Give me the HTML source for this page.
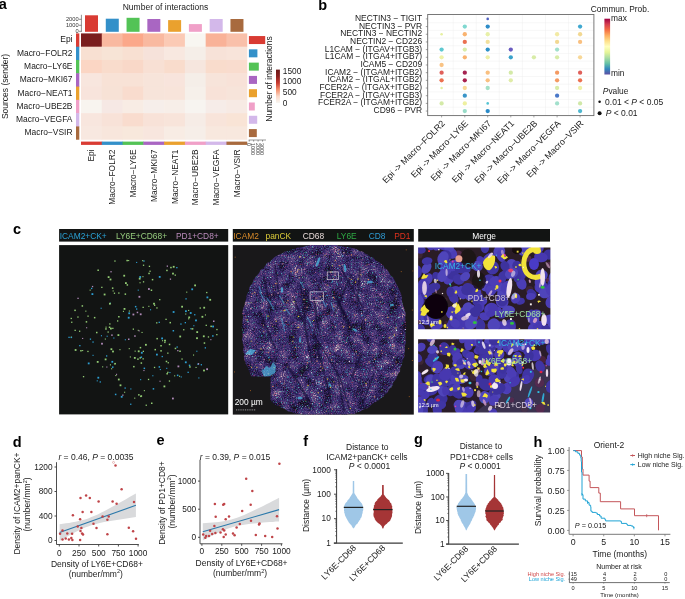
<!DOCTYPE html>
<html><head><meta charset="utf-8"><style>
html,body{margin:0;padding:0;background:#fff;width:685px;height:599px;overflow:hidden}
svg{display:block;filter:blur(0.4px)}
text{font-family:"Liberation Sans", sans-serif}
</style></head><body>
<svg width="685" height="599" viewBox="0 0 685 599" font-family='"Liberation Sans", sans-serif'>
<rect width="685" height="599" fill="#fff"/>
<text x="-1.20" y="8.70" font-size="14.5" text-anchor="start" fill="#000" font-weight="bold" >a</text>
<text x="165.50" y="10.20" font-size="8.5" text-anchor="middle" fill="#1a1a1a" >Number of interactions</text>
<rect x="85.00" y="15.30" width="13.00" height="16.50" fill="#d93b33" />
<rect x="105.78" y="18.70" width="13.00" height="13.10" fill="#3390c9" />
<rect x="126.56" y="17.80" width="13.00" height="14.00" fill="#53c356" />
<rect x="147.34" y="19.00" width="13.00" height="12.80" fill="#a966c2" />
<rect x="168.12" y="20.10" width="13.00" height="11.70" fill="#eaa12e" />
<rect x="188.90" y="24.10" width="13.00" height="7.70" fill="#f0a0c8" />
<rect x="209.68" y="19.00" width="13.00" height="12.80" fill="#d3b8ea" />
<rect x="230.46" y="19.00" width="13.00" height="12.80" fill="#a86a3e" />
<line x1="81.40" y1="14.80" x2="81.40" y2="31.80" stroke="#444" stroke-width="0.6" />
<line x1="79.00" y1="19.30" x2="81.40" y2="19.30" stroke="#444" stroke-width="0.6" />
<text x="78.60" y="21.30" font-size="5.7" text-anchor="end" fill="#333" >2000</text>
<line x1="79.00" y1="25.30" x2="81.40" y2="25.30" stroke="#444" stroke-width="0.6" />
<text x="78.60" y="27.30" font-size="5.7" text-anchor="end" fill="#333" >1000</text>
<line x1="79.00" y1="31.30" x2="81.40" y2="31.30" stroke="#444" stroke-width="0.6" />
<text x="78.60" y="33.30" font-size="5.7" text-anchor="end" fill="#333" >0</text>
<rect x="81.00" y="33.40" width="21.28" height="13.79" fill="#7a1e1e" />
<rect x="101.78" y="33.40" width="21.28" height="13.79" fill="#f9b9a0" />
<rect x="122.56" y="33.40" width="21.28" height="13.79" fill="#fba88a" />
<rect x="143.34" y="33.40" width="21.28" height="13.79" fill="#f9b9a0" />
<rect x="164.12" y="33.40" width="21.28" height="13.79" fill="#fbcab5" />
<rect x="184.90" y="33.40" width="21.28" height="13.79" fill="#f8f6f1" />
<rect x="205.68" y="33.40" width="21.28" height="13.79" fill="#f9b298" />
<rect x="226.46" y="33.40" width="20.78" height="13.79" fill="#f9c0aa" />
<rect x="81.00" y="46.69" width="21.28" height="13.79" fill="#f8e0d2" />
<rect x="101.78" y="46.69" width="21.28" height="13.79" fill="#f7e4d6" />
<rect x="122.56" y="46.69" width="21.28" height="13.79" fill="#f8e0d2" />
<rect x="143.34" y="46.69" width="21.28" height="13.79" fill="#f6e2da" />
<rect x="164.12" y="46.69" width="21.28" height="13.79" fill="#f8e8e0" />
<rect x="184.90" y="46.69" width="21.28" height="13.79" fill="#f5eee8" />
<rect x="205.68" y="46.69" width="21.28" height="13.79" fill="#f7e2d8" />
<rect x="226.46" y="46.69" width="20.78" height="13.79" fill="#f8e4da" />
<rect x="81.00" y="59.98" width="21.28" height="13.79" fill="#fbd6c4" />
<rect x="101.78" y="59.98" width="21.28" height="13.79" fill="#f9dccc" />
<rect x="122.56" y="59.98" width="21.28" height="13.79" fill="#f9d8c8" />
<rect x="143.34" y="59.98" width="21.28" height="13.79" fill="#f8e0d4" />
<rect x="164.12" y="59.98" width="21.28" height="13.79" fill="#f9dccc" />
<rect x="184.90" y="59.98" width="21.28" height="13.79" fill="#f6e6de" />
<rect x="205.68" y="59.98" width="21.28" height="13.79" fill="#f9dccc" />
<rect x="226.46" y="59.98" width="20.78" height="13.79" fill="#f9dcce" />
<rect x="81.00" y="73.27" width="21.28" height="13.79" fill="#f8e6de" />
<rect x="101.78" y="73.27" width="21.28" height="13.79" fill="#f8e2d6" />
<rect x="122.56" y="73.27" width="21.28" height="13.79" fill="#f8e2d6" />
<rect x="143.34" y="73.27" width="21.28" height="13.79" fill="#f7e4da" />
<rect x="164.12" y="73.27" width="21.28" height="13.79" fill="#f8e4dc" />
<rect x="184.90" y="73.27" width="21.28" height="13.79" fill="#f5eee8" />
<rect x="205.68" y="73.27" width="21.28" height="13.79" fill="#f7e4da" />
<rect x="226.46" y="73.27" width="20.78" height="13.79" fill="#f8e2d8" />
<rect x="81.00" y="86.56" width="21.28" height="13.79" fill="#f8e4dc" />
<rect x="101.78" y="86.56" width="21.28" height="13.79" fill="#f7e2d6" />
<rect x="122.56" y="86.56" width="21.28" height="13.79" fill="#f9dcce" />
<rect x="143.34" y="86.56" width="21.28" height="13.79" fill="#f7e4da" />
<rect x="164.12" y="86.56" width="21.28" height="13.79" fill="#f8e4da" />
<rect x="184.90" y="86.56" width="21.28" height="13.79" fill="#f6f0ea" />
<rect x="205.68" y="86.56" width="21.28" height="13.79" fill="#f8e2d8" />
<rect x="226.46" y="86.56" width="20.78" height="13.79" fill="#f7e4da" />
<rect x="81.00" y="99.85" width="21.28" height="13.79" fill="#f8f4ef" />
<rect x="101.78" y="99.85" width="21.28" height="13.79" fill="#f6e8e4" />
<rect x="122.56" y="99.85" width="21.28" height="13.79" fill="#f8ece4" />
<rect x="143.34" y="99.85" width="21.28" height="13.79" fill="#f6eeea" />
<rect x="164.12" y="99.85" width="21.28" height="13.79" fill="#f7eee8" />
<rect x="184.90" y="99.85" width="21.28" height="13.79" fill="#f7f4f0" />
<rect x="205.68" y="99.85" width="21.28" height="13.79" fill="#f6ece8" />
<rect x="226.46" y="99.85" width="20.78" height="13.79" fill="#f7eae4" />
<rect x="81.00" y="113.14" width="21.28" height="13.79" fill="#f8e6de" />
<rect x="101.78" y="113.14" width="21.28" height="13.79" fill="#f8e2d8" />
<rect x="122.56" y="113.14" width="21.28" height="13.79" fill="#f9dcce" />
<rect x="143.34" y="113.14" width="21.28" height="13.79" fill="#f8e2d8" />
<rect x="164.12" y="113.14" width="21.28" height="13.79" fill="#f8e4da" />
<rect x="184.90" y="113.14" width="21.28" height="13.79" fill="#f6ece6" />
<rect x="205.68" y="113.14" width="21.28" height="13.79" fill="#f8e4da" />
<rect x="226.46" y="113.14" width="20.78" height="13.79" fill="#f9e4d6" />
<rect x="81.00" y="126.43" width="21.28" height="13.29" fill="#f8e8e0" />
<rect x="101.78" y="126.43" width="21.28" height="13.29" fill="#f8e6dc" />
<rect x="122.56" y="126.43" width="21.28" height="13.29" fill="#f8e8dc" />
<rect x="143.34" y="126.43" width="21.28" height="13.29" fill="#f8e6de" />
<rect x="164.12" y="126.43" width="21.28" height="13.29" fill="#f8ece4" />
<rect x="184.90" y="126.43" width="21.28" height="13.29" fill="#f6eee8" />
<rect x="205.68" y="126.43" width="21.28" height="13.29" fill="#f8e8de" />
<rect x="226.46" y="126.43" width="20.78" height="13.29" fill="#f8e8de" />
<rect x="76.00" y="33.40" width="3.30" height="13.79" fill="#d93b33" />
<rect x="76.00" y="46.69" width="3.30" height="13.79" fill="#3390c9" />
<rect x="76.00" y="59.98" width="3.30" height="13.79" fill="#53c356" />
<rect x="76.00" y="73.27" width="3.30" height="13.79" fill="#a966c2" />
<rect x="76.00" y="86.56" width="3.30" height="13.79" fill="#eaa12e" />
<rect x="76.00" y="99.85" width="3.30" height="13.79" fill="#f0a0c8" />
<rect x="76.00" y="113.14" width="3.30" height="13.79" fill="#d3b8ea" />
<rect x="76.00" y="126.43" width="3.30" height="13.29" fill="#a86a3e" />
<rect x="81.00" y="141.60" width="21.28" height="3.30" fill="#d93b33" />
<rect x="101.78" y="141.60" width="21.28" height="3.30" fill="#3390c9" />
<rect x="122.56" y="141.60" width="21.28" height="3.30" fill="#53c356" />
<rect x="143.34" y="141.60" width="21.28" height="3.30" fill="#a966c2" />
<rect x="164.12" y="141.60" width="21.28" height="3.30" fill="#eaa12e" />
<rect x="184.90" y="141.60" width="21.28" height="3.30" fill="#f0a0c8" />
<rect x="205.68" y="141.60" width="21.28" height="3.30" fill="#d3b8ea" />
<rect x="226.46" y="141.60" width="20.78" height="3.30" fill="#a86a3e" />
<rect x="248.90" y="36.05" width="16.30" height="8.00" fill="#d93b33" />
<rect x="248.90" y="49.33" width="8.50" height="8.00" fill="#3390c9" />
<rect x="248.90" y="62.62" width="9.90" height="8.00" fill="#53c356" />
<rect x="248.90" y="75.91" width="8.10" height="8.00" fill="#a966c2" />
<rect x="248.90" y="89.20" width="8.10" height="8.00" fill="#eaa12e" />
<rect x="248.90" y="102.49" width="5.90" height="8.00" fill="#f0a0c8" />
<rect x="248.90" y="115.78" width="8.30" height="8.00" fill="#d3b8ea" />
<rect x="248.90" y="129.08" width="7.90" height="8.00" fill="#a86a3e" />
<line x1="248.70" y1="140.00" x2="266.00" y2="140.00" stroke="#555" stroke-width="0.6" />
<line x1="249.20" y1="140.00" x2="249.20" y2="141.60" stroke="#555" stroke-width="0.6" />
<text transform="translate(247.40,142.9) rotate(90)" font-size="5.4" fill="#444">0</text>
<line x1="253.65" y1="140.00" x2="253.65" y2="141.60" stroke="#555" stroke-width="0.6" />
<text transform="translate(251.40,142.9) rotate(90)" font-size="5.4" fill="#444">1000</text>
<line x1="258.10" y1="140.00" x2="258.10" y2="141.60" stroke="#555" stroke-width="0.6" />
<text transform="translate(255.80,142.9) rotate(90)" font-size="5.4" fill="#444">2000</text>
<line x1="262.55" y1="140.00" x2="262.55" y2="141.60" stroke="#555" stroke-width="0.6" />
<text transform="translate(260.20,142.9) rotate(90)" font-size="5.4" fill="#444">3000</text>
<text x="72.50" y="42.40" font-size="8.45" text-anchor="end" fill="#1a1a1a" >Epi</text>
<text x="72.50" y="55.69" font-size="8.45" text-anchor="end" fill="#1a1a1a" >Macro−FOLR2</text>
<text x="72.50" y="68.98" font-size="8.45" text-anchor="end" fill="#1a1a1a" >Macro−LY6E</text>
<text x="72.50" y="82.27" font-size="8.45" text-anchor="end" fill="#1a1a1a" >Macro−MKI67</text>
<text x="72.50" y="95.56" font-size="8.45" text-anchor="end" fill="#1a1a1a" >Macro−NEAT1</text>
<text x="72.50" y="108.85" font-size="8.45" text-anchor="end" fill="#1a1a1a" >Macro−UBE2B</text>
<text x="72.50" y="122.14" font-size="8.45" text-anchor="end" fill="#1a1a1a" >Macro−VEGFA</text>
<text x="72.50" y="135.43" font-size="8.45" text-anchor="end" fill="#1a1a1a" >Macro−VSIR</text>
<text transform="translate(94.39,149.5) rotate(-90)" font-size="8.4" text-anchor="end" fill="#1a1a1a">Epi</text>
<text transform="translate(115.17,149.5) rotate(-90)" font-size="8.4" text-anchor="end" fill="#1a1a1a">Macro−FOLR2</text>
<text transform="translate(135.95,149.5) rotate(-90)" font-size="8.4" text-anchor="end" fill="#1a1a1a">Macro−LY6E</text>
<text transform="translate(156.73,149.5) rotate(-90)" font-size="8.4" text-anchor="end" fill="#1a1a1a">Macro−MKI67</text>
<text transform="translate(177.51,149.5) rotate(-90)" font-size="8.4" text-anchor="end" fill="#1a1a1a">Macro−NEAT1</text>
<text transform="translate(198.29,149.5) rotate(-90)" font-size="8.4" text-anchor="end" fill="#1a1a1a">Macro−UBE2B</text>
<text transform="translate(219.07,149.5) rotate(-90)" font-size="8.4" text-anchor="end" fill="#1a1a1a">Macro−VEGFA</text>
<text transform="translate(239.85,149.5) rotate(-90)" font-size="8.4" text-anchor="end" fill="#1a1a1a">Macro−VSIR</text>
<text transform="translate(8.0,86.5) rotate(-90)" font-size="8.5" text-anchor="middle" fill="#1a1a1a">Sources (sender)</text>
<text transform="translate(271.6,79.0) rotate(-90)" font-size="8.5" text-anchor="middle" fill="#1a1a1a">Number of interactions</text>
<defs><linearGradient id="hmg" x1="0" y1="1" x2="0" y2="0"><stop offset="0" stop-color="#f8f6f2"/><stop offset="0.2" stop-color="#fbd8c8"/><stop offset="0.4" stop-color="#f4906c"/><stop offset="0.6" stop-color="#c83a30"/><stop offset="0.8" stop-color="#8c2020"/><stop offset="1" stop-color="#6a1818"/></linearGradient></defs>
<rect x="276.00" y="69.60" width="3.90" height="33.40" fill="url(#hmg)" />
<text x="282.80" y="73.80" font-size="8.3" text-anchor="start" fill="#1a1a1a" >1500</text>
<text x="282.80" y="84.20" font-size="8.3" text-anchor="start" fill="#1a1a1a" >1000</text>
<text x="282.80" y="95.00" font-size="8.3" text-anchor="start" fill="#1a1a1a" >500</text>
<text x="282.80" y="105.60" font-size="8.3" text-anchor="start" fill="#1a1a1a" >0</text>
<text x="318.20" y="9.60" font-size="14.5" text-anchor="start" fill="#000" font-weight="bold" >b</text>
<line x1="453.20" y1="14.50" x2="453.20" y2="115.60" stroke="#ececec" stroke-width="0.4" />
<line x1="476.25" y1="14.50" x2="476.25" y2="115.60" stroke="#ececec" stroke-width="0.4" />
<line x1="499.25" y1="14.50" x2="499.25" y2="115.60" stroke="#ececec" stroke-width="0.4" />
<line x1="522.35" y1="14.50" x2="522.35" y2="115.60" stroke="#ececec" stroke-width="0.4" />
<line x1="545.50" y1="14.50" x2="545.50" y2="115.60" stroke="#ececec" stroke-width="0.4" />
<line x1="568.60" y1="14.50" x2="568.60" y2="115.60" stroke="#ececec" stroke-width="0.4" />
<line x1="427.70" y1="22.74" x2="593.90" y2="22.74" stroke="#ececec" stroke-width="0.4" />
<line x1="427.70" y1="30.42" x2="593.90" y2="30.42" stroke="#ececec" stroke-width="0.4" />
<line x1="427.70" y1="38.10" x2="593.90" y2="38.10" stroke="#ececec" stroke-width="0.4" />
<line x1="427.70" y1="45.78" x2="593.90" y2="45.78" stroke="#ececec" stroke-width="0.4" />
<line x1="427.70" y1="53.46" x2="593.90" y2="53.46" stroke="#ececec" stroke-width="0.4" />
<line x1="427.70" y1="61.14" x2="593.90" y2="61.14" stroke="#ececec" stroke-width="0.4" />
<line x1="427.70" y1="68.82" x2="593.90" y2="68.82" stroke="#ececec" stroke-width="0.4" />
<line x1="427.70" y1="76.50" x2="593.90" y2="76.50" stroke="#ececec" stroke-width="0.4" />
<line x1="427.70" y1="84.18" x2="593.90" y2="84.18" stroke="#ececec" stroke-width="0.4" />
<line x1="427.70" y1="91.86" x2="593.90" y2="91.86" stroke="#ececec" stroke-width="0.4" />
<line x1="427.70" y1="99.54" x2="593.90" y2="99.54" stroke="#ececec" stroke-width="0.4" />
<line x1="427.70" y1="107.22" x2="593.90" y2="107.22" stroke="#ececec" stroke-width="0.4" />
<rect x="427.7" y="14.5" width="166.20" height="101.10" fill="none" stroke="#6a6a6a" stroke-width="0.9"/>
<line x1="425.80" y1="18.90" x2="427.70" y2="18.90" stroke="#666" stroke-width="0.6" />
<line x1="425.80" y1="26.58" x2="427.70" y2="26.58" stroke="#666" stroke-width="0.6" />
<line x1="425.80" y1="34.26" x2="427.70" y2="34.26" stroke="#666" stroke-width="0.6" />
<line x1="425.80" y1="41.94" x2="427.70" y2="41.94" stroke="#666" stroke-width="0.6" />
<line x1="425.80" y1="49.62" x2="427.70" y2="49.62" stroke="#666" stroke-width="0.6" />
<line x1="425.80" y1="57.30" x2="427.70" y2="57.30" stroke="#666" stroke-width="0.6" />
<line x1="425.80" y1="64.98" x2="427.70" y2="64.98" stroke="#666" stroke-width="0.6" />
<line x1="425.80" y1="72.66" x2="427.70" y2="72.66" stroke="#666" stroke-width="0.6" />
<line x1="425.80" y1="80.34" x2="427.70" y2="80.34" stroke="#666" stroke-width="0.6" />
<line x1="425.80" y1="88.02" x2="427.70" y2="88.02" stroke="#666" stroke-width="0.6" />
<line x1="425.80" y1="95.70" x2="427.70" y2="95.70" stroke="#666" stroke-width="0.6" />
<line x1="425.80" y1="103.38" x2="427.70" y2="103.38" stroke="#666" stroke-width="0.6" />
<line x1="425.80" y1="111.06" x2="427.70" y2="111.06" stroke="#666" stroke-width="0.6" />
<line x1="441.60" y1="115.60" x2="441.60" y2="117.40" stroke="#666" stroke-width="0.6" />
<line x1="464.80" y1="115.60" x2="464.80" y2="117.40" stroke="#666" stroke-width="0.6" />
<line x1="487.70" y1="115.60" x2="487.70" y2="117.40" stroke="#666" stroke-width="0.6" />
<line x1="510.80" y1="115.60" x2="510.80" y2="117.40" stroke="#666" stroke-width="0.6" />
<line x1="533.90" y1="115.60" x2="533.90" y2="117.40" stroke="#666" stroke-width="0.6" />
<line x1="557.10" y1="115.60" x2="557.10" y2="117.40" stroke="#666" stroke-width="0.6" />
<line x1="580.10" y1="115.60" x2="580.10" y2="117.40" stroke="#666" stroke-width="0.6" />
<text x="422.10" y="21.00" font-size="8.45" text-anchor="end" fill="#1a1a1a" >NECTIN3 − TIGIT</text>
<text x="422.10" y="28.68" font-size="8.45" text-anchor="end" fill="#1a1a1a" >NECTIN3 − PVR</text>
<text x="422.10" y="36.36" font-size="8.45" text-anchor="end" fill="#1a1a1a" >NECTIN3 − NECTIN2</text>
<text x="422.10" y="44.04" font-size="8.45" text-anchor="end" fill="#1a1a1a" >NECTIN2 − CD226</text>
<text x="422.10" y="51.72" font-size="8.45" text-anchor="end" fill="#1a1a1a" >L1CAM − (ITGAV+ITGB3)</text>
<text x="422.10" y="59.40" font-size="8.45" text-anchor="end" fill="#1a1a1a" >L1CAM − (ITGA4+ITGB7)</text>
<text x="422.10" y="67.08" font-size="8.45" text-anchor="end" fill="#1a1a1a" >ICAM5 − CD209</text>
<text x="422.10" y="74.76" font-size="8.45" text-anchor="end" fill="#1a1a1a" >ICAM2 − (ITGAM+ITGB2)</text>
<text x="422.10" y="82.44" font-size="8.45" text-anchor="end" fill="#1a1a1a" >ICAM2 − (ITGAL+ITGB2)</text>
<text x="422.10" y="90.12" font-size="8.45" text-anchor="end" fill="#1a1a1a" >FCER2A − (ITGAX+ITGB2)</text>
<text x="422.10" y="97.80" font-size="8.45" text-anchor="end" fill="#1a1a1a" >FCER2A − (ITGAV+ITGB3)</text>
<text x="422.10" y="105.48" font-size="8.45" text-anchor="end" fill="#1a1a1a" >FCER2A − (ITGAM+ITGB2)</text>
<text x="422.10" y="113.16" font-size="8.45" text-anchor="end" fill="#1a1a1a" >CD96 − PVR</text>
<circle cx="441.60" cy="34.26" r="1.30" fill="#e6f0a0" />
<circle cx="441.60" cy="49.62" r="2.15" fill="#5ec8d0" />
<circle cx="441.60" cy="57.30" r="2.15" fill="#eef2a8" />
<circle cx="441.60" cy="64.98" r="2.15" fill="#f9c384" />
<circle cx="441.60" cy="72.66" r="2.15" fill="#e0605a" />
<circle cx="441.60" cy="80.34" r="2.15" fill="#ec7050" />
<circle cx="441.60" cy="88.02" r="1.30" fill="#e4eea0" />
<circle cx="441.60" cy="103.38" r="2.15" fill="#d4eaa8" />
<circle cx="464.80" cy="26.58" r="2.15" fill="#80d8d0" />
<circle cx="464.80" cy="34.26" r="2.15" fill="#f9b370" />
<circle cx="464.80" cy="41.94" r="2.15" fill="#ea7050" />
<circle cx="464.80" cy="49.62" r="2.15" fill="#d8eca8" />
<circle cx="464.80" cy="57.30" r="2.15" fill="#f9b370" />
<circle cx="464.80" cy="72.66" r="2.15" fill="#a52350" />
<circle cx="464.80" cy="80.34" r="2.15" fill="#a8204c" />
<circle cx="464.80" cy="88.02" r="2.15" fill="#fad896" />
<circle cx="464.80" cy="95.70" r="2.15" fill="#3a95c8" />
<circle cx="464.80" cy="103.38" r="2.15" fill="#eef0a0" />
<circle cx="464.80" cy="111.06" r="2.15" fill="#98dcc8" />
<circle cx="487.70" cy="18.90" r="1.30" fill="#5060c0" />
<circle cx="487.70" cy="26.58" r="2.15" fill="#2e8cc8" />
<circle cx="487.70" cy="34.26" r="2.15" fill="#e8f0a8" />
<circle cx="487.70" cy="41.94" r="2.15" fill="#f2e09c" />
<circle cx="487.70" cy="49.62" r="2.15" fill="#2e92c8" />
<circle cx="487.70" cy="57.30" r="2.15" fill="#eef0a8" />
<circle cx="487.70" cy="72.66" r="2.15" fill="#f9c080" />
<circle cx="487.70" cy="80.34" r="2.15" fill="#f9c080" />
<circle cx="487.70" cy="88.02" r="2.15" fill="#a4e0c6" />
<circle cx="487.70" cy="103.38" r="1.30" fill="#55c4d2" />
<circle cx="487.70" cy="111.06" r="2.15" fill="#2a8ac8" />
<circle cx="510.80" cy="49.62" r="2.15" fill="#6a5cc0" />
<circle cx="510.80" cy="57.30" r="2.15" fill="#3aa2ca" />
<circle cx="510.80" cy="72.66" r="2.15" fill="#d4eaa8" />
<circle cx="510.80" cy="80.34" r="2.15" fill="#e0eca8" />
<circle cx="533.90" cy="57.30" r="2.15" fill="#d8eca8" />
<circle cx="557.10" cy="34.26" r="2.15" fill="#f2eaa4" />
<circle cx="557.10" cy="41.94" r="2.15" fill="#f2d892" />
<circle cx="557.10" cy="49.62" r="2.15" fill="#a2e0cc" />
<circle cx="557.10" cy="57.30" r="2.15" fill="#d8eca8" />
<circle cx="557.10" cy="72.66" r="2.15" fill="#f49a62" />
<circle cx="557.10" cy="80.34" r="2.15" fill="#f49a62" />
<circle cx="557.10" cy="88.02" r="2.15" fill="#d8eca8" />
<circle cx="557.10" cy="95.70" r="2.15" fill="#4a78c8" />
<circle cx="557.10" cy="103.38" r="2.15" fill="#a2e0cc" />
<circle cx="580.10" cy="26.58" r="2.15" fill="#40a8d0" />
<circle cx="580.10" cy="34.26" r="2.15" fill="#f2d892" />
<circle cx="580.10" cy="41.94" r="2.15" fill="#f9c080" />
<circle cx="580.10" cy="57.30" r="2.15" fill="#f8d898" />
<circle cx="580.10" cy="72.66" r="2.15" fill="#e0605a" />
<circle cx="580.10" cy="80.34" r="2.15" fill="#ec7050" />
<circle cx="580.10" cy="88.02" r="2.15" fill="#eef0a8" />
<circle cx="580.10" cy="103.38" r="2.15" fill="#d0e8a8" />
<circle cx="580.10" cy="111.06" r="2.15" fill="#50b8d0" />
<text transform="translate(445.60,124.0) rotate(-45)" font-size="8.9" text-anchor="end" fill="#1a1a1a">Epi -&gt; Macro−FOLR2</text>
<text transform="translate(468.80,124.0) rotate(-45)" font-size="8.9" text-anchor="end" fill="#1a1a1a">Epi -&gt; Macro−LY6E</text>
<text transform="translate(491.70,124.0) rotate(-45)" font-size="8.9" text-anchor="end" fill="#1a1a1a">Epi -&gt; Macro−MKI67</text>
<text transform="translate(514.80,124.0) rotate(-45)" font-size="8.9" text-anchor="end" fill="#1a1a1a">Epi -&gt; Macro−NEAT1</text>
<text transform="translate(537.90,124.0) rotate(-45)" font-size="8.9" text-anchor="end" fill="#1a1a1a">Epi -&gt; Macro−UBE2B</text>
<text transform="translate(561.10,124.0) rotate(-45)" font-size="8.9" text-anchor="end" fill="#1a1a1a">Epi -&gt; Macro−VEGFA</text>
<text transform="translate(584.10,124.0) rotate(-45)" font-size="8.9" text-anchor="end" fill="#1a1a1a">Epi -&gt; Macro−VSIR</text>
<text x="590.80" y="12.40" font-size="8.35" text-anchor="start" fill="#1a1a1a" >Commun. Prob.</text>
<defs><linearGradient id="spg" x1="0" y1="1" x2="0" y2="0"><stop offset="0.00" stop-color="#5e4fa2"/><stop offset="0.10" stop-color="#3288bd"/><stop offset="0.20" stop-color="#66c2a5"/><stop offset="0.30" stop-color="#abdda4"/><stop offset="0.40" stop-color="#e6f598"/><stop offset="0.50" stop-color="#ffffbf"/><stop offset="0.60" stop-color="#fee08b"/><stop offset="0.70" stop-color="#fdae61"/><stop offset="0.80" stop-color="#f46d43"/><stop offset="0.90" stop-color="#d53e4f"/><stop offset="1.00" stop-color="#9e0142"/></linearGradient></defs>
<rect x="604.40" y="18.70" width="5.70" height="55.80" fill="url(#spg)" />
<text x="611.00" y="21.20" font-size="8.4" text-anchor="start" fill="#1a1a1a" >max</text>
<text x="611.00" y="76.30" font-size="8.4" text-anchor="start" fill="#1a1a1a" >min</text>
<text x="602.80" y="93.50" font-size="8.4" text-anchor="start" fill="#1a1a1a" ><tspan font-style="italic">P</tspan>value</text>
<circle cx="599.60" cy="101.80" r="1.25" fill="#111" />
<text x="605.10" y="104.70" font-size="8.5" text-anchor="start" fill="#1a1a1a" >0.01 &lt; <tspan font-style="italic">P</tspan> &lt; 0.05</text>
<circle cx="599.60" cy="113.20" r="2.00" fill="#111" />
<text x="605.70" y="116.00" font-size="8.5" text-anchor="start" fill="#1a1a1a" ><tspan font-style="italic">P</tspan> &lt; 0.01</text>
<text x="13.10" y="233.70" font-size="14.5" text-anchor="start" fill="#000" font-weight="bold" >c</text>
<rect x="59.10" y="229.00" width="169.10" height="12.60" fill="#121413" />
<rect x="232.80" y="229.00" width="181.00" height="12.60" fill="#121413" />
<rect x="418.20" y="229.00" width="131.80" height="12.60" fill="#121413" />
<text x="59.70" y="238.60" font-size="8.4" text-anchor="start" fill="#2aa2d6" >ICAM2+CK+</text>
<text x="116.00" y="238.60" font-size="8.4" text-anchor="start" fill="#96cc7e" >LY6E+CD68+</text>
<text x="175.90" y="238.60" font-size="8.4" text-anchor="start" fill="#bb8cbc" >PD1+CD8+</text>
<text x="233.30" y="238.60" font-size="8.4" text-anchor="start" fill="#d88a2a" >ICAM2</text>
<text x="265.50" y="238.60" font-size="8.4" text-anchor="start" fill="#dccc3a" >panCK</text>
<text x="302.70" y="238.60" font-size="8.4" text-anchor="start" fill="#e6d8d6" >CD68</text>
<text x="336.80" y="238.60" font-size="8.4" text-anchor="start" fill="#2eaa44" >LY6E</text>
<text x="368.70" y="238.60" font-size="8.4" text-anchor="start" fill="#2e9ad2" >CD8</text>
<text x="394.20" y="238.60" font-size="8.4" text-anchor="start" fill="#e0321e" >PD1</text>
<text x="484.10" y="238.60" font-size="8.4" text-anchor="middle" fill="#fff" >Merge</text>
<rect x="59.10" y="245.10" width="169.10" height="169.30" fill="#121413" />
<g opacity="0.95"><rect x="129.8" y="356.4" width="1.1" height="1.1" fill="#9ad67a"/><rect x="193.0" y="354.5" width="1.1" height="1.1" fill="#9ad67a"/><rect x="172.7" y="311.1" width="1.8" height="1.8" fill="#2ea6dc"/><rect x="110.5" y="348.3" width="1.8" height="1.8" fill="#9ad67a"/><rect x="196.3" y="350.7" width="1.1" height="1.1" fill="#2ea6dc"/><rect x="100.6" y="307.7" width="1.1" height="1.1" fill="#2ea6dc"/><rect x="117.0" y="320.3" width="1.3" height="1.3" fill="#9ad67a"/><rect x="87.4" y="315.5" width="1.3" height="1.3" fill="#9ad67a"/><rect x="188.8" y="364.6" width="1.5" height="1.5" fill="#2ea6dc"/><rect x="195.5" y="366.9" width="1.1" height="1.1" fill="#9ad67a"/><rect x="103.7" y="293.6" width="1.8" height="1.8" fill="#9ad67a"/><rect x="151.8" y="278.9" width="1.5" height="1.5" fill="#9ad67a"/><rect x="122.2" y="394.5" width="1.3" height="1.3" fill="#b890c0"/><rect x="179.3" y="350.5" width="1.5" height="1.5" fill="#9ad67a"/><rect x="137.7" y="289.6" width="1.1" height="1.1" fill="#2ea6dc"/><rect x="112.2" y="327.7" width="1.3" height="1.3" fill="#9ad67a"/><rect x="188.1" y="309.9" width="1.1" height="1.1" fill="#9ad67a"/><rect x="148.3" y="272.7" width="1.5" height="1.5" fill="#9ad67a"/><rect x="123.3" y="274.8" width="1.8" height="1.8" fill="#9ad67a"/><rect x="164.1" y="339.7" width="1.8" height="1.8" fill="#9ad67a"/><rect x="136.7" y="311.7" width="1.5" height="1.5" fill="#b890c0"/><rect x="97.4" y="269.5" width="1.5" height="1.5" fill="#9ad67a"/><rect x="128.1" y="260.0" width="1.1" height="1.1" fill="#9ad67a"/><rect x="185.2" y="313.5" width="1.1" height="1.1" fill="#9ad67a"/><rect x="107.5" y="331.4" width="1.3" height="1.3" fill="#9ad67a"/><rect x="139.5" y="282.2" width="1.1" height="1.1" fill="#9ad67a"/><rect x="167.2" y="371.7" width="1.3" height="1.3" fill="#9ad67a"/><rect x="172.8" y="265.9" width="1.8" height="1.8" fill="#9ad67a"/><rect x="205.6" y="324.7" width="1.3" height="1.3" fill="#9ad67a"/><rect x="161.6" y="355.9" width="1.3" height="1.3" fill="#2ea6dc"/><rect x="212.1" y="335.2" width="1.5" height="1.5" fill="#2ea6dc"/><rect x="137.2" y="358.4" width="1.5" height="1.5" fill="#9ad67a"/><rect x="109.9" y="302.7" width="1.1" height="1.1" fill="#2ea6dc"/><rect x="74.7" y="349.1" width="1.8" height="1.8" fill="#9ad67a"/><rect x="104.7" y="358.5" width="1.8" height="1.8" fill="#9ad67a"/><rect x="161.2" y="337.5" width="1.8" height="1.8" fill="#2ea6dc"/><rect x="166.2" y="367.8" width="1.1" height="1.1" fill="#2ea6dc"/><rect x="172.6" y="330.0" width="1.5" height="1.5" fill="#2ea6dc"/><rect x="127.8" y="316.8" width="1.8" height="1.8" fill="#2ea6dc"/><rect x="165.7" y="360.7" width="1.5" height="1.5" fill="#9ad67a"/><rect x="117.5" y="334.2" width="1.8" height="1.8" fill="#9ad67a"/><rect x="100.9" y="335.2" width="1.1" height="1.1" fill="#2ea6dc"/><rect x="142.9" y="264.6" width="1.3" height="1.3" fill="#9ad67a"/><rect x="108.8" y="326.5" width="1.5" height="1.5" fill="#9ad67a"/><rect x="176.9" y="374.6" width="1.5" height="1.5" fill="#2ea6dc"/><rect x="213.0" y="320.5" width="1.5" height="1.5" fill="#b890c0"/><rect x="71.1" y="321.6" width="1.3" height="1.3" fill="#9ad67a"/><rect x="77.3" y="316.4" width="1.3" height="1.3" fill="#9ad67a"/><rect x="91.9" y="285.9" width="1.3" height="1.3" fill="#b890c0"/><rect x="166.7" y="265.5" width="1.3" height="1.3" fill="#b890c0"/><rect x="159.5" y="380.7" width="1.1" height="1.1" fill="#b890c0"/><rect x="210.4" y="325.6" width="1.5" height="1.5" fill="#9ad67a"/><rect x="163.5" y="385.5" width="1.8" height="1.8" fill="#9ad67a"/><rect x="166.2" y="269.7" width="1.5" height="1.5" fill="#9ad67a"/><rect x="164.2" y="341.8" width="1.3" height="1.3" fill="#9ad67a"/><rect x="115.3" y="375.0" width="1.1" height="1.1" fill="#9ad67a"/><rect x="82.1" y="337.9" width="1.1" height="1.1" fill="#b890c0"/><rect x="156.3" y="307.3" width="1.3" height="1.3" fill="#9ad67a"/><rect x="111.2" y="334.4" width="1.5" height="1.5" fill="#b890c0"/><rect x="206.2" y="368.3" width="1.8" height="1.8" fill="#b890c0"/><rect x="79.2" y="345.0" width="1.3" height="1.3" fill="#2ea6dc"/><rect x="156.0" y="353.7" width="1.8" height="1.8" fill="#2ea6dc"/><rect x="153.1" y="302.8" width="1.8" height="1.8" fill="#9ad67a"/><rect x="118.2" y="292.4" width="1.3" height="1.3" fill="#9ad67a"/><rect x="210.3" y="339.1" width="1.1" height="1.1" fill="#b890c0"/><rect x="70.6" y="317.8" width="1.3" height="1.3" fill="#9ad67a"/><rect x="159.1" y="299.0" width="1.3" height="1.3" fill="#9ad67a"/><rect x="133.1" y="365.9" width="1.5" height="1.5" fill="#9ad67a"/><rect x="140.1" y="379.1" width="1.1" height="1.1" fill="#2ea6dc"/><rect x="181.2" y="305.8" width="1.8" height="1.8" fill="#9ad67a"/><rect x="176.2" y="267.0" width="1.3" height="1.3" fill="#2ea6dc"/><rect x="132.7" y="328.5" width="1.3" height="1.3" fill="#9ad67a"/><rect x="91.0" y="287.8" width="1.3" height="1.3" fill="#2ea6dc"/><rect x="180.7" y="376.4" width="1.1" height="1.1" fill="#2ea6dc"/><rect x="117.9" y="378.6" width="1.8" height="1.8" fill="#9ad67a"/><rect x="148.3" y="305.8" width="1.1" height="1.1" fill="#9ad67a"/><rect x="143.4" y="370.0" width="1.1" height="1.1" fill="#b890c0"/><rect x="86.1" y="327.2" width="1.1" height="1.1" fill="#b890c0"/><rect x="87.3" y="350.8" width="1.3" height="1.3" fill="#9ad67a"/><rect x="125.0" y="282.2" width="1.8" height="1.8" fill="#9ad67a"/><rect x="105.2" y="328.2" width="1.5" height="1.5" fill="#9ad67a"/><rect x="206.5" y="296.5" width="1.8" height="1.8" fill="#2ea6dc"/><rect x="160.3" y="350.1" width="1.5" height="1.5" fill="#9ad67a"/><rect x="176.5" y="346.4" width="1.3" height="1.3" fill="#2ea6dc"/><rect x="110.4" y="271.1" width="1.3" height="1.3" fill="#b890c0"/><rect x="199.6" y="307.4" width="1.3" height="1.3" fill="#9ad67a"/><rect x="142.5" y="358.2" width="1.3" height="1.3" fill="#9ad67a"/><rect x="142.5" y="306.7" width="1.3" height="1.3" fill="#9ad67a"/><rect x="212.2" y="325.6" width="1.8" height="1.8" fill="#2ea6dc"/><rect x="191.3" y="328.2" width="1.3" height="1.3" fill="#9ad67a"/><rect x="128.7" y="348.1" width="1.1" height="1.1" fill="#9ad67a"/><rect x="116.0" y="373.8" width="1.1" height="1.1" fill="#b890c0"/><rect x="102.1" y="366.3" width="1.1" height="1.1" fill="#9ad67a"/><rect x="198.3" y="377.4" width="1.1" height="1.1" fill="#2ea6dc"/><rect x="177.2" y="350.0" width="1.3" height="1.3" fill="#b890c0"/><rect x="139.5" y="357.1" width="1.5" height="1.5" fill="#9ad67a"/><rect x="96.8" y="361.0" width="1.8" height="1.8" fill="#9ad67a"/><rect x="136.0" y="308.4" width="1.3" height="1.3" fill="#2ea6dc"/><rect x="124.8" y="339.2" width="1.1" height="1.1" fill="#2ea6dc"/><rect x="150.0" y="309.2" width="1.1" height="1.1" fill="#2ea6dc"/><rect x="140.6" y="356.4" width="1.5" height="1.5" fill="#2ea6dc"/><rect x="192.1" y="328.2" width="1.3" height="1.3" fill="#9ad67a"/><rect x="204.7" y="347.2" width="1.3" height="1.3" fill="#2ea6dc"/><rect x="140.6" y="362.3" width="1.5" height="1.5" fill="#9ad67a"/><rect x="109.2" y="323.3" width="1.3" height="1.3" fill="#9ad67a"/><rect x="134.2" y="397.6" width="1.1" height="1.1" fill="#9ad67a"/><rect x="207.8" y="336.3" width="1.3" height="1.3" fill="#9ad67a"/><rect x="105.5" y="326.6" width="1.1" height="1.1" fill="#9ad67a"/><rect x="109.6" y="278.6" width="1.8" height="1.8" fill="#9ad67a"/><rect x="74.3" y="309.6" width="1.5" height="1.5" fill="#9ad67a"/><rect x="114.3" y="260.4" width="1.3" height="1.3" fill="#9ad67a"/><rect x="174.6" y="274.5" width="1.3" height="1.3" fill="#9ad67a"/><rect x="106.0" y="355.3" width="1.3" height="1.3" fill="#2ea6dc"/><rect x="202.9" y="335.4" width="1.8" height="1.8" fill="#9ad67a"/><rect x="154.5" y="348.9" width="1.5" height="1.5" fill="#9ad67a"/><rect x="91.5" y="293.2" width="1.8" height="1.8" fill="#2ea6dc"/><rect x="158.6" y="366.2" width="1.5" height="1.5" fill="#2ea6dc"/><rect x="114.4" y="362.9" width="1.5" height="1.5" fill="#9ad67a"/><rect x="145.6" y="404.6" width="1.3" height="1.3" fill="#9ad67a"/><rect x="141.5" y="331.9" width="1.1" height="1.1" fill="#9ad67a"/><rect x="89.8" y="338.5" width="1.3" height="1.3" fill="#2ea6dc"/><rect x="137.7" y="329.8" width="1.1" height="1.1" fill="#9ad67a"/><rect x="179.0" y="375.7" width="1.1" height="1.1" fill="#9ad67a"/><rect x="124.5" y="387.4" width="1.3" height="1.3" fill="#2ea6dc"/><rect x="107.7" y="276.2" width="1.8" height="1.8" fill="#9ad67a"/><rect x="148.8" y="265.7" width="1.3" height="1.3" fill="#9ad67a"/><rect x="130.3" y="388.4" width="1.1" height="1.1" fill="#2ea6dc"/><rect x="172.1" y="272.7" width="1.8" height="1.8" fill="#9ad67a"/><rect x="136.1" y="261.9" width="1.1" height="1.1" fill="#2ea6dc"/><rect x="169.8" y="278.5" width="1.3" height="1.3" fill="#b890c0"/><rect x="156.4" y="337.9" width="1.5" height="1.5" fill="#9ad67a"/><rect x="188.1" y="318.3" width="1.1" height="1.1" fill="#9ad67a"/><rect x="101.2" y="286.7" width="1.3" height="1.3" fill="#9ad67a"/><rect x="138.6" y="330.3" width="1.1" height="1.1" fill="#b890c0"/><rect x="142.4" y="276.1" width="1.1" height="1.1" fill="#9ad67a"/><rect x="132.5" y="313.6" width="1.8" height="1.8" fill="#b890c0"/><rect x="142.7" y="350.7" width="1.3" height="1.3" fill="#9ad67a"/><rect x="138.5" y="295.9" width="1.8" height="1.8" fill="#b890c0"/><rect x="96.0" y="331.8" width="1.5" height="1.5" fill="#9ad67a"/><rect x="149.4" y="270.6" width="1.3" height="1.3" fill="#9ad67a"/><rect x="168.8" y="343.7" width="1.5" height="1.5" fill="#9ad67a"/><rect x="122.9" y="310.8" width="1.1" height="1.1" fill="#9ad67a"/><rect x="68.4" y="336.7" width="1.3" height="1.3" fill="#2ea6dc"/><rect x="124.6" y="293.4" width="1.5" height="1.5" fill="#9ad67a"/><rect x="92.4" y="341.4" width="1.3" height="1.3" fill="#2ea6dc"/><rect x="134.6" y="350.6" width="1.1" height="1.1" fill="#9ad67a"/><rect x="137.8" y="350.4" width="1.8" height="1.8" fill="#9ad67a"/><rect x="190.2" y="328.2" width="1.1" height="1.1" fill="#2ea6dc"/><rect x="118.1" y="316.0" width="1.5" height="1.5" fill="#9ad67a"/><rect x="169.5" y="321.9" width="1.5" height="1.5" fill="#9ad67a"/><rect x="191.3" y="288.4" width="1.8" height="1.8" fill="#2ea6dc"/><rect x="185.4" y="298.2" width="1.3" height="1.3" fill="#2ea6dc"/><rect x="196.3" y="331.2" width="1.8" height="1.8" fill="#9ad67a"/><rect x="133.9" y="357.0" width="1.8" height="1.8" fill="#9ad67a"/><rect x="114.9" y="393.7" width="1.5" height="1.5" fill="#2ea6dc"/><rect x="143.3" y="260.4" width="1.3" height="1.3" fill="#2ea6dc"/><rect x="126.4" y="259.8" width="1.5" height="1.5" fill="#9ad67a"/><rect x="109.9" y="364.3" width="1.1" height="1.1" fill="#9ad67a"/><rect x="111.1" y="368.2" width="1.1" height="1.1" fill="#9ad67a"/><rect x="139.7" y="346.9" width="1.5" height="1.5" fill="#9ad67a"/><rect x="123.6" y="308.0" width="1.8" height="1.8" fill="#9ad67a"/><rect x="110.0" y="327.7" width="1.8" height="1.8" fill="#9ad67a"/><rect x="194.2" y="284.5" width="1.8" height="1.8" fill="#9ad67a"/><rect x="206.1" y="291.9" width="1.3" height="1.3" fill="#9ad67a"/><rect x="139.8" y="313.4" width="1.8" height="1.8" fill="#b890c0"/><rect x="80.2" y="350.0" width="1.5" height="1.5" fill="#9ad67a"/><rect x="70.7" y="336.6" width="1.3" height="1.3" fill="#9ad67a"/><rect x="166.4" y="373.0" width="1.5" height="1.5" fill="#9ad67a"/><rect x="140.6" y="395.3" width="1.5" height="1.5" fill="#9ad67a"/><rect x="112.1" y="350.6" width="1.8" height="1.8" fill="#9ad67a"/><rect x="187.5" y="371.7" width="1.3" height="1.3" fill="#2ea6dc"/><rect x="74.5" y="329.7" width="1.3" height="1.3" fill="#9ad67a"/><rect x="101.1" y="342.8" width="1.8" height="1.8" fill="#b890c0"/><rect x="92.5" y="354.8" width="1.1" height="1.1" fill="#2ea6dc"/><rect x="168.8" y="380.4" width="1.3" height="1.3" fill="#9ad67a"/><rect x="96.7" y="380.3" width="1.1" height="1.1" fill="#2ea6dc"/><rect x="142.9" y="281.2" width="1.3" height="1.3" fill="#9ad67a"/><rect x="111.4" y="360.9" width="1.8" height="1.8" fill="#2ea6dc"/><rect x="130.1" y="403.6" width="1.3" height="1.3" fill="#2ea6dc"/><rect x="203.1" y="369.6" width="1.8" height="1.8" fill="#9ad67a"/><rect x="112.6" y="290.4" width="1.1" height="1.1" fill="#9ad67a"/><rect x="177.5" y="365.5" width="1.8" height="1.8" fill="#b890c0"/><rect x="195.1" y="319.5" width="1.8" height="1.8" fill="#2ea6dc"/><rect x="209.3" y="298.9" width="1.8" height="1.8" fill="#9ad67a"/><rect x="180.3" y="323.4" width="1.3" height="1.3" fill="#2ea6dc"/><rect x="174.1" y="375.3" width="1.1" height="1.1" fill="#9ad67a"/><rect x="203.3" y="306.8" width="1.8" height="1.8" fill="#9ad67a"/><rect x="200.7" y="364.1" width="1.3" height="1.3" fill="#2ea6dc"/><rect x="151.0" y="402.5" width="1.5" height="1.5" fill="#9ad67a"/><rect x="201.5" y="315.9" width="1.8" height="1.8" fill="#9ad67a"/><rect x="134.9" y="305.9" width="1.5" height="1.5" fill="#2ea6dc"/><rect x="85.7" y="321.1" width="1.5" height="1.5" fill="#9ad67a"/><rect x="152.7" y="388.1" width="1.5" height="1.5" fill="#2ea6dc"/><rect x="183.1" y="329.1" width="1.3" height="1.3" fill="#9ad67a"/><rect x="106.6" y="335.7" width="1.1" height="1.1" fill="#2ea6dc"/><rect x="204.9" y="314.4" width="1.1" height="1.1" fill="#9ad67a"/><rect x="196.1" y="337.3" width="1.8" height="1.8" fill="#9ad67a"/><rect x="174.7" y="347.7" width="1.5" height="1.5" fill="#9ad67a"/><rect x="145.0" y="343.9" width="1.8" height="1.8" fill="#9ad67a"/><rect x="112.0" y="366.4" width="1.5" height="1.5" fill="#2ea6dc"/><rect x="139.3" y="276.1" width="1.8" height="1.8" fill="#2ea6dc"/><rect x="184.7" y="322.0" width="1.3" height="1.3" fill="#2ea6dc"/><rect x="104.8" y="338.5" width="1.1" height="1.1" fill="#9ad67a"/><rect x="194.1" y="314.1" width="1.3" height="1.3" fill="#2ea6dc"/><rect x="70.8" y="336.8" width="1.3" height="1.3" fill="#2ea6dc"/><rect x="158.6" y="321.7" width="1.3" height="1.3" fill="#2ea6dc"/><rect x="87.8" y="362.5" width="1.8" height="1.8" fill="#2ea6dc"/><rect x="82.1" y="350.0" width="1.1" height="1.1" fill="#9ad67a"/><rect x="216.3" y="328.9" width="1.3" height="1.3" fill="#9ad67a"/><rect x="172.0" y="397.6" width="1.8" height="1.8" fill="#b890c0"/><rect x="203.7" y="342.3" width="1.5" height="1.5" fill="#9ad67a"/><rect x="193.3" y="325.2" width="1.1" height="1.1" fill="#2ea6dc"/><rect x="162.0" y="340.2" width="1.1" height="1.1" fill="#9ad67a"/><rect x="81.6" y="305.2" width="1.5" height="1.5" fill="#9ad67a"/><rect x="148.0" y="288.1" width="1.8" height="1.8" fill="#b890c0"/><rect x="197.4" y="363.4" width="1.5" height="1.5" fill="#2ea6dc"/><rect x="93.9" y="316.9" width="1.5" height="1.5" fill="#9ad67a"/><rect x="138.8" y="277.8" width="1.8" height="1.8" fill="#9ad67a"/><rect x="143.8" y="390.1" width="1.1" height="1.1" fill="#9ad67a"/><rect x="106.3" y="366.5" width="1.1" height="1.1" fill="#b890c0"/><rect x="140.1" y="395.6" width="1.5" height="1.5" fill="#9ad67a"/><rect x="114.3" y="363.4" width="1.1" height="1.1" fill="#9ad67a"/><rect x="138.1" y="394.1" width="1.5" height="1.5" fill="#9ad67a"/><rect x="124.1" y="391.7" width="1.1" height="1.1" fill="#9ad67a"/><rect x="179.3" y="335.6" width="1.8" height="1.8" fill="#9ad67a"/><rect x="188.3" y="316.5" width="1.8" height="1.8" fill="#9ad67a"/><rect x="154.0" y="304.6" width="1.3" height="1.3" fill="#9ad67a"/><rect x="216.2" y="334.0" width="1.3" height="1.3" fill="#9ad67a"/><rect x="109.0" y="302.8" width="1.8" height="1.8" fill="#9ad67a"/><rect x="99.6" y="381.3" width="1.3" height="1.3" fill="#2ea6dc"/><rect x="119.4" y="349.1" width="1.1" height="1.1" fill="#9ad67a"/><rect x="111.9" y="287.4" width="1.5" height="1.5" fill="#9ad67a"/><rect x="169.4" y="372.0" width="1.1" height="1.1" fill="#2ea6dc"/><rect x="140.9" y="351.9" width="1.8" height="1.8" fill="#2ea6dc"/><rect x="79.0" y="330.6" width="1.3" height="1.3" fill="#9ad67a"/><rect x="147.9" y="378.8" width="1.3" height="1.3" fill="#9ad67a"/><rect x="142.1" y="260.1" width="1.1" height="1.1" fill="#9ad67a"/><rect x="150.7" y="289.5" width="1.5" height="1.5" fill="#9ad67a"/><rect x="97.4" y="376.8" width="1.8" height="1.8" fill="#2ea6dc"/><rect x="143.6" y="367.6" width="1.5" height="1.5" fill="#2ea6dc"/><rect x="186.2" y="291.6" width="1.1" height="1.1" fill="#9ad67a"/><rect x="82.9" y="376.0" width="1.3" height="1.3" fill="#9ad67a"/><rect x="128.8" y="310.5" width="1.1" height="1.1" fill="#9ad67a"/><rect x="184.9" y="361.4" width="1.8" height="1.8" fill="#2ea6dc"/><rect x="156.1" y="322.2" width="1.3" height="1.3" fill="#9ad67a"/><rect x="167.2" y="352.5" width="1.3" height="1.3" fill="#9ad67a"/><rect x="185.0" y="310.3" width="1.8" height="1.8" fill="#2ea6dc"/><rect x="89.6" y="289.6" width="1.1" height="1.1" fill="#9ad67a"/><rect x="189.2" y="366.2" width="1.5" height="1.5" fill="#9ad67a"/><rect x="152.3" y="375.2" width="1.1" height="1.1" fill="#2ea6dc"/><rect x="153.9" y="366.8" width="1.3" height="1.3" fill="#9ad67a"/><rect x="170.2" y="266.8" width="1.5" height="1.5" fill="#9ad67a"/><rect x="159.8" y="369.0" width="1.1" height="1.1" fill="#2ea6dc"/><rect x="158.8" y="276.0" width="1.8" height="1.8" fill="#2ea6dc"/><rect x="181.4" y="358.4" width="1.3" height="1.3" fill="#9ad67a"/><rect x="128.3" y="312.4" width="1.8" height="1.8" fill="#2ea6dc"/><rect x="126.6" y="284.2" width="1.5" height="1.5" fill="#9ad67a"/><rect x="128.0" y="338.5" width="1.5" height="1.5" fill="#b890c0"/><rect x="134.2" y="335.3" width="1.5" height="1.5" fill="#b890c0"/><rect x="113.8" y="292.6" width="1.3" height="1.3" fill="#9ad67a"/><rect x="189.8" y="312.1" width="1.8" height="1.8" fill="#2ea6dc"/><rect x="160.3" y="345.0" width="1.5" height="1.5" fill="#9ad67a"/><rect x="113.3" y="337.5" width="1.1" height="1.1" fill="#2ea6dc"/><rect x="85.3" y="310.6" width="1.1" height="1.1" fill="#9ad67a"/><rect x="77.4" y="297.7" width="1.3" height="1.3" fill="#b890c0"/><rect x="167.6" y="362.1" width="1.3" height="1.3" fill="#9ad67a"/><rect x="165.4" y="318.7" width="1.3" height="1.3" fill="#9ad67a"/><rect x="120.8" y="395.9" width="1.8" height="1.8" fill="#2ea6dc"/><rect x="119.6" y="384.4" width="1.8" height="1.8" fill="#9ad67a"/><rect x="197.9" y="363.1" width="1.3" height="1.3" fill="#b890c0"/></g>
<rect x="232.80" y="245.10" width="181.00" height="169.50" fill="#19181a" />
<clipPath id="cl2"><rect x="232.8" y="245.1" width="181.0" height="169.5"/></clipPath>
<clipPath id="tis0"><path d="M405.8,331.0 L405.5,333.8 L405.4,336.7 L405.4,339.6 L406.1,342.5 L405.0,345.3 L404.9,348.2 L405.0,351.2 L404.3,354.0 L404.4,357.1 L403.0,359.8 L402.2,362.6 L401.6,365.6 L400.1,368.1 L400.1,371.4 L398.2,373.8 L396.9,376.6 L395.9,379.5 L393.7,381.7 L392.8,384.7 L391.3,387.5 L388.8,389.4 L387.6,392.4 L385.1,394.3 L383.2,396.7 L380.6,398.5 L378.2,400.4 L375.6,402.1 L372.9,403.5 L370.5,405.4 L368.5,408.0 L365.4,408.8 L362.5,410.0 L360.0,411.8 L356.9,412.4 L354.2,413.9 L350.9,413.8 L347.9,414.3 L345.2,416.0 L341.9,415.3 L339.1,416.7 L336.0,416.7 L333.1,417.5 L330.1,417.6 L327.0,417.2 L324.0,416.3 L321.0,416.2 L318.0,416.9 L314.9,417.3 L312.1,415.9 L309.0,416.1 L306.1,415.2 L303.0,415.0 L300.2,414.0 L297.1,413.8 L294.1,413.2 L291.3,411.8 L288.1,411.6 L285.8,409.4 L282.9,408.3 L280.1,407.0 L277.3,405.7 L274.4,404.5 L272.3,402.2 L251.4,376.4 L250.1,373.7 L249.0,370.9 L247.9,368.1 L246.4,365.5 L245.3,362.8 L244.5,359.9 L243.8,357.1 L244.3,353.8 L242.8,351.3 L243.4,348.1 L243.3,345.2 L242.7,342.4 L242.0,339.6 L242.8,336.7 L242.5,333.8 L242.2,331.0 L241.5,328.1 L242.2,325.3 L242.3,322.4 L242.6,319.6 L243.2,316.8 L242.3,313.6 L242.6,310.7 L243.4,307.9 L244.5,305.2 L245.0,302.3 L246.0,299.5 L246.3,296.4 L247.2,293.6 L248.8,291.0 L249.2,287.8 L250.6,285.2 L252.7,282.9 L253.4,279.7 L255.2,277.2 L257.4,275.1 L259.2,272.7 L260.6,269.8 L263.4,268.3 L265.2,265.7 L266.9,262.9 L269.9,261.8 L272.1,259.6 L274.3,257.3 L276.9,255.7 L279.7,254.3 L282.6,253.2 L285.1,251.3 L288.4,251.1 L290.9,249.2 L294.1,248.9 L296.9,247.7 L299.9,247.1 L303.1,247.0 L305.9,245.9 L308.9,245.6 L311.9,244.7 L315.0,245.0 L318.0,245.2 L321.0,245.2 L324.0,244.4 L327.0,245.3 L330.0,244.8 L333.0,244.9 L336.1,244.7 L338.9,246.2 L342.1,245.9 L344.9,247.2 L348.1,247.0 L351.1,247.7 L354.1,248.4 L357.1,249.2 L359.5,251.2 L362.8,251.4 L365.2,253.5 L368.0,254.8 L370.4,256.7 L373.4,257.8 L375.4,260.3 L378.1,261.7 L380.8,263.3 L383.2,265.3 L384.7,268.2 L387.4,269.8 L389.0,272.5 L390.5,275.2 L392.9,277.2 L394.5,279.8 L395.6,282.7 L397.1,285.3 L398.5,288.0 L399.7,290.8 L400.9,293.5 L401.9,296.3 L401.9,299.5 L402.3,302.5 L403.1,305.3 L404.0,308.1 L404.8,310.8 L405.8,313.6 L405.3,316.7 L405.4,319.6 L405.9,322.4 L406.6,325.2 L406.1,328.1 Z"/></clipPath>
<clipPath id="tis"><path d="M232,244 L415,244 L415,416 L270.5,416 L270.5,376.5 L232,376.5 Z"/></clipPath>
<filter id="tx" x="238" y="244" width="172" height="172" filterUnits="userSpaceOnUse" color-interpolation-filters="sRGB"><feTurbulence type="fractalNoise" baseFrequency="0.85" numOctaves="2" seed="5" result="n1"/><feColorMatrix in="n1" type="matrix" values="1 0 0 0 0  1 0 0 0 0  1 0 0 0 0  0 0 0 0 1" result="g1"/><feTurbulence type="fractalNoise" baseFrequency="0.09" numOctaves="2" seed="9" result="n2"/><feColorMatrix in="n2" type="matrix" values="0 1 0 0 0  0 1 0 0 0  0 1 0 0 0  0 0 0 0 1" result="g2"/><feComposite in="g1" in2="g2" operator="arithmetic" k1="0" k2="0.72" k3="0.75" k4="-0.235" result="lum"/><feComponentTransfer in="lum" result="base"><feFuncR type="table" tableValues="0.07 0.07 0.08 0.10 0.15 0.20 0.25 0.31 0.44 0.62 0.82 0.90"/><feFuncG type="table" tableValues="0.06 0.06 0.06 0.08 0.11 0.15 0.19 0.24 0.34 0.50 0.72 0.80"/><feFuncB type="table" tableValues="0.10 0.10 0.13 0.20 0.30 0.40 0.45 0.49 0.53 0.62 0.78 0.84"/><feFuncA type="table" tableValues="1 1"/></feComponentTransfer><feTurbulence type="fractalNoise" baseFrequency="0.9" numOctaves="1" seed="11" result="n3"/><feColorMatrix in="n3" type="matrix" values="1 0 0 0 0  1 0 0 0 0  1 0 0 0 0  0 0 0 0 1" result="g3"/><feComponentTransfer in="g3" result="pink"><feFuncR type="discrete" tableValues="0 0 0 0 0 0 0.06 0.26 0.42 0.55"/><feFuncG type="discrete" tableValues="0 0 0 0 0 0 0.02 0.06 0.14 0.26"/><feFuncB type="discrete" tableValues="0 0 0 0 0 0 0.0 0.04 0.10 0.2"/><feFuncA type="table" tableValues="1 1"/></feComponentTransfer><feComposite in="base" in2="pink" operator="arithmetic" k1="0" k2="1" k3="1" k4="0" result="bp"/><feTurbulence type="fractalNoise" baseFrequency="0.8" numOctaves="1" seed="17" result="n4"/><feColorMatrix in="n4" type="matrix" values="1 0 0 0 0  1 0 0 0 0  1 0 0 0 0  0 0 0 0 1" result="g4"/><feComponentTransfer in="g4" result="cy"><feFuncR type="discrete" tableValues="0 0 0 0 0 0 0 0 0.02 0.05 0.1 0.1"/><feFuncG type="discrete" tableValues="0 0 0 0 0 0 0 0 0.25 0.45 0.6 0.6"/><feFuncB type="discrete" tableValues="0 0 0 0 0 0 0 0 0.12 0.25 0.3 0.3"/><feFuncA type="table" tableValues="1 1"/></feComponentTransfer><feComposite in="bp" in2="cy" operator="arithmetic" k1="0" k2="1" k3="1" k4="0"/><feGaussianBlur stdDeviation="0.35"/></filter>
<clipPath id="tis0"><path d="M405.8,331.0 L405.5,333.8 L405.4,336.7 L405.4,339.6 L406.1,342.5 L405.0,345.3 L404.9,348.2 L405.0,351.2 L404.3,354.0 L404.4,357.1 L403.0,359.8 L402.2,362.6 L401.6,365.6 L400.1,368.1 L400.1,371.4 L398.2,373.8 L396.9,376.6 L395.9,379.5 L393.7,381.7 L392.8,384.7 L391.3,387.5 L388.8,389.4 L387.6,392.4 L385.1,394.3 L383.2,396.7 L380.6,398.5 L378.2,400.4 L375.6,402.1 L372.9,403.5 L370.5,405.4 L368.5,408.0 L365.4,408.8 L362.5,410.0 L360.0,411.8 L356.9,412.4 L354.2,413.9 L350.9,413.8 L347.9,414.3 L345.2,416.0 L341.9,415.3 L339.1,416.7 L336.0,416.7 L333.1,417.5 L330.1,417.6 L327.0,417.2 L324.0,416.3 L321.0,416.2 L318.0,416.9 L314.9,417.3 L312.1,415.9 L309.0,416.1 L306.1,415.2 L303.0,415.0 L300.2,414.0 L297.1,413.8 L294.1,413.2 L291.3,411.8 L288.1,411.6 L285.8,409.4 L282.9,408.3 L280.1,407.0 L277.3,405.7 L274.4,404.5 L272.3,402.2 L251.4,376.4 L250.1,373.7 L249.0,370.9 L247.9,368.1 L246.4,365.5 L245.3,362.8 L244.5,359.9 L243.8,357.1 L244.3,353.8 L242.8,351.3 L243.4,348.1 L243.3,345.2 L242.7,342.4 L242.0,339.6 L242.8,336.7 L242.5,333.8 L242.2,331.0 L241.5,328.1 L242.2,325.3 L242.3,322.4 L242.6,319.6 L243.2,316.8 L242.3,313.6 L242.6,310.7 L243.4,307.9 L244.5,305.2 L245.0,302.3 L246.0,299.5 L246.3,296.4 L247.2,293.6 L248.8,291.0 L249.2,287.8 L250.6,285.2 L252.7,282.9 L253.4,279.7 L255.2,277.2 L257.4,275.1 L259.2,272.7 L260.6,269.8 L263.4,268.3 L265.2,265.7 L266.9,262.9 L269.9,261.8 L272.1,259.6 L274.3,257.3 L276.9,255.7 L279.7,254.3 L282.6,253.2 L285.1,251.3 L288.4,251.1 L290.9,249.2 L294.1,248.9 L296.9,247.7 L299.9,247.1 L303.1,247.0 L305.9,245.9 L308.9,245.6 L311.9,244.7 L315.0,245.0 L318.0,245.2 L321.0,245.2 L324.0,244.4 L327.0,245.3 L330.0,244.8 L333.0,244.9 L336.1,244.7 L338.9,246.2 L342.1,245.9 L344.9,247.2 L348.1,247.0 L351.1,247.7 L354.1,248.4 L357.1,249.2 L359.5,251.2 L362.8,251.4 L365.2,253.5 L368.0,254.8 L370.4,256.7 L373.4,257.8 L375.4,260.3 L378.1,261.7 L380.8,263.3 L383.2,265.3 L384.7,268.2 L387.4,269.8 L389.0,272.5 L390.5,275.2 L392.9,277.2 L394.5,279.8 L395.6,282.7 L397.1,285.3 L398.5,288.0 L399.7,290.8 L400.9,293.5 L401.9,296.3 L401.9,299.5 L402.3,302.5 L403.1,305.3 L404.0,308.1 L404.8,310.8 L405.8,313.6 L405.3,316.7 L405.4,319.6 L405.9,322.4 L406.6,325.2 L406.1,328.1 Z"/></clipPath>
<clipPath id="tis"><path d="M232,244 L415,244 L415,416 L270.5,416 L270.5,376.5 L232,376.5 Z"/></clipPath>
<filter id="tx" x="238" y="244" width="172" height="172" filterUnits="userSpaceOnUse" color-interpolation-filters="sRGB"><feTurbulence type="fractalNoise" baseFrequency="0.85" numOctaves="2" seed="5" result="n1"/><feColorMatrix in="n1" type="matrix" values="1 0 0 0 0  1 0 0 0 0  1 0 0 0 0  0 0 0 0 1" result="g1"/><feTurbulence type="fractalNoise" baseFrequency="0.09" numOctaves="2" seed="9" result="n2"/><feColorMatrix in="n2" type="matrix" values="0 1 0 0 0  0 1 0 0 0  0 1 0 0 0  0 0 0 0 1" result="g2"/><feComposite in="g1" in2="g2" operator="arithmetic" k1="0" k2="0.85" k3="0.55" k4="-0.2"/><feComponentTransfer><feFuncR type="table" tableValues="0.06 0.07 0.08 0.11 0.14 0.18 0.23 0.32 0.52 0.74 0.90 0.95"/><feFuncG type="table" tableValues="0.05 0.05 0.06 0.08 0.10 0.13 0.17 0.22 0.34 0.50 0.78 0.85"/><feFuncB type="table" tableValues="0.14 0.16 0.20 0.30 0.42 0.54 0.60 0.63 0.64 0.72 0.88 0.92"/><feFuncA type="table" tableValues="1 1"/></feComponentTransfer><feGaussianBlur stdDeviation="0.3"/></filter>
<g clip-path="url(#cl2)"><g clip-path="url(#tis)"><g clip-path="url(#tis0)">
<rect x="238" y="244" width="172" height="172" fill="#000" filter="url(#tx)"/>
<line x1="339.6" y1="376.4" x2="349.6" y2="409.5" stroke="#140e34" stroke-width="1.5" stroke-linecap="round" opacity="0.55"/><line x1="316.2" y1="338.5" x2="338.9" y2="375.4" stroke="#140e34" stroke-width="1.4" stroke-linecap="round" opacity="0.55"/><line x1="300.3" y1="284.4" x2="305.6" y2="324.1" stroke="#140e34" stroke-width="1.5" stroke-linecap="round" opacity="0.55"/><line x1="373.7" y1="374.5" x2="360.9" y2="408.2" stroke="#140e34" stroke-width="1.7" stroke-linecap="round" opacity="0.55"/><line x1="304.6" y1="324.2" x2="311.9" y2="362.6" stroke="#140e34" stroke-width="2.1" stroke-linecap="round" opacity="0.55"/><line x1="293.1" y1="297.4" x2="303.9" y2="323.2" stroke="#140e34" stroke-width="1.9" stroke-linecap="round" opacity="0.55"/><line x1="275.0" y1="265.5" x2="278.9" y2="295.8" stroke="#140e34" stroke-width="1.8" stroke-linecap="round" opacity="0.55"/><line x1="336.6" y1="371.5" x2="344.3" y2="410.6" stroke="#140e34" stroke-width="1.8" stroke-linecap="round" opacity="0.55"/><line x1="259.4" y1="311.6" x2="275.1" y2="348.0" stroke="#140e34" stroke-width="1.9" stroke-linecap="round" opacity="0.55"/><line x1="342.0" y1="270.3" x2="363.0" y2="307.7" stroke="#140e34" stroke-width="1.6" stroke-linecap="round" opacity="0.55"/><line x1="350.9" y1="275.4" x2="334.2" y2="314.1" stroke="#140e34" stroke-width="2.1" stroke-linecap="round" opacity="0.55"/><line x1="359.8" y1="268.4" x2="357.6" y2="302.9" stroke="#140e34" stroke-width="2.2" stroke-linecap="round" opacity="0.55"/><line x1="265.3" y1="282.1" x2="269.8" y2="307.5" stroke="#140e34" stroke-width="2.3" stroke-linecap="round" opacity="0.55"/><line x1="361.3" y1="354.2" x2="352.2" y2="376.4" stroke="#140e34" stroke-width="2.4" stroke-linecap="round" opacity="0.55"/><line x1="335.5" y1="297.8" x2="349.7" y2="329.3" stroke="#140e34" stroke-width="2.5" stroke-linecap="round" opacity="0.55"/><line x1="313.9" y1="298.0" x2="318.1" y2="328.7" stroke="#140e34" stroke-width="2.0" stroke-linecap="round" opacity="0.55"/><line x1="336.2" y1="295.9" x2="345.4" y2="317.4" stroke="#140e34" stroke-width="1.8" stroke-linecap="round" opacity="0.55"/><line x1="339.1" y1="301.2" x2="350.7" y2="326.9" stroke="#140e34" stroke-width="2.3" stroke-linecap="round" opacity="0.55"/><line x1="287.0" y1="364.9" x2="308.5" y2="400.0" stroke="#140e34" stroke-width="2.6" stroke-linecap="round" opacity="0.55"/><line x1="313.4" y1="332.8" x2="324.3" y2="373.6" stroke="#140e34" stroke-width="1.6" stroke-linecap="round" opacity="0.55"/><line x1="325.0" y1="376.4" x2="331.6" y2="403.6" stroke="#140e34" stroke-width="1.7" stroke-linecap="round" opacity="0.55"/><line x1="301.7" y1="284.0" x2="309.9" y2="302.4" stroke="#140e34" stroke-width="1.5" stroke-linecap="round" opacity="0.55"/><line x1="307.3" y1="317.3" x2="312.4" y2="326.0" stroke="#48b0dc" stroke-width="1.2" stroke-linecap="round" opacity="0.55"/><line x1="281.4" y1="317.8" x2="284.5" y2="330.8" stroke="#48b0dc" stroke-width="1.2" stroke-linecap="round" opacity="0.55"/><line x1="331.1" y1="302.6" x2="333.4" y2="310.1" stroke="#48b0dc" stroke-width="1.2" stroke-linecap="round" opacity="0.55"/><line x1="279.7" y1="295.7" x2="283.7" y2="303.6" stroke="#48b0dc" stroke-width="1.2" stroke-linecap="round" opacity="0.55"/><line x1="259.1" y1="286.7" x2="261.3" y2="292.7" stroke="#48b0dc" stroke-width="1.2" stroke-linecap="round" opacity="0.55"/><line x1="259.6" y1="291.9" x2="264.7" y2="300.7" stroke="#48b0dc" stroke-width="1.2" stroke-linecap="round" opacity="0.55"/><line x1="300.4" y1="281.9" x2="303.9" y2="288.0" stroke="#48b0dc" stroke-width="1.2" stroke-linecap="round" opacity="0.55"/><line x1="286.1" y1="308.9" x2="289.5" y2="313.9" stroke="#48b0dc" stroke-width="1.2" stroke-linecap="round" opacity="0.55"/><line x1="323.1" y1="301.0" x2="325.9" y2="306.9" stroke="#48b0dc" stroke-width="1.2" stroke-linecap="round" opacity="0.55"/><line x1="267.3" y1="298.3" x2="273.7" y2="309.0" stroke="#48b0dc" stroke-width="1.2" stroke-linecap="round" opacity="0.55"/><rect x="343.5" y="325.9" width="1.0" height="1.0" fill="#d89060"/><rect x="271.1" y="294.2" width="1.2" height="1.2" fill="#e0a0b0"/><rect x="319.7" y="288.4" width="0.8" height="0.8" fill="#d89060"/><rect x="336.4" y="335.0" width="0.8" height="0.8" fill="#3ab8e0"/><rect x="393.2" y="356.6" width="1.2" height="1.2" fill="#efe0f0"/><rect x="303.4" y="298.9" width="1.2" height="1.2" fill="#d8bc40"/><rect x="277.5" y="292.4" width="1.2" height="1.2" fill="#e0a0b0"/><rect x="345.3" y="371.6" width="0.8" height="0.8" fill="#3ab8e0"/><rect x="395.4" y="327.3" width="1.2" height="1.2" fill="#d8bc40"/><rect x="401.1" y="333.1" width="1.0" height="1.0" fill="#e0a0b0"/><rect x="383.5" y="362.9" width="0.8" height="0.8" fill="#3ab8e0"/><rect x="319.2" y="397.2" width="1.2" height="1.2" fill="#3ab8e0"/><rect x="396.7" y="293.1" width="0.8" height="0.8" fill="#3ab8e0"/><rect x="317.7" y="392.2" width="1.2" height="1.2" fill="#d8bc40"/><rect x="369.0" y="322.0" width="0.8" height="0.8" fill="#d89060"/><rect x="375.4" y="360.6" width="0.8" height="0.8" fill="#3ab8e0"/><rect x="344.6" y="298.3" width="1.0" height="1.0" fill="#3ab8e0"/><rect x="342.7" y="378.9" width="1.0" height="1.0" fill="#e0a0b0"/><rect x="379.8" y="293.4" width="1.2" height="1.2" fill="#e0a0b0"/><rect x="357.5" y="278.4" width="1.2" height="1.2" fill="#d8bc40"/><rect x="298.9" y="256.4" width="1.2" height="1.2" fill="#d8bc40"/><rect x="332.0" y="408.6" width="1.0" height="1.0" fill="#d89060"/><rect x="307.2" y="313.7" width="0.8" height="0.8" fill="#d89060"/><rect x="351.5" y="335.8" width="0.8" height="0.8" fill="#e0a0b0"/><rect x="306.2" y="356.2" width="0.8" height="0.8" fill="#efe0f0"/><rect x="367.5" y="381.5" width="0.8" height="0.8" fill="#efe0f0"/><rect x="322.2" y="308.5" width="1.0" height="1.0" fill="#e0a0b0"/><rect x="349.7" y="407.9" width="1.2" height="1.2" fill="#d8bc40"/><rect x="395.6" y="361.5" width="1.0" height="1.0" fill="#d89060"/><rect x="353.8" y="353.7" width="0.8" height="0.8" fill="#efe0f0"/><rect x="400.1" y="304.9" width="0.8" height="0.8" fill="#e0a0b0"/><rect x="354.3" y="270.5" width="0.8" height="0.8" fill="#3ab8e0"/><rect x="374.3" y="385.3" width="1.0" height="1.0" fill="#e0a0b0"/><rect x="301.0" y="379.6" width="1.0" height="1.0" fill="#efe0f0"/><rect x="340.7" y="322.1" width="1.0" height="1.0" fill="#e0a0b0"/><rect x="331.9" y="265.3" width="1.0" height="1.0" fill="#d8bc40"/><rect x="313.1" y="320.0" width="1.0" height="1.0" fill="#d8bc40"/><rect x="297.8" y="326.9" width="0.8" height="0.8" fill="#d8bc40"/><rect x="286.0" y="320.8" width="0.8" height="0.8" fill="#d89060"/><rect x="283.8" y="309.7" width="1.2" height="1.2" fill="#d8bc40"/><rect x="345.8" y="400.0" width="0.8" height="0.8" fill="#d89060"/><rect x="309.0" y="351.2" width="0.8" height="0.8" fill="#e0a0b0"/><rect x="387.3" y="316.8" width="1.2" height="1.2" fill="#d89060"/><rect x="318.6" y="411.4" width="0.8" height="0.8" fill="#3ab8e0"/><rect x="361.4" y="314.7" width="1.2" height="1.2" fill="#3ab8e0"/><rect x="330.2" y="271.5" width="1.2" height="1.2" fill="#d89060"/><rect x="339.3" y="265.2" width="1.0" height="1.0" fill="#d8bc40"/><rect x="395.5" y="295.6" width="1.0" height="1.0" fill="#e0a0b0"/><rect x="334.2" y="321.4" width="1.0" height="1.0" fill="#3ab8e0"/><rect x="268.2" y="357.1" width="1.2" height="1.2" fill="#3ab8e0"/><rect x="329.9" y="386.7" width="1.2" height="1.2" fill="#d8bc40"/><rect x="325.3" y="262.5" width="1.0" height="1.0" fill="#3ab8e0"/><rect x="246.5" y="319.3" width="1.2" height="1.2" fill="#d8bc40"/><rect x="322.3" y="295.5" width="1.0" height="1.0" fill="#d8bc40"/><rect x="297.8" y="315.8" width="1.2" height="1.2" fill="#d8bc40"/><rect x="326.8" y="366.7" width="1.2" height="1.2" fill="#3ab8e0"/><rect x="354.5" y="271.5" width="0.8" height="0.8" fill="#e0a0b0"/><rect x="313.1" y="265.7" width="0.8" height="0.8" fill="#3ab8e0"/><rect x="306.8" y="362.2" width="1.2" height="1.2" fill="#d89060"/><rect x="358.1" y="328.9" width="0.8" height="0.8" fill="#e0a0b0"/><rect x="261.8" y="385.4" width="1.2" height="1.2" fill="#d89060"/><rect x="311.1" y="372.0" width="0.8" height="0.8" fill="#efe0f0"/><rect x="308.8" y="407.6" width="0.8" height="0.8" fill="#d8bc40"/><rect x="263.8" y="374.3" width="1.2" height="1.2" fill="#e0a0b0"/><rect x="369.4" y="324.5" width="1.0" height="1.0" fill="#efe0f0"/><rect x="281.5" y="297.6" width="1.0" height="1.0" fill="#e0a0b0"/><rect x="304.6" y="268.6" width="0.8" height="0.8" fill="#e0a0b0"/><rect x="290.5" y="271.0" width="1.2" height="1.2" fill="#d89060"/><rect x="300.1" y="256.2" width="1.2" height="1.2" fill="#e0a0b0"/><rect x="363.3" y="368.9" width="1.2" height="1.2" fill="#3ab8e0"/><rect x="368.4" y="361.4" width="1.2" height="1.2" fill="#d89060"/><rect x="316.3" y="297.7" width="1.0" height="1.0" fill="#d89060"/><rect x="260.4" y="348.4" width="1.2" height="1.2" fill="#d8bc40"/><rect x="282.4" y="263.4" width="1.0" height="1.0" fill="#d89060"/><rect x="333.2" y="278.4" width="0.8" height="0.8" fill="#d8bc40"/><rect x="384.1" y="344.7" width="0.8" height="0.8" fill="#3ab8e0"/><rect x="297.5" y="326.8" width="1.2" height="1.2" fill="#d8bc40"/><rect x="340.2" y="385.6" width="1.0" height="1.0" fill="#efe0f0"/><rect x="270.7" y="322.7" width="0.8" height="0.8" fill="#d89060"/><rect x="359.9" y="327.8" width="0.8" height="0.8" fill="#d8bc40"/><rect x="315.4" y="264.7" width="1.0" height="1.0" fill="#e0a0b0"/><rect x="315.9" y="382.5" width="1.0" height="1.0" fill="#efe0f0"/><rect x="381.4" y="296.3" width="1.2" height="1.2" fill="#e0a0b0"/><rect x="320.2" y="369.6" width="1.2" height="1.2" fill="#e0a0b0"/><rect x="406.4" y="315.1" width="1.0" height="1.0" fill="#d89060"/><rect x="331.1" y="359.3" width="1.2" height="1.2" fill="#d89060"/><rect x="347.5" y="393.1" width="0.8" height="0.8" fill="#e0a0b0"/><rect x="283.5" y="383.5" width="1.0" height="1.0" fill="#d89060"/><rect x="279.3" y="339.1" width="0.8" height="0.8" fill="#d8bc40"/><rect x="334.7" y="273.5" width="0.8" height="0.8" fill="#d89060"/><rect x="318.4" y="381.2" width="1.0" height="1.0" fill="#3ab8e0"/><rect x="298.8" y="277.4" width="1.0" height="1.0" fill="#d89060"/><rect x="281.4" y="382.9" width="1.0" height="1.0" fill="#3ab8e0"/><rect x="263.6" y="359.1" width="1.0" height="1.0" fill="#e0a0b0"/><rect x="350.5" y="367.9" width="0.8" height="0.8" fill="#d8bc40"/><rect x="361.6" y="259.4" width="0.8" height="0.8" fill="#d89060"/><rect x="275.6" y="320.6" width="1.2" height="1.2" fill="#d8bc40"/><rect x="405.7" y="335.9" width="1.0" height="1.0" fill="#e0a0b0"/><rect x="274.3" y="289.8" width="0.8" height="0.8" fill="#d89060"/><rect x="332.1" y="281.2" width="1.0" height="1.0" fill="#3ab8e0"/><rect x="332.9" y="296.8" width="1.2" height="1.2" fill="#d89060"/><rect x="349.0" y="326.4" width="1.2" height="1.2" fill="#d89060"/><rect x="342.2" y="255.3" width="1.2" height="1.2" fill="#3ab8e0"/><rect x="329.4" y="352.9" width="1.2" height="1.2" fill="#d89060"/><rect x="370.3" y="287.9" width="0.8" height="0.8" fill="#3ab8e0"/><rect x="350.9" y="278.9" width="1.0" height="1.0" fill="#d8bc40"/><rect x="292.8" y="336.6" width="1.0" height="1.0" fill="#d8bc40"/><rect x="357.2" y="385.9" width="0.8" height="0.8" fill="#e0a0b0"/><rect x="355.0" y="281.6" width="1.2" height="1.2" fill="#d8bc40"/><rect x="307.4" y="384.9" width="1.2" height="1.2" fill="#d8bc40"/><rect x="383.7" y="360.6" width="0.8" height="0.8" fill="#e0a0b0"/><rect x="341.8" y="332.3" width="1.0" height="1.0" fill="#e0a0b0"/><rect x="333.3" y="306.0" width="0.8" height="0.8" fill="#d8bc40"/><rect x="393.6" y="345.0" width="1.0" height="1.0" fill="#e0a0b0"/><rect x="380.5" y="368.1" width="1.2" height="1.2" fill="#3ab8e0"/><rect x="248.4" y="303.2" width="1.0" height="1.0" fill="#3ab8e0"/><rect x="268.8" y="359.3" width="1.0" height="1.0" fill="#d89060"/><rect x="287.8" y="376.6" width="1.0" height="1.0" fill="#3ab8e0"/><rect x="358.4" y="294.7" width="1.0" height="1.0" fill="#3ab8e0"/><rect x="336.6" y="283.3" width="1.0" height="1.0" fill="#3ab8e0"/><rect x="381.6" y="389.5" width="0.8" height="0.8" fill="#efe0f0"/><rect x="273.7" y="367.1" width="1.2" height="1.2" fill="#d8bc40"/><rect x="367.8" y="344.1" width="0.8" height="0.8" fill="#efe0f0"/><rect x="349.3" y="277.9" width="0.8" height="0.8" fill="#d89060"/><rect x="343.5" y="252.3" width="1.2" height="1.2" fill="#e0a0b0"/><rect x="365.6" y="385.0" width="1.2" height="1.2" fill="#e0a0b0"/><rect x="338.5" y="338.3" width="1.2" height="1.2" fill="#e0a0b0"/><rect x="326.1" y="303.3" width="0.8" height="0.8" fill="#3ab8e0"/><rect x="300.5" y="342.6" width="0.8" height="0.8" fill="#d89060"/><rect x="272.2" y="385.9" width="1.2" height="1.2" fill="#d89060"/><rect x="304.7" y="254.4" width="0.8" height="0.8" fill="#3ab8e0"/><rect x="301.0" y="380.1" width="0.8" height="0.8" fill="#e0a0b0"/><rect x="263.3" y="330.9" width="1.0" height="1.0" fill="#d89060"/><rect x="252.3" y="293.3" width="0.8" height="0.8" fill="#d8bc40"/><rect x="296.4" y="271.4" width="1.2" height="1.2" fill="#d89060"/><rect x="381.5" y="323.0" width="0.8" height="0.8" fill="#d8bc40"/><rect x="374.1" y="358.7" width="1.2" height="1.2" fill="#d89060"/><rect x="329.8" y="330.6" width="0.8" height="0.8" fill="#e0a0b0"/><rect x="401.6" y="323.5" width="0.8" height="0.8" fill="#3ab8e0"/><rect x="331.7" y="338.1" width="0.8" height="0.8" fill="#e0a0b0"/><rect x="255.0" y="352.1" width="1.0" height="1.0" fill="#d89060"/><rect x="334.7" y="259.9" width="1.2" height="1.2" fill="#d89060"/><rect x="326.7" y="284.6" width="1.0" height="1.0" fill="#d8bc40"/><rect x="245.4" y="349.9" width="0.8" height="0.8" fill="#3ab8e0"/><rect x="322.2" y="321.2" width="1.2" height="1.2" fill="#efe0f0"/><rect x="298.4" y="269.1" width="1.0" height="1.0" fill="#d8bc40"/><rect x="319.6" y="296.1" width="1.0" height="1.0" fill="#d89060"/><rect x="287.4" y="300.1" width="1.2" height="1.2" fill="#d89060"/><rect x="260.0" y="356.0" width="0.8" height="0.8" fill="#3ab8e0"/><rect x="279.9" y="381.1" width="1.0" height="1.0" fill="#e0a0b0"/><rect x="250.7" y="340.7" width="1.0" height="1.0" fill="#d8bc40"/><rect x="337.6" y="268.2" width="0.8" height="0.8" fill="#3ab8e0"/><rect x="275.1" y="283.0" width="1.2" height="1.2" fill="#d89060"/><rect x="291.8" y="386.9" width="0.8" height="0.8" fill="#d89060"/><rect x="286.4" y="302.3" width="0.8" height="0.8" fill="#d8bc40"/><rect x="274.3" y="378.6" width="0.8" height="0.8" fill="#e0a0b0"/><rect x="339.8" y="288.2" width="1.0" height="1.0" fill="#efe0f0"/><rect x="320.2" y="363.1" width="0.8" height="0.8" fill="#d89060"/><rect x="316.4" y="360.6" width="1.2" height="1.2" fill="#d89060"/><rect x="374.0" y="396.2" width="1.2" height="1.2" fill="#d89060"/><rect x="291.9" y="256.4" width="0.8" height="0.8" fill="#3ab8e0"/><rect x="267.4" y="315.5" width="1.2" height="1.2" fill="#d8bc40"/><rect x="361.0" y="313.1" width="1.2" height="1.2" fill="#e0a0b0"/><rect x="268.0" y="373.2" width="1.2" height="1.2" fill="#d89060"/><rect x="324.5" y="255.3" width="0.8" height="0.8" fill="#d8bc40"/><rect x="275.2" y="318.7" width="1.0" height="1.0" fill="#efe0f0"/><rect x="254.2" y="291.9" width="1.2" height="1.2" fill="#d89060"/><rect x="298.2" y="383.9" width="0.8" height="0.8" fill="#3ab8e0"/><rect x="336.7" y="363.4" width="1.0" height="1.0" fill="#e0a0b0"/><rect x="279.6" y="306.4" width="0.8" height="0.8" fill="#d89060"/><rect x="325.9" y="410.7" width="0.8" height="0.8" fill="#d8bc40"/><rect x="284.4" y="371.3" width="1.0" height="1.0" fill="#efe0f0"/><rect x="283.6" y="301.7" width="0.8" height="0.8" fill="#d8bc40"/><rect x="355.6" y="351.2" width="1.2" height="1.2" fill="#d89060"/><rect x="261.0" y="335.4" width="1.0" height="1.0" fill="#3ab8e0"/><rect x="251.0" y="366.7" width="1.2" height="1.2" fill="#d89060"/><rect x="365.2" y="320.4" width="0.8" height="0.8" fill="#efe0f0"/><rect x="375.6" y="328.3" width="0.8" height="0.8" fill="#efe0f0"/><rect x="250.7" y="302.3" width="0.8" height="0.8" fill="#d8bc40"/><rect x="367.8" y="279.0" width="1.2" height="1.2" fill="#d89060"/><rect x="365.2" y="319.2" width="1.2" height="1.2" fill="#d8bc40"/><rect x="392.1" y="373.1" width="0.8" height="0.8" fill="#d8bc40"/><rect x="292.2" y="340.7" width="1.2" height="1.2" fill="#d89060"/><rect x="326.9" y="346.3" width="1.0" height="1.0" fill="#3ab8e0"/><rect x="382.2" y="352.7" width="0.8" height="0.8" fill="#efe0f0"/><rect x="321.0" y="390.1" width="1.0" height="1.0" fill="#e0a0b0"/><rect x="354.0" y="341.0" width="0.8" height="0.8" fill="#e0a0b0"/><rect x="303.6" y="288.8" width="1.2" height="1.2" fill="#e0a0b0"/><rect x="361.7" y="359.4" width="0.8" height="0.8" fill="#3ab8e0"/><rect x="287.4" y="366.6" width="0.8" height="0.8" fill="#d8bc40"/><rect x="392.1" y="289.3" width="0.8" height="0.8" fill="#d8bc40"/><rect x="334.1" y="298.3" width="0.8" height="0.8" fill="#d89060"/><rect x="395.6" y="298.5" width="0.8" height="0.8" fill="#d89060"/><rect x="338.5" y="249.1" width="1.0" height="1.0" fill="#d89060"/><rect x="360.5" y="274.3" width="1.0" height="1.0" fill="#d8bc40"/><rect x="306.1" y="366.5" width="1.0" height="1.0" fill="#efe0f0"/><rect x="348.7" y="360.9" width="1.2" height="1.2" fill="#efe0f0"/><rect x="248.5" y="353.8" width="0.8" height="0.8" fill="#d8bc40"/><rect x="318.5" y="383.6" width="1.0" height="1.0" fill="#3ab8e0"/><rect x="282.7" y="310.3" width="1.0" height="1.0" fill="#d89060"/><rect x="276.7" y="332.7" width="0.8" height="0.8" fill="#d89060"/><rect x="358.3" y="379.4" width="1.2" height="1.2" fill="#e0a0b0"/><rect x="380.0" y="301.5" width="0.8" height="0.8" fill="#d89060"/><rect x="322.2" y="367.7" width="1.0" height="1.0" fill="#d8bc40"/><rect x="404.8" y="329.0" width="1.0" height="1.0" fill="#efe0f0"/><rect x="294.8" y="347.1" width="1.0" height="1.0" fill="#d89060"/><rect x="365.4" y="382.9" width="1.2" height="1.2" fill="#d8bc40"/><rect x="307.0" y="356.5" width="1.2" height="1.2" fill="#efe0f0"/><rect x="312.6" y="379.1" width="1.0" height="1.0" fill="#efe0f0"/><rect x="336.6" y="392.2" width="0.8" height="0.8" fill="#3ab8e0"/><rect x="284.1" y="324.5" width="1.2" height="1.2" fill="#3ab8e0"/><rect x="345.8" y="341.9" width="1.0" height="1.0" fill="#e0a0b0"/><rect x="326.5" y="294.9" width="1.2" height="1.2" fill="#3ab8e0"/><rect x="304.1" y="257.0" width="0.8" height="0.8" fill="#d8bc40"/><rect x="393.8" y="334.4" width="1.2" height="1.2" fill="#d8bc40"/><rect x="376.3" y="299.6" width="1.0" height="1.0" fill="#3ab8e0"/><rect x="366.6" y="264.6" width="0.8" height="0.8" fill="#d8bc40"/><rect x="262.2" y="369.5" width="1.2" height="1.2" fill="#3ab8e0"/><rect x="320.3" y="366.0" width="1.0" height="1.0" fill="#d89060"/><rect x="392.5" y="346.1" width="0.8" height="0.8" fill="#d8bc40"/><rect x="273.8" y="393.7" width="0.8" height="0.8" fill="#d89060"/><rect x="375.5" y="378.9" width="1.0" height="1.0" fill="#d89060"/><rect x="338.2" y="253.0" width="0.8" height="0.8" fill="#d8bc40"/><rect x="316.9" y="356.6" width="1.0" height="1.0" fill="#e0a0b0"/><rect x="263.0" y="324.9" width="0.8" height="0.8" fill="#d8bc40"/><rect x="325.0" y="355.0" width="0.8" height="0.8" fill="#e0a0b0"/><rect x="357.6" y="355.3" width="0.8" height="0.8" fill="#d89060"/><rect x="404.2" y="339.9" width="1.0" height="1.0" fill="#e0a0b0"/><rect x="388.6" y="337.2" width="1.2" height="1.2" fill="#d8bc40"/><rect x="328.1" y="385.8" width="0.8" height="0.8" fill="#3ab8e0"/><rect x="320.3" y="312.5" width="1.0" height="1.0" fill="#3ab8e0"/><rect x="261.1" y="292.3" width="0.8" height="0.8" fill="#efe0f0"/><rect x="298.2" y="347.4" width="0.8" height="0.8" fill="#e0a0b0"/><rect x="362.3" y="380.8" width="0.8" height="0.8" fill="#e0a0b0"/><rect x="334.8" y="326.3" width="1.2" height="1.2" fill="#e0a0b0"/><rect x="256.4" y="366.9" width="1.0" height="1.0" fill="#d8bc40"/><rect x="342.8" y="326.5" width="1.0" height="1.0" fill="#d8bc40"/><rect x="326.9" y="378.5" width="1.2" height="1.2" fill="#d8bc40"/><rect x="350.9" y="254.4" width="1.2" height="1.2" fill="#d89060"/><rect x="381.0" y="349.9" width="1.0" height="1.0" fill="#d89060"/><rect x="324.2" y="384.6" width="1.0" height="1.0" fill="#e0a0b0"/><rect x="352.2" y="353.0" width="0.8" height="0.8" fill="#3ab8e0"/><rect x="311.9" y="329.6" width="1.0" height="1.0" fill="#3ab8e0"/><rect x="337.5" y="249.8" width="0.8" height="0.8" fill="#e0a0b0"/><rect x="389.7" y="344.4" width="1.2" height="1.2" fill="#3ab8e0"/><rect x="276.5" y="283.4" width="0.8" height="0.8" fill="#d89060"/><rect x="293.6" y="301.0" width="1.0" height="1.0" fill="#d8bc40"/><rect x="325.4" y="346.6" width="1.0" height="1.0" fill="#efe0f0"/><rect x="306.5" y="306.7" width="1.2" height="1.2" fill="#e0a0b0"/><rect x="343.9" y="315.8" width="0.8" height="0.8" fill="#e0a0b0"/><rect x="268.1" y="352.1" width="1.0" height="1.0" fill="#d89060"/><rect x="285.1" y="309.5" width="1.2" height="1.2" fill="#e0a0b0"/><rect x="250.3" y="307.9" width="1.2" height="1.2" fill="#e0a0b0"/><rect x="333.3" y="381.4" width="1.0" height="1.0" fill="#d8bc40"/><rect x="263.7" y="345.1" width="1.0" height="1.0" fill="#e0a0b0"/><rect x="330.2" y="316.6" width="0.8" height="0.8" fill="#3ab8e0"/><rect x="272.2" y="325.9" width="0.8" height="0.8" fill="#d8bc40"/><rect x="354.1" y="314.5" width="1.0" height="1.0" fill="#d89060"/><rect x="268.8" y="309.5" width="0.8" height="0.8" fill="#3ab8e0"/><rect x="303.2" y="400.8" width="0.8" height="0.8" fill="#3ab8e0"/><path d="M262,372 L266,366 L270,368 L273,362 L276,366 L275,373 L270,376 L264,377 Z" fill="#50c0ea" opacity="0.65"/><path d="M245,354 L250,349 L256,350 L252,355 Z" fill="#50c0ea" opacity="0.7"/><ellipse cx="318" cy="262" rx="1.2" ry="5" fill="#48b8e0" opacity="0.75" transform="rotate(20 318 262)"/><ellipse cx="345" cy="268" rx="1.2" ry="4" fill="#48b8e0" opacity="0.75" transform="rotate(-10 345 268)"/><ellipse cx="370" cy="282" rx="3" ry="1.2" fill="#48b8e0" opacity="0.75" transform="rotate(0 370 282)"/><ellipse cx="355" cy="330" rx="2.5" ry="1.2" fill="#48b8e0" opacity="0.75" transform="rotate(30 355 330)"/><ellipse cx="300" cy="398" rx="2.5" ry="1.2" fill="#48b8e0" opacity="0.75" transform="rotate(0 300 398)"/><ellipse cx="392" cy="305" rx="2" ry="1.2" fill="#48b8e0" opacity="0.75" transform="rotate(0 392 305)"/><ellipse cx="282" cy="290" rx="1.2" ry="3" fill="#48b8e0" opacity="0.75" transform="rotate(0 282 290)"/><ellipse cx="330" cy="385" rx="2" ry="1" fill="#48b8e0" opacity="0.75" transform="rotate(45 330 385)"/><ellipse cx="300" cy="340" rx="1" ry="3" fill="#48b8e0" opacity="0.75" transform="rotate(0 300 340)"/>
</g></g>
<rect x="411.9" y="360.0" width="0.9" height="0.9" fill="#a86020"/><rect x="250.0" y="390.2" width="0.9" height="0.9" fill="#a86020"/><rect x="399.7" y="413.9" width="0.9" height="0.9" fill="#a86020"/><rect x="412.5" y="270.5" width="0.9" height="0.9" fill="#a86020"/><rect x="234.0" y="371.5" width="0.9" height="0.9" fill="#a86020"/><rect x="411.9" y="309.6" width="0.9" height="0.9" fill="#a86020"/><rect x="408.2" y="348.2" width="0.9" height="0.9" fill="#a86020"/><rect x="408.8" y="396.2" width="0.9" height="0.9" fill="#a86020"/><rect x="405.8" y="249.4" width="0.9" height="0.9" fill="#a86020"/><rect x="234.7" y="256.7" width="0.9" height="0.9" fill="#a86020"/><rect x="400.8" y="271.2" width="0.9" height="0.9" fill="#a86020"/>
</g>
<rect x="327.2" y="272.0" width="11.3" height="7.7" fill="none" stroke="#e8e0e8" stroke-width="0.6"/>
<rect x="310.1" y="291.9" width="13.4" height="8.5" fill="none" stroke="#e8e0e8" stroke-width="0.6"/>
<text x="234.70" y="405.10" font-size="8.4" text-anchor="start" fill="#fff" >200 µm</text>
<line x1="236" y1="409.9" x2="256" y2="409.9" stroke="#bbb" stroke-width="0.8" stroke-dasharray="1 0.8"/>
<clipPath id="mc11"><rect x="418.1" y="247.5" width="132.3" height="81.7"/></clipPath>
<filter id="mb11" x="413.1" y="242.5" width="142.3" height="91.7" filterUnits="userSpaceOnUse"><feGaussianBlur stdDeviation="0.75"/></filter>
<g clip-path="url(#mc11)"><g filter="url(#mb11)">
<rect x="415.10" y="244.50" width="138.30" height="87.70" fill="#2a1c26" />
<circle cx="477.9" cy="293.2" r="4.8" fill="#503040" opacity="0.5"/><circle cx="477.9" cy="317.4" r="2.6" fill="#7a3a70" opacity="0.5"/><circle cx="481.0" cy="297.7" r="2.6" fill="#503040" opacity="0.5"/><circle cx="458.2" cy="254.9" r="4.4" fill="#7a3a70" opacity="0.5"/><circle cx="502.0" cy="296.1" r="3.2" fill="#503040" opacity="0.5"/><circle cx="504.6" cy="297.8" r="2.5" fill="#6a2850" opacity="0.5"/><circle cx="528.1" cy="252.7" r="2.1" fill="#6a2850" opacity="0.5"/><circle cx="497.4" cy="311.1" r="3.0" fill="#7a3a70" opacity="0.5"/><circle cx="529.6" cy="289.9" r="3.9" fill="#503040" opacity="0.5"/><circle cx="418.7" cy="254.4" r="4.0" fill="#503040" opacity="0.5"/><circle cx="550.1" cy="328.8" r="4.5" fill="#7a3a70" opacity="0.5"/><circle cx="451.7" cy="309.4" r="3.5" fill="#6a2850" opacity="0.5"/><circle cx="427.4" cy="310.1" r="3.2" fill="#503040" opacity="0.5"/><circle cx="469.2" cy="325.8" r="4.5" fill="#6a2850" opacity="0.5"/><circle cx="446.3" cy="323.2" r="2.2" fill="#503040" opacity="0.5"/><circle cx="547.8" cy="280.0" r="2.2" fill="#7a3a70" opacity="0.5"/><circle cx="444.4" cy="302.6" r="3.0" fill="#503040" opacity="0.5"/><circle cx="462.1" cy="326.3" r="4.3" fill="#6a2850" opacity="0.5"/><circle cx="435.9" cy="305.3" r="2.0" fill="#503040" opacity="0.5"/><circle cx="523.5" cy="262.0" r="3.7" fill="#503040" opacity="0.5"/><circle cx="485.4" cy="328.0" r="4.3" fill="#503040" opacity="0.5"/><circle cx="503.3" cy="257.0" r="3.3" fill="#6a2850" opacity="0.5"/><circle cx="418.2" cy="318.1" r="4.9" fill="#7a3a70" opacity="0.5"/><circle cx="458.3" cy="319.8" r="2.6" fill="#503040" opacity="0.5"/><circle cx="549.8" cy="296.7" r="3.7" fill="#6a2850" opacity="0.5"/><circle cx="549.0" cy="264.9" r="2.8" fill="#7a3a70" opacity="0.5"/><circle cx="461.6" cy="271.7" r="2.2" fill="#6a2850" opacity="0.5"/><circle cx="445.7" cy="299.5" r="2.0" fill="#503040" opacity="0.5"/><circle cx="467.3" cy="284.5" r="4.9" fill="#503040" opacity="0.5"/><circle cx="528.2" cy="258.6" r="3.2" fill="#7a3a70" opacity="0.5"/><ellipse cx="436.4" cy="324.2" rx="6.5" ry="4.7" fill="#4c3eb6" transform="rotate(29 436.4 324.2)"/><ellipse cx="502.1" cy="293.1" rx="6.2" ry="4.8" fill="#5044ba" transform="rotate(109 502.1 293.1)"/><ellipse cx="420.5" cy="328.9" rx="5.1" ry="4.4" fill="#4034a4" transform="rotate(76 420.5 328.9)"/><ellipse cx="540.2" cy="287.6" rx="5.8" ry="5.4" fill="#4638b0" transform="rotate(23 540.2 287.6)"/><ellipse cx="481.4" cy="301.8" rx="6.0" ry="4.1" fill="#4c3eb6" transform="rotate(165 481.4 301.8)"/><ellipse cx="443.3" cy="246.0" rx="5.2" ry="4.1" fill="#4638b0" transform="rotate(8 443.3 246.0)"/><ellipse cx="454.1" cy="291.1" rx="6.9" ry="4.7" fill="#4c3eb6" transform="rotate(160 454.1 291.1)"/><ellipse cx="550.7" cy="302.1" rx="6.2" ry="5.1" fill="#4c3eb6" transform="rotate(106 550.7 302.1)"/><ellipse cx="542.8" cy="286.1" rx="5.4" ry="4.0" fill="#4638b0" transform="rotate(4 542.8 286.1)"/><ellipse cx="503.1" cy="286.8" rx="6.3" ry="4.7" fill="#4638b0" transform="rotate(14 503.1 286.8)"/><ellipse cx="490.6" cy="309.1" rx="6.8" ry="5.9" fill="#4c3eb6" transform="rotate(143 490.6 309.1)"/><ellipse cx="541.6" cy="275.4" rx="6.2" ry="5.7" fill="#5044ba" transform="rotate(170 541.6 275.4)"/><ellipse cx="419.3" cy="288.3" rx="4.5" ry="3.8" fill="#5044ba" transform="rotate(105 419.3 288.3)"/><ellipse cx="499.3" cy="251.5" rx="6.1" ry="5.8" fill="#5044ba" transform="rotate(131 499.3 251.5)"/><ellipse cx="468.8" cy="309.0" rx="6.0" ry="4.7" fill="#3e329e" transform="rotate(15 468.8 309.0)"/><ellipse cx="498.3" cy="286.7" rx="5.1" ry="4.4" fill="#5044ba" transform="rotate(140 498.3 286.7)"/><ellipse cx="506.4" cy="287.1" rx="6.7" ry="5.1" fill="#4c3eb6" transform="rotate(122 506.4 287.1)"/><ellipse cx="443.1" cy="259.4" rx="6.8" ry="5.7" fill="#5044ba" transform="rotate(90 443.1 259.4)"/><ellipse cx="448.5" cy="280.0" rx="5.1" ry="4.3" fill="#4c3eb6" transform="rotate(158 448.5 280.0)"/><ellipse cx="468.3" cy="295.6" rx="5.3" ry="3.7" fill="#5044ba" transform="rotate(63 468.3 295.6)"/><ellipse cx="539.0" cy="248.1" rx="4.7" ry="4.4" fill="#4c3eb6" transform="rotate(20 539.0 248.1)"/><ellipse cx="480.3" cy="325.7" rx="6.6" ry="5.0" fill="#3e329e" transform="rotate(89 480.3 325.7)"/><ellipse cx="458.7" cy="318.1" rx="7.0" ry="5.5" fill="#4638b0" transform="rotate(149 458.7 318.1)"/><ellipse cx="453.6" cy="297.8" rx="6.2" ry="4.5" fill="#4034a4" transform="rotate(56 453.6 297.8)"/><ellipse cx="524.6" cy="246.2" rx="4.8" ry="3.8" fill="#4638b0" transform="rotate(138 524.6 246.2)"/><ellipse cx="451.9" cy="312.8" rx="6.5" ry="6.1" fill="#4638b0" transform="rotate(80 451.9 312.8)"/><ellipse cx="502.2" cy="301.9" rx="6.5" ry="6.1" fill="#4c3eb6" transform="rotate(36 502.2 301.9)"/><ellipse cx="480.8" cy="260.2" rx="4.5" ry="3.6" fill="#4638b0" transform="rotate(32 480.8 260.2)"/><ellipse cx="452.8" cy="274.8" rx="6.2" ry="5.0" fill="#3e329e" transform="rotate(179 452.8 274.8)"/><ellipse cx="511.9" cy="264.1" rx="5.5" ry="5.1" fill="#5044ba" transform="rotate(23 511.9 264.1)"/><ellipse cx="477.8" cy="299.4" rx="6.8" ry="5.2" fill="#3e329e" transform="rotate(117 477.8 299.4)"/><ellipse cx="484.6" cy="316.4" rx="5.4" ry="4.0" fill="#4c3eb6" transform="rotate(18 484.6 316.4)"/><ellipse cx="534.9" cy="314.5" rx="6.8" ry="4.7" fill="#4c3eb6" transform="rotate(162 534.9 314.5)"/><ellipse cx="550.7" cy="330.2" rx="5.8" ry="5.2" fill="#4034a4" transform="rotate(47 550.7 330.2)"/><ellipse cx="484.9" cy="247.8" rx="5.4" ry="4.2" fill="#4034a4" transform="rotate(88 484.9 247.8)"/><ellipse cx="419.0" cy="315.5" rx="4.7" ry="4.1" fill="#4c3eb6" transform="rotate(96 419.0 315.5)"/><ellipse cx="510.1" cy="324.8" rx="5.7" ry="5.4" fill="#3e329e" transform="rotate(151 510.1 324.8)"/><ellipse cx="510.4" cy="327.4" rx="5.7" ry="5.4" fill="#4638b0" transform="rotate(136 510.4 327.4)"/><ellipse cx="475.9" cy="293.5" rx="6.6" ry="5.4" fill="#4c3eb6" transform="rotate(94 475.9 293.5)"/><ellipse cx="531.8" cy="293.6" rx="5.3" ry="4.0" fill="#3e329e" transform="rotate(37 531.8 293.6)"/><ellipse cx="532.8" cy="329.4" rx="5.8" ry="4.8" fill="#4c3eb6" transform="rotate(74 532.8 329.4)"/><ellipse cx="430.9" cy="244.9" rx="5.4" ry="4.4" fill="#4638b0" transform="rotate(93 430.9 244.9)"/><ellipse cx="470.5" cy="314.8" rx="5.9" ry="4.7" fill="#4c3eb6" transform="rotate(12 470.5 314.8)"/><ellipse cx="489.6" cy="280.8" rx="6.9" ry="6.4" fill="#4034a4" transform="rotate(44 489.6 280.8)"/><ellipse cx="539.7" cy="326.6" rx="6.8" ry="5.5" fill="#4638b0" transform="rotate(34 539.7 326.6)"/><ellipse cx="500.6" cy="325.6" rx="4.8" ry="4.3" fill="#4638b0" transform="rotate(6 500.6 325.6)"/><ellipse cx="436.6" cy="245.5" rx="5.2" ry="4.5" fill="#4c3eb6" transform="rotate(112 436.6 245.5)"/><ellipse cx="432.1" cy="289.3" rx="5.1" ry="3.6" fill="#3e329e" transform="rotate(158 432.1 289.3)"/><ellipse cx="418.3" cy="300.0" rx="6.6" ry="5.5" fill="#3e329e" transform="rotate(37 418.3 300.0)"/><ellipse cx="502.4" cy="300.5" rx="5.8" ry="5.3" fill="#3e329e" transform="rotate(106 502.4 300.5)"/><ellipse cx="434.0" cy="324.7" rx="6.1" ry="4.6" fill="#4c3eb6" transform="rotate(57 434.0 324.7)"/><ellipse cx="458.7" cy="325.4" rx="5.0" ry="4.8" fill="#4638b0" transform="rotate(24 458.7 325.4)"/><ellipse cx="451.0" cy="253.0" rx="6.6" ry="5.1" fill="#4c3eb6" transform="rotate(36 451.0 253.0)"/><ellipse cx="502.0" cy="314.6" rx="4.7" ry="3.9" fill="#4034a4" transform="rotate(164 502.0 314.6)"/><ellipse cx="549.0" cy="254.6" rx="5.8" ry="5.1" fill="#3e329e" transform="rotate(180 549.0 254.6)"/><ellipse cx="530.3" cy="314.9" rx="5.7" ry="3.7" fill="#3e329e" transform="rotate(110 530.3 314.9)"/><ellipse cx="540.3" cy="286.7" rx="5.0" ry="3.4" fill="#4c3eb6" transform="rotate(151 540.3 286.7)"/><ellipse cx="552.1" cy="325.8" rx="4.7" ry="3.2" fill="#5044ba" transform="rotate(14 552.1 325.8)"/><ellipse cx="428.5" cy="278.8" rx="5.6" ry="4.2" fill="#4c3eb6" transform="rotate(108 428.5 278.8)"/><ellipse cx="416.9" cy="306.0" rx="6.6" ry="4.7" fill="#5044ba" transform="rotate(65 416.9 306.0)"/><ellipse cx="466.3" cy="325.3" rx="6.0" ry="4.1" fill="#4638b0" transform="rotate(58 466.3 325.3)"/><ellipse cx="426.8" cy="318.3" rx="6.7" ry="6.2" fill="#5044ba" transform="rotate(103 426.8 318.3)"/><ellipse cx="462.3" cy="311.4" rx="5.2" ry="3.6" fill="#4c3eb6" transform="rotate(147 462.3 311.4)"/><ellipse cx="471.2" cy="323.1" rx="6.7" ry="5.8" fill="#5044ba" transform="rotate(138 471.2 323.1)"/><ellipse cx="471.2" cy="307.9" rx="4.7" ry="3.5" fill="#5044ba" transform="rotate(18 471.2 307.9)"/><ellipse cx="537.9" cy="331.4" rx="6.8" ry="4.5" fill="#4034a4" transform="rotate(170 537.9 331.4)"/><ellipse cx="507.2" cy="274.1" rx="6.1" ry="5.0" fill="#3e329e" transform="rotate(14 507.2 274.1)"/><ellipse cx="486.3" cy="288.1" rx="5.0" ry="3.5" fill="#5044ba" transform="rotate(176 486.3 288.1)"/><ellipse cx="418.3" cy="298.5" rx="6.3" ry="4.6" fill="#5044ba" transform="rotate(91 418.3 298.5)"/><ellipse cx="520.4" cy="301.3" rx="4.5" ry="3.3" fill="#4034a4" transform="rotate(163 520.4 301.3)"/><ellipse cx="491.2" cy="289.0" rx="6.9" ry="5.7" fill="#4638b0" transform="rotate(115 491.2 289.0)"/><ellipse cx="497.7" cy="311.1" rx="4.6" ry="4.3" fill="#4c3eb6" transform="rotate(69 497.7 311.1)"/><ellipse cx="549.3" cy="319.5" rx="5.9" ry="4.9" fill="#5044ba" transform="rotate(170 549.3 319.5)"/><ellipse cx="473.3" cy="290.7" rx="6.0" ry="4.6" fill="#4034a4" transform="rotate(87 473.3 290.7)"/><ellipse cx="452.4" cy="326.0" rx="6.2" ry="5.4" fill="#4638b0" transform="rotate(3 452.4 326.0)"/><ellipse cx="449.0" cy="248.3" rx="4.9" ry="4.3" fill="#5044ba" transform="rotate(10 449.0 248.3)"/><ellipse cx="458.7" cy="279.4" rx="6.0" ry="5.2" fill="#4034a4" transform="rotate(13 458.7 279.4)"/><ellipse cx="540.3" cy="282.2" rx="5.7" ry="5.4" fill="#4c3eb6" transform="rotate(8 540.3 282.2)"/><ellipse cx="540.9" cy="257.2" rx="6.9" ry="5.0" fill="#4638b0" transform="rotate(9 540.9 257.2)"/><ellipse cx="436.5" cy="276.4" rx="4.8" ry="3.8" fill="#3e329e" transform="rotate(47 436.5 276.4)"/><ellipse cx="495.6" cy="281.3" rx="6.4" ry="5.2" fill="#4c3eb6" transform="rotate(171 495.6 281.3)"/><ellipse cx="516.7" cy="265.4" rx="4.8" ry="4.4" fill="#3e329e" transform="rotate(112 516.7 265.4)"/><ellipse cx="464.8" cy="268.3" rx="6.2" ry="5.1" fill="#3e329e" transform="rotate(34 464.8 268.3)"/><ellipse cx="453.6" cy="265.5" rx="6.9" ry="5.5" fill="#4c3eb6" transform="rotate(158 453.6 265.5)"/><ellipse cx="420.6" cy="249.8" rx="5.2" ry="4.0" fill="#3e329e" transform="rotate(7 420.6 249.8)"/><ellipse cx="445.9" cy="268.9" rx="6.4" ry="5.9" fill="#4c3eb6" transform="rotate(99 445.9 268.9)"/><ellipse cx="502.4" cy="277.2" rx="5.7" ry="4.1" fill="#4034a4" transform="rotate(89 502.4 277.2)"/><ellipse cx="433.5" cy="320.8" rx="6.5" ry="5.1" fill="#3e329e" transform="rotate(151 433.5 320.8)"/><ellipse cx="521.4" cy="283.5" rx="6.4" ry="4.9" fill="#4c3eb6" transform="rotate(66 521.4 283.5)"/><ellipse cx="505.5" cy="331.3" rx="5.3" ry="4.3" fill="#4c3eb6" transform="rotate(77 505.5 331.3)"/><ellipse cx="426.6" cy="294.0" rx="5.7" ry="4.9" fill="#4034a4" transform="rotate(148 426.6 294.0)"/><ellipse cx="416.4" cy="271.7" rx="6.8" ry="5.6" fill="#4034a4" transform="rotate(89 416.4 271.7)"/><ellipse cx="520.8" cy="273.3" rx="6.7" ry="4.8" fill="#4034a4" transform="rotate(66 520.8 273.3)"/><ellipse cx="493.8" cy="325.1" rx="6.8" ry="6.3" fill="#5044ba" transform="rotate(95 493.8 325.1)"/><ellipse cx="552.3" cy="284.7" rx="5.1" ry="4.8" fill="#3e329e" transform="rotate(45 552.3 284.7)"/><ellipse cx="465.1" cy="276.6" rx="5.4" ry="4.2" fill="#5044ba" transform="rotate(143 465.1 276.6)"/><ellipse cx="517.3" cy="276.8" rx="5.5" ry="3.8" fill="#3e329e" transform="rotate(101 517.3 276.8)"/><ellipse cx="418.2" cy="289.7" rx="5.9" ry="4.8" fill="#4638b0" transform="rotate(117 418.2 289.7)"/><ellipse cx="490.7" cy="313.6" rx="4.7" ry="3.2" fill="#4638b0" transform="rotate(162 490.7 313.6)"/><ellipse cx="504.9" cy="266.0" rx="5.1" ry="4.4" fill="#3e329e" transform="rotate(61 504.9 266.0)"/><ellipse cx="434.0" cy="287.3" rx="6.5" ry="4.4" fill="#3e329e" transform="rotate(165 434.0 287.3)"/><ellipse cx="471.9" cy="317.0" rx="6.2" ry="5.6" fill="#5044ba" transform="rotate(150 471.9 317.0)"/><ellipse cx="538.0" cy="328.5" rx="6.1" ry="4.9" fill="#4638b0" transform="rotate(144 538.0 328.5)"/><ellipse cx="552.2" cy="277.4" rx="4.9" ry="3.5" fill="#5044ba" transform="rotate(95 552.2 277.4)"/><ellipse cx="453.0" cy="322.2" rx="5.7" ry="4.9" fill="#4034a4" transform="rotate(117 453.0 322.2)"/><ellipse cx="423.7" cy="284.7" rx="6.0" ry="5.5" fill="#4638b0" transform="rotate(56 423.7 284.7)"/><ellipse cx="442.4" cy="276.0" rx="6.0" ry="5.0" fill="#5044ba" transform="rotate(107 442.4 276.0)"/><ellipse cx="446.1" cy="260.7" rx="5.2" ry="3.7" fill="#4034a4" transform="rotate(113 446.1 260.7)"/><ellipse cx="545.4" cy="292.8" rx="6.6" ry="5.3" fill="#5044ba" transform="rotate(165 545.4 292.8)"/><ellipse cx="462.4" cy="292.5" rx="6.9" ry="5.5" fill="#4c3eb6" transform="rotate(72 462.4 292.5)"/><ellipse cx="445.2" cy="256.3" rx="6.5" ry="6.1" fill="#3e329e" transform="rotate(139 445.2 256.3)"/><ellipse cx="524.0" cy="249.6" rx="6.8" ry="6.2" fill="#5044ba" transform="rotate(163 524.0 249.6)"/><ellipse cx="477.3" cy="266.1" rx="5.6" ry="5.1" fill="#5044ba" transform="rotate(28 477.3 266.1)"/><ellipse cx="459.6" cy="267.3" rx="6.7" ry="5.4" fill="#3e329e" transform="rotate(48 459.6 267.3)"/><ellipse cx="489.0" cy="257.7" rx="6.4" ry="4.2" fill="#4c3eb6" transform="rotate(148 489.0 257.7)"/><ellipse cx="426.5" cy="268.2" rx="6.3" ry="4.3" fill="#5044ba" transform="rotate(125 426.5 268.2)"/><ellipse cx="490.3" cy="288.9" rx="4.5" ry="3.2" fill="#4c3eb6" transform="rotate(165 490.3 288.9)"/><ellipse cx="427.7" cy="317.0" rx="5.0" ry="4.1" fill="#3e329e" transform="rotate(89 427.7 317.0)"/><ellipse cx="546.0" cy="329.0" rx="5.3" ry="4.1" fill="#3e329e" transform="rotate(55 546.0 329.0)"/><ellipse cx="479.7" cy="307.2" rx="5.4" ry="4.6" fill="#4638b0" transform="rotate(120 479.7 307.2)"/><ellipse cx="508.6" cy="310.0" rx="6.5" ry="4.4" fill="#5044ba" transform="rotate(2 508.6 310.0)"/><ellipse cx="467.3" cy="306.8" rx="5.1" ry="4.2" fill="#5044ba" transform="rotate(139 467.3 306.8)"/><ellipse cx="533.5" cy="318.6" rx="6.3" ry="5.8" fill="#4c3eb6" transform="rotate(52 533.5 318.6)"/><ellipse cx="467.1" cy="291.8" rx="5.2" ry="3.9" fill="#5044ba" transform="rotate(100 467.1 291.8)"/><ellipse cx="427.1" cy="261.0" rx="5.4" ry="3.7" fill="#4034a4" transform="rotate(170 427.1 261.0)"/><ellipse cx="492.9" cy="308.0" rx="5.3" ry="4.8" fill="#4638b0" transform="rotate(18 492.9 308.0)"/><ellipse cx="501.1" cy="256.0" rx="6.1" ry="4.3" fill="#4c3eb6" transform="rotate(72 501.1 256.0)"/><ellipse cx="530.8" cy="296.5" rx="4.7" ry="3.4" fill="#4c3eb6" transform="rotate(178 530.8 296.5)"/><ellipse cx="475.1" cy="312.1" rx="5.4" ry="4.8" fill="#3e329e" transform="rotate(25 475.1 312.1)"/><ellipse cx="443.5" cy="257.5" rx="6.2" ry="5.0" fill="#5044ba" transform="rotate(112 443.5 257.5)"/><ellipse cx="515.6" cy="298.3" rx="5.3" ry="4.7" fill="#4c3eb6" transform="rotate(119 515.6 298.3)"/><ellipse cx="499.3" cy="246.1" rx="5.3" ry="4.0" fill="#5044ba" transform="rotate(19 499.3 246.1)"/><ellipse cx="467.3" cy="289.2" rx="6.5" ry="5.8" fill="#3e329e" transform="rotate(128 467.3 289.2)"/><ellipse cx="450.2" cy="291.8" rx="5.2" ry="3.8" fill="#3e329e" transform="rotate(90 450.2 291.8)"/><ellipse cx="551.6" cy="289.8" rx="6.3" ry="5.7" fill="#4c3eb6" transform="rotate(102 551.6 289.8)"/><ellipse cx="418.8" cy="302.3" rx="6.4" ry="4.5" fill="#5044ba" transform="rotate(104 418.8 302.3)"/><ellipse cx="511.5" cy="273.4" rx="6.8" ry="5.2" fill="#5044ba" transform="rotate(159 511.5 273.4)"/><ellipse cx="477.7" cy="308.5" rx="5.1" ry="4.2" fill="#3e329e" transform="rotate(101 477.7 308.5)"/><ellipse cx="492.6" cy="267.7" rx="6.8" ry="6.4" fill="#4034a4" transform="rotate(108 492.6 267.7)"/><ellipse cx="455.0" cy="323.2" rx="5.1" ry="4.2" fill="#4c3eb6" transform="rotate(33 455.0 323.2)"/><ellipse cx="436" cy="306.5" rx="12" ry="12.5" fill="#0c0608" transform="rotate(0 436 306.5)" opacity="1"/><ellipse cx="517" cy="250" rx="5" ry="4" fill="#140a10" transform="rotate(0 517 250)" opacity="1"/><ellipse cx="468" cy="258" rx="8" ry="9" fill="#1c1014" transform="rotate(0 468 258)" opacity="0.8"/><ellipse cx="479" cy="281" rx="7" ry="9" fill="#1c1014" transform="rotate(0 479 281)" opacity="0.8"/><path d="M540,250 C528,246 521,258 525,270 C528,277 535,279 541,276" fill="none" stroke="#f2e23a" stroke-width="5"/><ellipse cx="537" cy="251" rx="4" ry="3" fill="#f2e23a" transform="rotate(0 537 251)" opacity="1"/><ellipse cx="534" cy="264" rx="5" ry="6" fill="#4a3ac8" transform="rotate(0 534 264)" opacity="1"/><path d="M483,262 C486,256 492,254 495,256 C496,262 493,268 490,270 C487,271 483,268 483,262 Z" fill="#f2e23a" opacity="1"/><ellipse cx="458.9" cy="258.8" rx="3.5" ry="3.5" fill="#e8a090" transform="rotate(0 458.9 258.8)" opacity="1"/><polygon points="428.4,275.1 426.6,277.9 422.9,278.9 421.0,278.5 422.8,275.1 424.0,273.4 425.6,275.2" fill="#f2e23a" opacity="1"/><ellipse cx="424.5" cy="288" rx="2.4" ry="7" fill="#f0dcea" transform="rotate(0 424.5 288)" opacity="0.9"/><polygon points="429.4,310.6 428.2,312.5 423.2,312.3 420.4,310.7 421.0,308.2 424.6,304.5 426.0,307.8" fill="#f2e23a" opacity="1"/><polygon points="427.1,312.6 425.9,315.0 424.3,316.1 420.4,315.2 421.7,311.3 422.6,309.8 426.3,310.3" fill="#f2e23a" opacity="1"/><polygon points="460.8,308.9 460.1,310.7 455.7,314.2 454.6,311.4 455.6,308.8 458.4,303.6 460.5,307.7" fill="#f2e23a" opacity="1"/><polygon points="458.1,305.2 456.2,308.1 455.1,307.7 451.7,305.9 453.2,304.3 454.8,303.9 456.8,301.9" fill="#f2e23a" opacity="1"/><polygon points="435.3,325.5 433.0,325.9 431.3,327.6 430.1,325.6 430.0,323.8 431.8,323.3 433.5,323.7" fill="#f2e23a" opacity="1"/><ellipse cx="440" cy="322" rx="1.5" ry="2.5" fill="#f2e23a" transform="rotate(0 440 322)" opacity="1"/><polygon points="447.2,261.9 447.5,263.0 446.1,263.3 445.0,262.4 443.8,261.3 445.2,259.9 447.1,260.6" fill="#f2e23a" opacity="1"/><polygon points="508.0,257.6 505.7,258.9 504.2,259.3 503.2,258.8 502.3,257.5 504.6,257.1 506.7,256.0" fill="#f2e23a" opacity="1"/><ellipse cx="445" cy="326" rx="1.5" ry="2" fill="#f2e23a" transform="rotate(0 445 326)" opacity="1"/><ellipse cx="451" cy="319" rx="1.5" ry="1.5" fill="#f2e23a" transform="rotate(0 451 319)" opacity="1"/><ellipse cx="468" cy="315" rx="3" ry="1.8" fill="#f4e8f2" transform="rotate(-30 468 315)" opacity="0.9"/><ellipse cx="474.8" cy="322.5" rx="2" ry="1.5" fill="#30c040" transform="rotate(0 474.8 322.5)" opacity="1"/><ellipse cx="509.3" cy="288" rx="2.6" ry="10" fill="#f2e2ee" transform="rotate(8 509.3 288)" opacity="1"/><ellipse cx="542.6" cy="277" rx="2.4" ry="9" fill="#f2e2ee" transform="rotate(0 542.6 277)" opacity="1"/><ellipse cx="544" cy="320" rx="2.8" ry="6" fill="#f2e2ee" transform="rotate(0 544 320)" opacity="1"/><ellipse cx="465" cy="318" rx="4" ry="2" fill="#e8d0e0" transform="rotate(-20 465 318)" opacity="0.8"/><ellipse cx="503.8" cy="255.3" rx="2" ry="1.5" fill="#e040a0" transform="rotate(0 503.8 255.3)" opacity="1"/><ellipse cx="510.7" cy="270.5" rx="2.5" ry="2" fill="#e04070" transform="rotate(0 510.7 270.5)" opacity="1"/><ellipse cx="500" cy="281" rx="1.5" ry="1.5" fill="#ff3050" transform="rotate(0 500 281)" opacity="1"/><ellipse cx="542.6" cy="287.2" rx="2" ry="1.5" fill="#30c040" transform="rotate(0 542.6 287.2)" opacity="1"/><ellipse cx="512" cy="323.2" rx="2" ry="1.5" fill="#30c040" transform="rotate(0 512 323.2)" opacity="1"/><ellipse cx="497" cy="287" rx="1.5" ry="2" fill="#f2e23a" transform="rotate(0 497 287)" opacity="1"/><ellipse cx="520" cy="265" rx="1.5" ry="1.2" fill="#f2e23a" transform="rotate(0 520 265)" opacity="1"/><ellipse cx="516" cy="296" rx="1.2" ry="2.2" fill="#f2e23a" transform="rotate(0 516 296)" opacity="1"/><ellipse cx="490.4" cy="255.4" rx="1.4" ry="3.5" fill="#f0dcec" opacity="0.87" transform="rotate(40 490.4 255.4)"/><ellipse cx="528.8" cy="319.9" rx="1.0" ry="2.5" fill="#f0dcec" opacity="0.51" transform="rotate(2 528.8 319.9)"/><ellipse cx="435.3" cy="281.0" rx="1.5" ry="2.2" fill="#f4ecf4" opacity="0.73" transform="rotate(-13 435.3 281.0)"/><ellipse cx="502.4" cy="252.4" rx="1.4" ry="2.7" fill="#e8c8e0" opacity="0.54" transform="rotate(-12 502.4 252.4)"/><ellipse cx="535.1" cy="320.4" rx="1.9" ry="2.7" fill="#d8a0c8" opacity="0.90" transform="rotate(27 535.1 320.4)"/><ellipse cx="529.8" cy="281.3" rx="1.0" ry="1.8" fill="#d8a0c8" opacity="0.88" transform="rotate(-14 529.8 281.3)"/><ellipse cx="486.9" cy="282.2" rx="1.2" ry="1.6" fill="#f0dcec" opacity="0.79" transform="rotate(32 486.9 282.2)"/><ellipse cx="514.0" cy="295.9" rx="2.0" ry="3.7" fill="#f4ecf4" opacity="0.60" transform="rotate(28 514.0 295.9)"/><ellipse cx="451.2" cy="317.3" rx="1.5" ry="1.8" fill="#f0dcec" opacity="0.86" transform="rotate(4 451.2 317.3)"/><ellipse cx="504.4" cy="322.6" rx="2.2" ry="3.3" fill="#f0dcec" opacity="0.85" transform="rotate(-10 504.4 322.6)"/><ellipse cx="490.2" cy="293.3" rx="1.1" ry="3.4" fill="#e8c8e0" opacity="0.73" transform="rotate(32 490.2 293.3)"/><ellipse cx="436.0" cy="291.3" rx="0.8" ry="2.1" fill="#d8a0c8" opacity="0.62" transform="rotate(-14 436.0 291.3)"/><ellipse cx="428.1" cy="319.1" rx="1.0" ry="3.2" fill="#d8a0c8" opacity="0.59" transform="rotate(-16 428.1 319.1)"/><ellipse cx="478.5" cy="273.9" rx="1.5" ry="3.8" fill="#f4ecf4" opacity="0.89" transform="rotate(-2 478.5 273.9)"/><ellipse cx="446.6" cy="272.4" rx="1.1" ry="3.6" fill="#f0dcec" opacity="0.64" transform="rotate(-2 446.6 272.4)"/><ellipse cx="547.8" cy="265.2" rx="1.1" ry="3.7" fill="#e8c8e0" opacity="0.52" transform="rotate(-32 547.8 265.2)"/><ellipse cx="513.2" cy="273.8" rx="2.0" ry="3.3" fill="#f4ecf4" opacity="0.55" transform="rotate(16 513.2 273.8)"/><ellipse cx="540.4" cy="284.1" rx="1.0" ry="3.7" fill="#f0dcec" opacity="0.55" transform="rotate(15 540.4 284.1)"/><ellipse cx="454.6" cy="305.5" rx="1.9" ry="2.4" fill="#f4ecf4" opacity="0.76" transform="rotate(31 454.6 305.5)"/><polygon points="497.1,267.4 496.9,268.1 495.1,268.6 495.0,267.6 494.2,266.7 495.3,265.9 496.6,266.4" fill="#f2e23a" opacity="1"/><polygon points="541.0,301.5 539.4,302.0 538.4,302.9 537.8,301.9 537.4,301.1 539.0,300.6 540.0,300.8" fill="#f2e23a" opacity="1"/><polygon points="504.4,256.3 504.1,258.9 502.0,257.5 500.7,257.0 501.2,255.9 502.0,254.9 503.3,253.9" fill="#f2e23a" opacity="1"/><polygon points="478.2,290.7 477.4,291.8 475.9,292.2 475.0,290.9 475.7,290.4 476.5,288.7 477.9,288.7" fill="#f2e23a" opacity="1"/><polygon points="426.9,295.9 427.0,297.6 425.3,297.0 425.0,296.7 424.0,295.8 425.6,295.3 426.7,295.3" fill="#f2e23a" opacity="1"/><polygon points="453.8,311.6 452.6,312.5 452.3,313.2 451.1,312.1 451.4,311.5 452.2,311.4 452.8,311.5" fill="#f2e23a" opacity="1"/><polygon points="458.1,308.1 458.0,309.7 456.6,309.3 455.5,309.1 455.3,307.4 456.3,307.1 457.4,306.8" fill="#f2e23a" opacity="1"/><polygon points="457.3,292.4 456.5,293.5 455.8,293.7 454.3,292.9 455.3,291.7 455.4,290.6 456.7,290.4" fill="#f2e23a" opacity="1"/><rect x="536.8" y="328.2" width="1.4" height="1.4" fill="#f0e040"/><rect x="517.4" y="278.9" width="1.4" height="1.4" fill="#40c060"/><rect x="441.9" y="292.9" width="1.2" height="1.2" fill="#f8f0f0"/><rect x="505.2" y="311.5" width="1.4" height="1.4" fill="#f8f0f0"/><rect x="529.9" y="303.4" width="1.9" height="1.9" fill="#f8f0f0"/><rect x="441.1" y="311.2" width="1.5" height="1.5" fill="#f0e040"/><rect x="449.2" y="283.5" width="1.7" height="1.7" fill="#30c0e0"/><rect x="522.8" y="266.8" width="1.1" height="1.1" fill="#f8f0f0"/><rect x="494.8" y="288.3" width="1.5" height="1.5" fill="#f0e040"/><rect x="512.7" y="294.3" width="1.0" height="1.0" fill="#30c0e0"/><rect x="438.2" y="249.0" width="1.3" height="1.3" fill="#f8f0f0"/><rect x="476.5" y="269.0" width="0.9" height="0.9" fill="#30c0e0"/><rect x="538.1" y="294.0" width="1.7" height="1.7" fill="#f8f0f0"/><rect x="449.6" y="259.4" width="0.9" height="0.9" fill="#f0e040"/><rect x="459.7" y="298.3" width="1.1" height="1.1" fill="#f8f0f0"/><rect x="496.0" y="254.7" width="1.0" height="1.0" fill="#30c0e0"/><rect x="451.8" y="260.6" width="1.8" height="1.8" fill="#e040a0"/><rect x="522.2" y="252.5" width="1.2" height="1.2" fill="#f0e040"/><rect x="446.7" y="326.8" width="1.4" height="1.4" fill="#f0e040"/><rect x="518.8" y="328.1" width="1.3" height="1.3" fill="#f0e040"/><rect x="516.7" y="250.7" width="1.9" height="1.9" fill="#f0e040"/><rect x="436.8" y="279.6" width="1.3" height="1.3" fill="#f0e040"/><rect x="428.2" y="250.3" width="1.7" height="1.7" fill="#ff3040"/><rect x="515.2" y="266.3" width="1.5" height="1.5" fill="#f0e040"/><rect x="450.1" y="285.2" width="1.2" height="1.2" fill="#40c060"/><rect x="462.7" y="327.7" width="0.8" height="0.8" fill="#f8f0f0"/><rect x="471.4" y="300.6" width="1.2" height="1.2" fill="#f0e040"/><rect x="510.0" y="318.1" width="1.9" height="1.9" fill="#f8f0f0"/><rect x="479.3" y="279.6" width="1.3" height="1.3" fill="#30c0e0"/><rect x="521.5" y="265.1" width="1.0" height="1.0" fill="#f0e040"/>
</g></g>
<text x="434.80" y="269.10" font-size="8.3" text-anchor="start" fill="#34b4e6" >ICAM2+CK+</text>
<text x="467.70" y="300.60" font-size="8.3" text-anchor="start" fill="#cbbfd8" >PD1+CD8+</text>
<text x="494.70" y="316.50" font-size="8.3" text-anchor="start" fill="#9ee0a0" >LY6E+CD68+</text>
<text x="418.60" y="324.00" font-size="5.5" text-anchor="start" fill="#fff" >12.5 µm</text>
<clipPath id="mc23"><rect x="418.1" y="339.3" width="132.0" height="73.1"/></clipPath>
<filter id="mb23" x="413.1" y="334.3" width="142.0" height="83.1" filterUnits="userSpaceOnUse"><feGaussianBlur stdDeviation="0.75"/></filter>
<g clip-path="url(#mc23)"><g filter="url(#mb23)">
<rect x="415.10" y="336.30" width="138.00" height="79.10" fill="#2a1e2a" />
<path d="M474,414 L552,414 L552,361 C540,366 522,374 507,387 C496,396 484,405 474,414 Z" fill="#3a3050" opacity="1"/><circle cx="540.2" cy="408.6" r="4.7" fill="#6a2850" opacity="0.5"/><circle cx="420.4" cy="361.7" r="3.1" fill="#503040" opacity="0.5"/><circle cx="435.3" cy="353.3" r="3.3" fill="#6a2850" opacity="0.5"/><circle cx="500.0" cy="405.2" r="2.3" fill="#503040" opacity="0.5"/><circle cx="473.7" cy="376.8" r="4.2" fill="#503040" opacity="0.5"/><circle cx="519.8" cy="354.3" r="2.1" fill="#503040" opacity="0.5"/><circle cx="504.9" cy="384.7" r="4.9" fill="#503040" opacity="0.5"/><circle cx="492.7" cy="402.2" r="4.9" fill="#503040" opacity="0.5"/><circle cx="505.3" cy="362.3" r="2.3" fill="#503040" opacity="0.5"/><circle cx="441.5" cy="374.6" r="4.4" fill="#6a2850" opacity="0.5"/><circle cx="442.1" cy="352.4" r="3.0" fill="#6a2850" opacity="0.5"/><circle cx="495.0" cy="345.3" r="3.3" fill="#503040" opacity="0.5"/><circle cx="542.2" cy="359.8" r="3.8" fill="#6a2850" opacity="0.5"/><circle cx="466.9" cy="360.4" r="2.9" fill="#503040" opacity="0.5"/><circle cx="490.6" cy="358.2" r="2.3" fill="#6a2850" opacity="0.5"/><circle cx="511.4" cy="399.9" r="2.7" fill="#6a2850" opacity="0.5"/><circle cx="539.4" cy="382.6" r="4.8" fill="#6a2850" opacity="0.5"/><circle cx="477.4" cy="341.8" r="3.9" fill="#503040" opacity="0.5"/><circle cx="421.2" cy="398.5" r="4.1" fill="#6a2850" opacity="0.5"/><circle cx="524.4" cy="408.7" r="3.6" fill="#503040" opacity="0.5"/><ellipse cx="518.5" cy="363.7" rx="5.4" ry="3.9" fill="#4638b0" transform="rotate(48 518.5 363.7)"/><ellipse cx="490.8" cy="396.0" rx="5.2" ry="3.5" fill="#3e329e" transform="rotate(95 490.8 396.0)"/><ellipse cx="438.5" cy="379.3" rx="5.1" ry="4.0" fill="#4638b0" transform="rotate(80 438.5 379.3)"/><ellipse cx="462.4" cy="406.9" rx="6.7" ry="5.8" fill="#5044ba" transform="rotate(13 462.4 406.9)"/><ellipse cx="490.4" cy="369.9" rx="6.7" ry="5.5" fill="#4638b0" transform="rotate(149 490.4 369.9)"/><ellipse cx="430.1" cy="386.2" rx="5.9" ry="5.3" fill="#4c3eb6" transform="rotate(30 430.1 386.2)"/><ellipse cx="506.3" cy="363.0" rx="4.8" ry="4.4" fill="#5044ba" transform="rotate(144 506.3 363.0)"/><ellipse cx="551.5" cy="357.8" rx="4.6" ry="4.3" fill="#5044ba" transform="rotate(37 551.5 357.8)"/><ellipse cx="509.1" cy="350.0" rx="5.6" ry="3.7" fill="#4034a4" transform="rotate(86 509.1 350.0)"/><ellipse cx="510.2" cy="378.9" rx="5.8" ry="4.3" fill="#4638b0" transform="rotate(41 510.2 378.9)"/><ellipse cx="423.7" cy="406.7" rx="4.5" ry="3.6" fill="#5044ba" transform="rotate(52 423.7 406.7)"/><ellipse cx="459.2" cy="363.9" rx="6.9" ry="5.2" fill="#5044ba" transform="rotate(8 459.2 363.9)"/><ellipse cx="468.1" cy="407.0" rx="4.9" ry="3.7" fill="#3e329e" transform="rotate(83 468.1 407.0)"/><ellipse cx="431.8" cy="381.1" rx="6.6" ry="4.8" fill="#4638b0" transform="rotate(45 431.8 381.1)"/><ellipse cx="550.7" cy="386.5" rx="6.5" ry="4.8" fill="#4034a4" transform="rotate(102 550.7 386.5)"/><ellipse cx="485.4" cy="384.6" rx="7.0" ry="5.8" fill="#3e329e" transform="rotate(31 485.4 384.6)"/><ellipse cx="417.7" cy="384.6" rx="6.3" ry="5.0" fill="#4034a4" transform="rotate(103 417.7 384.6)"/><ellipse cx="496.7" cy="362.2" rx="4.7" ry="4.3" fill="#4c3eb6" transform="rotate(174 496.7 362.2)"/><ellipse cx="488.5" cy="353.7" rx="6.4" ry="5.0" fill="#4c3eb6" transform="rotate(64 488.5 353.7)"/><ellipse cx="550.6" cy="360.8" rx="5.7" ry="4.3" fill="#4c3eb6" transform="rotate(136 550.6 360.8)"/><ellipse cx="488.9" cy="353.0" rx="4.6" ry="3.5" fill="#5044ba" transform="rotate(85 488.9 353.0)"/><ellipse cx="437.2" cy="409.9" rx="6.9" ry="4.5" fill="#4034a4" transform="rotate(80 437.2 409.9)"/><ellipse cx="439.0" cy="401.3" rx="6.9" ry="5.6" fill="#3e329e" transform="rotate(114 439.0 401.3)"/><ellipse cx="527.4" cy="350.7" rx="5.0" ry="4.4" fill="#4638b0" transform="rotate(82 527.4 350.7)"/><ellipse cx="415.5" cy="386.7" rx="6.3" ry="4.9" fill="#4034a4" transform="rotate(175 415.5 386.7)"/><ellipse cx="452.8" cy="349.6" rx="4.7" ry="3.9" fill="#3e329e" transform="rotate(84 452.8 349.6)"/><ellipse cx="431.3" cy="337.7" rx="5.0" ry="4.2" fill="#4034a4" transform="rotate(141 431.3 337.7)"/><ellipse cx="458.2" cy="392.0" rx="6.8" ry="6.3" fill="#3e329e" transform="rotate(53 458.2 392.0)"/><ellipse cx="548.0" cy="338.1" rx="5.9" ry="5.5" fill="#4c3eb6" transform="rotate(11 548.0 338.1)"/><ellipse cx="522.8" cy="347.3" rx="6.2" ry="4.6" fill="#4034a4" transform="rotate(20 522.8 347.3)"/><ellipse cx="529.3" cy="342.6" rx="6.5" ry="5.6" fill="#4638b0" transform="rotate(92 529.3 342.6)"/><ellipse cx="452.6" cy="381.6" rx="6.1" ry="5.6" fill="#4c3eb6" transform="rotate(166 452.6 381.6)"/><ellipse cx="506.2" cy="389.9" rx="4.8" ry="4.3" fill="#5044ba" transform="rotate(11 506.2 389.9)"/><ellipse cx="506.5" cy="347.6" rx="4.5" ry="4.0" fill="#4638b0" transform="rotate(102 506.5 347.6)"/><ellipse cx="494.0" cy="399.4" rx="4.8" ry="4.3" fill="#4034a4" transform="rotate(116 494.0 399.4)"/><ellipse cx="416.3" cy="375.6" rx="5.2" ry="4.5" fill="#4638b0" transform="rotate(150 416.3 375.6)"/><ellipse cx="443.8" cy="399.9" rx="4.9" ry="3.4" fill="#3e329e" transform="rotate(120 443.8 399.9)"/><ellipse cx="430.4" cy="402.6" rx="5.0" ry="3.5" fill="#3e329e" transform="rotate(116 430.4 402.6)"/><ellipse cx="424.0" cy="388.3" rx="6.0" ry="5.3" fill="#4c3eb6" transform="rotate(21 424.0 388.3)"/><ellipse cx="474.5" cy="341.4" rx="5.4" ry="4.1" fill="#4638b0" transform="rotate(128 474.5 341.4)"/><ellipse cx="435.5" cy="386.2" rx="5.0" ry="4.1" fill="#4c3eb6" transform="rotate(60 435.5 386.2)"/><ellipse cx="492.9" cy="413.3" rx="4.8" ry="4.4" fill="#4638b0" transform="rotate(101 492.9 413.3)"/><ellipse cx="422.5" cy="409.7" rx="6.3" ry="5.0" fill="#4034a4" transform="rotate(54 422.5 409.7)"/><ellipse cx="429.5" cy="378.4" rx="6.1" ry="4.0" fill="#3e329e" transform="rotate(158 429.5 378.4)"/><ellipse cx="545.4" cy="338.2" rx="6.4" ry="5.5" fill="#4638b0" transform="rotate(153 545.4 338.2)"/><ellipse cx="507.3" cy="388.1" rx="5.3" ry="4.1" fill="#4c3eb6" transform="rotate(74 507.3 388.1)"/><ellipse cx="432.7" cy="358.0" rx="6.0" ry="5.4" fill="#3e329e" transform="rotate(112 432.7 358.0)"/><ellipse cx="497.9" cy="368.1" rx="4.9" ry="3.2" fill="#4034a4" transform="rotate(142 497.9 368.1)"/><ellipse cx="513.9" cy="340.6" rx="6.4" ry="4.3" fill="#4c3eb6" transform="rotate(21 513.9 340.6)"/><ellipse cx="499.2" cy="354.3" rx="5.6" ry="5.1" fill="#4c3eb6" transform="rotate(108 499.2 354.3)"/><ellipse cx="527.5" cy="377.7" rx="6.9" ry="4.9" fill="#4c3eb6" transform="rotate(124 527.5 377.7)"/><ellipse cx="462.0" cy="379.3" rx="6.6" ry="4.4" fill="#5044ba" transform="rotate(162 462.0 379.3)"/><ellipse cx="496.7" cy="394.5" rx="4.8" ry="3.4" fill="#5044ba" transform="rotate(51 496.7 394.5)"/><ellipse cx="432.4" cy="349.7" rx="5.4" ry="4.0" fill="#5044ba" transform="rotate(165 432.4 349.7)"/><ellipse cx="553.0" cy="352.6" rx="5.5" ry="4.6" fill="#3e329e" transform="rotate(51 553.0 352.6)"/><ellipse cx="484.7" cy="397.4" rx="6.3" ry="5.7" fill="#5044ba" transform="rotate(97 484.7 397.4)"/><ellipse cx="503.5" cy="339.8" rx="6.3" ry="5.8" fill="#5044ba" transform="rotate(140 503.5 339.8)"/><ellipse cx="490.1" cy="347.4" rx="6.3" ry="4.6" fill="#3e329e" transform="rotate(35 490.1 347.4)"/><ellipse cx="457.6" cy="374.8" rx="4.5" ry="3.3" fill="#5044ba" transform="rotate(94 457.6 374.8)"/><ellipse cx="438.9" cy="384.7" rx="6.5" ry="4.4" fill="#4c3eb6" transform="rotate(169 438.9 384.7)"/><ellipse cx="516.7" cy="357.8" rx="6.5" ry="4.7" fill="#4638b0" transform="rotate(115 516.7 357.8)"/><ellipse cx="455.7" cy="352.2" rx="4.9" ry="3.5" fill="#4638b0" transform="rotate(145 455.7 352.2)"/><ellipse cx="539.3" cy="341.9" rx="5.0" ry="3.3" fill="#3e329e" transform="rotate(5 539.3 341.9)"/><ellipse cx="471.9" cy="362.1" rx="6.1" ry="4.1" fill="#4c3eb6" transform="rotate(49 471.9 362.1)"/><ellipse cx="521.6" cy="346.8" rx="5.0" ry="3.4" fill="#4c3eb6" transform="rotate(170 521.6 346.8)"/><ellipse cx="451.9" cy="374.9" rx="6.5" ry="5.9" fill="#3e329e" transform="rotate(120 451.9 374.9)"/><ellipse cx="416.1" cy="376.3" rx="6.6" ry="4.3" fill="#5044ba" transform="rotate(44 416.1 376.3)"/><ellipse cx="499.0" cy="388.7" rx="6.8" ry="5.5" fill="#3e329e" transform="rotate(152 499.0 388.7)"/><ellipse cx="528.2" cy="374.8" rx="6.5" ry="5.9" fill="#4034a4" transform="rotate(115 528.2 374.8)"/><ellipse cx="519.2" cy="369.6" rx="4.6" ry="3.1" fill="#4034a4" transform="rotate(71 519.2 369.6)"/><ellipse cx="494.0" cy="391.0" rx="5.0" ry="3.4" fill="#3e329e" transform="rotate(29 494.0 391.0)"/><ellipse cx="443.0" cy="391.2" rx="5.6" ry="4.8" fill="#5044ba" transform="rotate(48 443.0 391.2)"/><ellipse cx="468.7" cy="343.8" rx="6.8" ry="4.5" fill="#4c3eb6" transform="rotate(96 468.7 343.8)"/><ellipse cx="468.1" cy="392.1" rx="5.8" ry="5.4" fill="#4c3eb6" transform="rotate(61 468.1 392.1)"/><ellipse cx="549.3" cy="348.8" rx="4.6" ry="3.2" fill="#3e329e" transform="rotate(77 549.3 348.8)"/><ellipse cx="543.1" cy="338.7" rx="6.0" ry="4.8" fill="#4c3eb6" transform="rotate(145 543.1 338.7)"/><ellipse cx="489.9" cy="342.2" rx="6.1" ry="5.7" fill="#5044ba" transform="rotate(61 489.9 342.2)"/><ellipse cx="509.0" cy="362.4" rx="4.5" ry="3.7" fill="#5044ba" transform="rotate(53 509.0 362.4)"/><ellipse cx="535.3" cy="355.5" rx="6.0" ry="5.6" fill="#4638b0" transform="rotate(141 535.3 355.5)"/><ellipse cx="466.6" cy="354.0" rx="5.0" ry="4.0" fill="#4034a4" transform="rotate(42 466.6 354.0)"/><ellipse cx="498.6" cy="345.5" rx="4.8" ry="3.5" fill="#5044ba" transform="rotate(27 498.6 345.5)"/><ellipse cx="457.4" cy="357.9" rx="5.7" ry="5.1" fill="#4c3eb6" transform="rotate(107 457.4 357.9)"/><ellipse cx="514.5" cy="378.6" rx="5.0" ry="4.5" fill="#3e329e" transform="rotate(129 514.5 378.6)"/><ellipse cx="501.2" cy="367.5" rx="5.3" ry="4.8" fill="#5044ba" transform="rotate(2 501.2 367.5)"/><ellipse cx="432.1" cy="390.9" rx="6.3" ry="4.3" fill="#4034a4" transform="rotate(155 432.1 390.9)"/><ellipse cx="440.5" cy="405.2" rx="5.7" ry="4.3" fill="#4034a4" transform="rotate(164 440.5 405.2)"/><ellipse cx="493.7" cy="400.4" rx="5.5" ry="4.7" fill="#4c3eb6" transform="rotate(125 493.7 400.4)"/><ellipse cx="435.8" cy="369.6" rx="5.1" ry="3.5" fill="#5044ba" transform="rotate(25 435.8 369.6)"/><ellipse cx="463.9" cy="337.8" rx="6.1" ry="4.1" fill="#4c3eb6" transform="rotate(127 463.9 337.8)"/><ellipse cx="418.1" cy="357.9" rx="4.6" ry="3.8" fill="#3e329e" transform="rotate(54 418.1 357.9)"/><ellipse cx="430.8" cy="381.4" rx="6.6" ry="5.3" fill="#5044ba" transform="rotate(88 430.8 381.4)"/><ellipse cx="464.9" cy="412.8" rx="5.5" ry="5.1" fill="#4638b0" transform="rotate(64 464.9 412.8)"/><ellipse cx="451.9" cy="390.1" rx="6.6" ry="5.3" fill="#3e329e" transform="rotate(130 451.9 390.1)"/><ellipse cx="444.0" cy="382.1" rx="6.0" ry="4.5" fill="#4034a4" transform="rotate(23 444.0 382.1)"/><ellipse cx="445.6" cy="391.0" rx="4.5" ry="3.4" fill="#4638b0" transform="rotate(79 445.6 391.0)"/><ellipse cx="513.3" cy="376.5" rx="6.1" ry="4.9" fill="#3e329e" transform="rotate(143 513.3 376.5)"/><ellipse cx="508.4" cy="378.5" rx="4.8" ry="4.3" fill="#5044ba" transform="rotate(53 508.4 378.5)"/><ellipse cx="495.8" cy="387.9" rx="4.8" ry="3.9" fill="#4c3eb6" transform="rotate(36 495.8 387.9)"/><ellipse cx="447.3" cy="371.7" rx="5.2" ry="4.1" fill="#4638b0" transform="rotate(18 447.3 371.7)"/><ellipse cx="528.8" cy="357.1" rx="6.0" ry="4.5" fill="#3e329e" transform="rotate(122 528.8 357.1)"/><ellipse cx="529.0" cy="402.9" rx="5.0" ry="4.4" fill="#5044ba" transform="rotate(81 529.0 402.9)"/><ellipse cx="510.7" cy="337.0" rx="5.6" ry="3.7" fill="#4638b0" transform="rotate(96 510.7 337.0)"/><ellipse cx="478.5" cy="350.9" rx="4.9" ry="3.6" fill="#4638b0" transform="rotate(1 478.5 350.9)"/><ellipse cx="459.0" cy="404.8" rx="5.4" ry="5.1" fill="#5044ba" transform="rotate(1 459.0 404.8)"/><ellipse cx="425.0" cy="394.2" rx="5.1" ry="4.3" fill="#3e329e" transform="rotate(176 425.0 394.2)"/><ellipse cx="511.2" cy="372.7" rx="6.8" ry="4.7" fill="#4c3eb6" transform="rotate(60 511.2 372.7)"/><ellipse cx="459.6" cy="407.0" rx="6.7" ry="4.6" fill="#5044ba" transform="rotate(108 459.6 407.0)"/><ellipse cx="514.3" cy="381.7" rx="6.4" ry="4.6" fill="#4638b0" transform="rotate(142 514.3 381.7)"/><ellipse cx="471.2" cy="405.5" rx="5.8" ry="4.2" fill="#3e329e" transform="rotate(137 471.2 405.5)"/><ellipse cx="460.7" cy="361.7" rx="5.1" ry="3.3" fill="#4034a4" transform="rotate(148 460.7 361.7)"/><ellipse cx="483.1" cy="349.7" rx="6.0" ry="5.3" fill="#4638b0" transform="rotate(26 483.1 349.7)"/><ellipse cx="537.8" cy="337.8" rx="6.5" ry="6.0" fill="#5044ba" transform="rotate(67 537.8 337.8)"/><ellipse cx="501.5" cy="373.5" rx="5.4" ry="4.9" fill="#4034a4" transform="rotate(63 501.5 373.5)"/><ellipse cx="469.8" cy="413.4" rx="4.8" ry="3.5" fill="#4638b0" transform="rotate(130 469.8 413.4)"/><ellipse cx="436.6" cy="379.2" rx="6.0" ry="4.4" fill="#4034a4" transform="rotate(93 436.6 379.2)"/><ellipse cx="456.1" cy="387.5" rx="4.7" ry="3.7" fill="#4c3eb6" transform="rotate(141 456.1 387.5)"/><ellipse cx="481.7" cy="348.2" rx="7.0" ry="6.3" fill="#3e329e" transform="rotate(90 481.7 348.2)"/><ellipse cx="502.9" cy="367.6" rx="5.8" ry="4.4" fill="#3e329e" transform="rotate(90 502.9 367.6)"/><ellipse cx="420.7" cy="400.7" rx="5.2" ry="4.1" fill="#4c3eb6" transform="rotate(29 420.7 400.7)"/><ellipse cx="478.8" cy="336.4" rx="4.9" ry="4.0" fill="#4c3eb6" transform="rotate(43 478.8 336.4)"/><ellipse cx="431.2" cy="362.6" rx="6.6" ry="4.3" fill="#3e329e" transform="rotate(28 431.2 362.6)"/><ellipse cx="494.5" cy="340.7" rx="5.6" ry="4.8" fill="#3e329e" transform="rotate(11 494.5 340.7)"/><ellipse cx="432.9" cy="387.8" rx="6.0" ry="4.8" fill="#3e329e" transform="rotate(167 432.9 387.8)"/><ellipse cx="496.5" cy="390.0" rx="4.5" ry="3.9" fill="#3e329e" transform="rotate(24 496.5 390.0)"/><ellipse cx="503.3" cy="337.9" rx="6.5" ry="5.9" fill="#4034a4" transform="rotate(85 503.3 337.9)"/><ellipse cx="540.1" cy="366.3" rx="6.2" ry="4.5" fill="#4034a4" transform="rotate(65 540.1 366.3)"/><ellipse cx="513.9" cy="347.1" rx="6.4" ry="4.9" fill="#5044ba" transform="rotate(4 513.9 347.1)"/><ellipse cx="444.5" cy="348.6" rx="6.5" ry="5.3" fill="#3e329e" transform="rotate(76 444.5 348.6)"/><ellipse cx="425.4" cy="395.4" rx="4.9" ry="3.6" fill="#4638b0" transform="rotate(127 425.4 395.4)"/><ellipse cx="437.7" cy="366.9" rx="5.9" ry="5.3" fill="#4c3eb6" transform="rotate(114 437.7 366.9)"/><ellipse cx="416.5" cy="379.2" rx="5.6" ry="4.8" fill="#4c3eb6" transform="rotate(86 416.5 379.2)"/><ellipse cx="478.4" cy="341.2" rx="5.2" ry="4.0" fill="#5044ba" transform="rotate(89 478.4 341.2)"/><ellipse cx="469.6" cy="364.2" rx="6.0" ry="5.2" fill="#4638b0" transform="rotate(18 469.6 364.2)"/><ellipse cx="419.6" cy="391.9" rx="4.7" ry="3.8" fill="#4638b0" transform="rotate(23 419.6 391.9)"/><ellipse cx="456.0" cy="379.5" rx="6.4" ry="4.5" fill="#4c3eb6" transform="rotate(40 456.0 379.5)"/><ellipse cx="479.3" cy="341.6" rx="4.5" ry="3.2" fill="#3e329e" transform="rotate(91 479.3 341.6)"/><ellipse cx="420.9" cy="347.2" rx="4.9" ry="4.2" fill="#4c3eb6" transform="rotate(143 420.9 347.2)"/><ellipse cx="444.7" cy="348.1" rx="5.3" ry="3.9" fill="#3e329e" transform="rotate(85 444.7 348.1)"/><ellipse cx="418.6" cy="409.5" rx="6.0" ry="4.8" fill="#5044ba" transform="rotate(93 418.6 409.5)"/><ellipse cx="482.8" cy="359.1" rx="5.5" ry="4.6" fill="#3e329e" transform="rotate(27 482.8 359.1)"/><ellipse cx="486.2" cy="359.5" rx="6.6" ry="5.7" fill="#4034a4" transform="rotate(137 486.2 359.5)"/><ellipse cx="471.1" cy="408.6" rx="5.1" ry="4.1" fill="#4638b0" transform="rotate(155 471.1 408.6)"/><ellipse cx="511.5" cy="338.4" rx="4.7" ry="3.9" fill="#4034a4" transform="rotate(155 511.5 338.4)"/><ellipse cx="479.2" cy="379.6" rx="5.2" ry="3.4" fill="#3e329e" transform="rotate(98 479.2 379.6)"/><ellipse cx="525.5" cy="378.9" rx="4.8" ry="3.4" fill="#4638b0" transform="rotate(147 525.5 378.9)"/><ellipse cx="455.5" cy="371.6" rx="5.8" ry="4.3" fill="#3e329e" transform="rotate(48 455.5 371.6)"/><ellipse cx="470.1" cy="356.1" rx="4.7" ry="4.1" fill="#4638b0" transform="rotate(136 470.1 356.1)"/><ellipse cx="484.8" cy="348.9" rx="6.7" ry="5.1" fill="#4034a4" transform="rotate(150 484.8 348.9)"/><ellipse cx="494.6" cy="380.4" rx="6.6" ry="5.8" fill="#4638b0" transform="rotate(49 494.6 380.4)"/><ellipse cx="445.3" cy="374.9" rx="6.4" ry="5.5" fill="#4638b0" transform="rotate(163 445.3 374.9)"/><polygon points="450.8,353.7 450.0,356.5 447.4,356.0 447.2,354.9 446.8,353.1 448.3,352.8 449.4,352.4" fill="#f2e23a" opacity="1"/><polygon points="504.6,361.1 503.8,363.3 502.6,362.6 500.8,361.7 500.8,360.8 502.6,358.9 504.3,358.8" fill="#f2e23a" opacity="1"/><polygon points="497.0,369.9 495.6,372.6 493.2,372.4 491.3,371.6 491.4,368.7 493.4,368.8 496.1,368.6" fill="#f2e23a" opacity="1"/><polygon points="447.8,347.6 447.0,347.9 446.2,348.0 444.6,347.5 445.5,347.0 446.0,346.5 447.1,346.2" fill="#f2e23a" opacity="1"/><polygon points="460.0,370.5 458.5,370.9 456.8,370.6 455.9,370.0 455.0,368.9 456.9,368.2 458.8,368.2" fill="#f2e23a" opacity="1"/><polygon points="470.4,367.4 469.6,368.4 469.0,368.0 468.1,367.4 468.1,366.8 468.6,365.6 470.0,366.3" fill="#f2e23a" opacity="1"/><polygon points="467.1,394.6 465.1,396.4 462.5,396.5 461.7,394.6 461.3,392.8 463.0,392.6 465.0,392.8" fill="#f2e23a" opacity="1"/><polygon points="492.8,385.8 492.0,387.1 491.2,388.3 489.9,387.0 490.3,385.4 490.6,384.5 491.9,385.5" fill="#f2e23a" opacity="1"/><polygon points="465.9,363.4 465.0,364.4 464.3,364.5 463.4,364.0 462.9,362.9 463.7,362.3 465.3,362.7" fill="#f2e23a" opacity="1"/><polygon points="483.0,361.9 482.7,363.1 481.1,363.7 480.4,362.7 479.3,361.5 481.2,360.9 482.4,360.3" fill="#f2e23a" opacity="1"/><polygon points="513.8,365.7 513.6,366.2 512.1,366.2 511.5,365.8 511.5,364.6 512.0,363.9 513.3,364.5" fill="#f2e23a" opacity="1"/><polygon points="497.8,364.8 497.5,366.0 496.1,365.8 494.0,365.8 494.5,363.9 495.9,361.8 497.6,363.2" fill="#f2e23a" opacity="1"/><polygon points="488.0,395.4 487.0,398.1 485.3,396.9 482.4,397.0 483.5,394.7 484.8,392.9 486.5,393.9" fill="#f2e23a" opacity="1"/><polygon points="515.7,362.1 514.9,363.5 512.4,364.4 511.8,363.2 512.0,362.2 513.5,361.2 514.8,360.6" fill="#f2e23a" opacity="1"/><polygon points="465.2,373.4 465.5,374.4 463.4,374.8 462.8,374.9 463.4,373.2 464.3,372.5 465.8,372.3" fill="#f2e23a" opacity="1"/><polygon points="489.1,372.3 489.7,373.8 486.3,374.2 485.5,372.7 486.3,371.7 487.4,368.9 488.5,370.9" fill="#f2e23a" opacity="1"/><polygon points="504.0,368.8 503.8,369.5 501.7,369.8 500.4,369.4 500.6,367.7 502.0,367.3 503.3,367.0" fill="#f2e23a" opacity="1"/><polygon points="459.8,388.4 459.8,389.5 457.9,390.4 457.3,388.9 457.1,388.1 458.1,387.6 459.9,387.1" fill="#f2e23a" opacity="1"/><polygon points="464.4,380.7 464.8,382.4 461.7,382.7 460.5,381.4 460.6,379.1 461.9,379.5 465.4,378.8" fill="#f2e23a" opacity="1"/><polygon points="523.8,379.7 524.1,380.8 522.8,380.1 521.0,379.7 522.1,378.9 522.6,378.6 524.0,378.6" fill="#f2e23a" opacity="1"/><polygon points="472.9,344.8 472.7,346.1 472.0,346.1 471.1,345.4 470.8,344.0 471.5,344.1 472.8,344.1" fill="#f2e23a" opacity="1"/><polygon points="478.7,356.4 477.5,358.8 475.7,358.4 474.3,358.2 474.6,355.4 475.5,355.0 478.0,355.8" fill="#f2e23a" opacity="1"/><polygon points="479.9,368.2 478.9,369.9 477.8,370.2 477.3,368.5 477.0,367.3 478.0,367.4 479.3,367.4" fill="#f2e23a" opacity="1"/><polygon points="486.1,365.5 487.4,367.3 484.2,367.9 483.1,366.8 483.5,365.5 483.5,364.1 485.9,363.7" fill="#f2e23a" opacity="1"/><polygon points="517.0,356.1 515.8,357.3 515.2,357.1 514.2,356.0 513.9,355.4 514.8,354.9 516.4,354.9" fill="#f2e23a" opacity="1"/><polygon points="458.8,380.0 459.2,381.4 456.3,381.4 455.5,380.1 454.9,377.9 456.2,377.8 458.1,378.2" fill="#f2e23a" opacity="1"/><polygon points="500.5,380.6 499.2,382.3 497.8,382.1 495.6,382.2 494.9,379.6 497.0,377.8 498.7,379.5" fill="#f2e23a" opacity="1"/><polygon points="478.4,364.7 476.7,366.5 475.1,367.6 473.3,365.9 471.8,364.2 473.8,362.9 476.7,362.5" fill="#f2e23a" opacity="1"/><polygon points="488.9,374.3 488.3,374.5 486.8,375.5 485.1,374.5 485.6,373.6 487.4,371.6 488.3,372.0" fill="#f2e23a" opacity="1"/><polygon points="491.3,362.8 489.4,366.2 487.2,364.8 485.7,364.0 485.5,360.9 486.5,359.6 488.6,361.5" fill="#f2e23a" opacity="1"/><polygon points="456.8,365.1 456.3,366.3 455.3,366.7 453.7,365.7 453.4,364.7 454.8,363.9 456.6,364.5" fill="#f2e23a" opacity="1"/><polygon points="477.4,372.2 476.5,373.3 475.3,373.5 474.1,373.3 474.4,371.7 475.1,371.6 476.2,371.2" fill="#f2e23a" opacity="1"/><polygon points="478.1,371.2 476.4,373.1 474.4,374.7 471.7,372.3 473.2,370.7 474.9,369.7 476.0,369.9" fill="#f2e23a" opacity="1"/><polygon points="429.8,384.1 429.9,385.7 427.6,385.2 426.8,384.6 425.2,383.5 427.4,381.5 429.5,381.7" fill="#f2e23a" opacity="1"/><polygon points="442.4,383.9 440.9,385.0 439.8,386.1 438.9,384.2 437.6,382.7 439.3,381.9 441.1,381.8" fill="#f2e23a" opacity="1"/><polygon points="449.1,367.6 448.0,367.8 446.7,369.1 444.4,368.2 446.0,366.5 445.7,364.3 448.8,364.7" fill="#f2e23a" opacity="1"/><polygon points="503.5,351.2 501.3,354.7 499.5,353.9 496.8,352.7 497.3,350.7 499.0,350.2 502.7,350.1" fill="#f2e23a" opacity="1"/><polygon points="506.9,364.6 506.0,366.2 504.8,366.8 503.8,365.3 504.0,364.3 504.2,363.4 507.4,363.5" fill="#f2e23a" opacity="1"/><polygon points="454.6,343.7 453.8,344.7 452.7,345.0 451.3,344.6 451.7,342.7 452.7,342.8 453.5,343.3" fill="#f2e23a" opacity="1"/><polygon points="463.9,349.9 462.7,351.2 461.7,352.2 460.0,351.3 461.1,349.3 461.6,348.1 463.4,348.9" fill="#f2e23a" opacity="1"/><polygon points="491.7,353.1 491.2,354.1 489.6,354.8 488.7,353.8 487.7,351.3 489.7,351.0 490.9,351.9" fill="#f2e23a" opacity="1"/><polygon points="514.4,344.6 512.6,346.0 511.0,347.3 511.0,345.5 511.0,344.8 511.7,343.2 513.1,343.8" fill="#f2e23a" opacity="1"/><polygon points="520.9,355.8 520.5,357.1 519.4,357.2 517.6,356.6 519.0,355.5 519.9,355.1 520.7,355.5" fill="#f2e23a" opacity="1"/><ellipse cx="433" cy="389" rx="7" ry="2.5" fill="#f4e8f2" transform="rotate(-15 433 389)" opacity="1"/><ellipse cx="425" cy="372" rx="4" ry="1.5" fill="#f4e8f2" transform="rotate(-35 425 372)" opacity="1"/><ellipse cx="509" cy="362" rx="2.5" ry="3.5" fill="#f4e8f2" transform="rotate(0 509 362)" opacity="1"/><ellipse cx="495" cy="386" rx="3" ry="3" fill="#f4e8f2" transform="rotate(0 495 386)" opacity="1"/><ellipse cx="466" cy="380" rx="2" ry="1.5" fill="#f4e8f2" transform="rotate(0 466 380)" opacity="1"/><ellipse cx="480" cy="362" rx="1.5" ry="2" fill="#f4e8f2" transform="rotate(0 480 362)" opacity="1"/><ellipse cx="528" cy="350" rx="1.5" ry="3" fill="#f4e8f2" transform="rotate(0 528 350)" opacity="1"/><ellipse cx="521" cy="386" rx="1" ry="5" fill="#e8d8e8" transform="rotate(10 521 386)" opacity="1"/><ellipse cx="547" cy="373" rx="1.2" ry="4" fill="#e8d8e8" transform="rotate(0 547 373)" opacity="1"/><ellipse cx="436" cy="359" rx="4" ry="1" fill="#30b8e0" transform="rotate(-40 436 359)" opacity="1"/><ellipse cx="530" cy="392" rx="1" ry="6" fill="#30a8d0" transform="rotate(20 530 392)" opacity="1"/><ellipse cx="543" cy="398" rx="1" ry="5" fill="#30a8d0" transform="rotate(10 543 398)" opacity="1"/><ellipse cx="508" cy="400" rx="1" ry="4" fill="#30a8d0" transform="rotate(30 508 400)" opacity="1"/><ellipse cx="470" cy="383" rx="1.5" ry="1.2" fill="#40c0e0" transform="rotate(0 470 383)" opacity="1"/><ellipse cx="438" cy="400" rx="2" ry="1.5" fill="#e02040" transform="rotate(0 438 400)" opacity="1"/><ellipse cx="490" cy="384" rx="1.5" ry="1.5" fill="#e02040" transform="rotate(0 490 384)" opacity="1"/><ellipse cx="541" cy="372" rx="1.5" ry="1.2" fill="#e02040" transform="rotate(0 541 372)" opacity="1"/><ellipse cx="455" cy="349" rx="1.5" ry="1.5" fill="#30c040" transform="rotate(0 455 349)" opacity="1"/><ellipse cx="540.3" cy="353.4" rx="0.9" ry="3.2" fill="#e8c8e0" opacity="0.66" transform="rotate(-14 540.3 353.4)"/><ellipse cx="482.9" cy="361.9" rx="1.8" ry="3.6" fill="#d8a0c8" opacity="0.89" transform="rotate(16 482.9 361.9)"/><ellipse cx="483.7" cy="345.2" rx="1.3" ry="3.9" fill="#f4ecf4" opacity="0.85" transform="rotate(-20 483.7 345.2)"/><ellipse cx="462.3" cy="403.9" rx="1.7" ry="3.9" fill="#f0dcec" opacity="0.63" transform="rotate(16 462.3 403.9)"/><ellipse cx="472.9" cy="403.8" rx="1.6" ry="3.3" fill="#f0dcec" opacity="0.80" transform="rotate(-9 472.9 403.8)"/><ellipse cx="477.2" cy="384.2" rx="1.6" ry="2.4" fill="#d8a0c8" opacity="0.70" transform="rotate(1 477.2 384.2)"/><ellipse cx="468.9" cy="363.5" rx="1.5" ry="2.6" fill="#f0dcec" opacity="0.75" transform="rotate(-28 468.9 363.5)"/><ellipse cx="510.7" cy="351.6" rx="1.8" ry="3.8" fill="#f0dcec" opacity="0.76" transform="rotate(37 510.7 351.6)"/><ellipse cx="523.1" cy="346.8" rx="1.7" ry="3.1" fill="#f0dcec" opacity="0.60" transform="rotate(2 523.1 346.8)"/><ellipse cx="437.5" cy="351.8" rx="1.5" ry="1.6" fill="#f4ecf4" opacity="0.82" transform="rotate(-6 437.5 351.8)"/><ellipse cx="432.3" cy="342.6" rx="2.0" ry="3.7" fill="#e8c8e0" opacity="0.84" transform="rotate(29 432.3 342.6)"/><ellipse cx="478.3" cy="370.7" rx="2.2" ry="2.0" fill="#d8a0c8" opacity="0.58" transform="rotate(-9 478.3 370.7)"/><ellipse cx="490.8" cy="352.0" rx="0.9" ry="2.9" fill="#f0dcec" opacity="0.52" transform="rotate(-25 490.8 352.0)"/><ellipse cx="478.7" cy="393.8" rx="1.9" ry="3.5" fill="#e8c8e0" opacity="0.67" transform="rotate(1 478.7 393.8)"/><ellipse cx="490.1" cy="408.3" rx="1.9" ry="2.7" fill="#f0dcec" opacity="0.83" transform="rotate(35 490.1 408.3)"/><ellipse cx="530.5" cy="400.8" rx="0.9" ry="3.5" fill="#e8c8e0" opacity="0.83" transform="rotate(-14 530.5 400.8)"/><ellipse cx="517.0" cy="344.7" rx="0.8" ry="2.7" fill="#f4ecf4" opacity="0.62" transform="rotate(-16 517.0 344.7)"/><ellipse cx="546.7" cy="341.5" rx="2.2" ry="2.5" fill="#e8c8e0" opacity="0.86" transform="rotate(4 546.7 341.5)"/><ellipse cx="493.8" cy="384.7" rx="1.2" ry="3.2" fill="#f4ecf4" opacity="0.72" transform="rotate(19 493.8 384.7)"/><ellipse cx="539.4" cy="380.2" rx="1.1" ry="3.8" fill="#f4ecf4" opacity="0.62" transform="rotate(17 539.4 380.2)"/><ellipse cx="463.4" cy="389.3" rx="1.3" ry="2.7" fill="#e8c8e0" opacity="0.66" transform="rotate(-14 463.4 389.3)"/><ellipse cx="461.2" cy="376.4" rx="2.1" ry="1.9" fill="#f0dcec" opacity="0.75" transform="rotate(-23 461.2 376.4)"/><ellipse cx="464.2" cy="362.3" rx="1.0" ry="3.3" fill="#e8c8e0" opacity="0.71" transform="rotate(-32 464.2 362.3)"/><ellipse cx="476.2" cy="372.9" rx="2.2" ry="3.8" fill="#f4ecf4" opacity="0.77" transform="rotate(1 476.2 372.9)"/><ellipse cx="484.6" cy="402.5" rx="1.4" ry="3.4" fill="#d8a0c8" opacity="0.77" transform="rotate(-21 484.6 402.5)"/><ellipse cx="532.7" cy="366.2" rx="1.0" ry="3.9" fill="#f4ecf4" opacity="0.78" transform="rotate(-7 532.7 366.2)"/><polygon points="535.3,345.2 535.0,345.9 533.6,346.2 532.7,346.2 532.8,344.9 533.6,344.7 534.7,343.9" fill="#f2e23a" opacity="1"/><polygon points="535.2,347.8 535.0,349.4 532.6,350.0 531.5,348.8 531.2,347.1 533.5,346.2 534.9,347.3" fill="#f2e23a" opacity="1"/><polygon points="499.3,342.0 499.5,343.3 497.9,343.1 497.3,342.9 497.2,342.0 498.1,340.6 499.2,340.3" fill="#f2e23a" opacity="1"/><polygon points="425.8,400.0 425.4,400.7 424.8,401.0 424.2,400.7 423.4,399.6 424.9,399.0 425.4,399.6" fill="#f2e23a" opacity="1"/><polygon points="544.8,402.8 545.5,404.9 542.7,404.3 542.5,403.5 541.0,402.3 542.8,401.9 544.1,401.7" fill="#f2e23a" opacity="1"/><polygon points="453.3,389.1 452.4,390.8 450.1,391.0 449.4,389.3 449.5,388.4 450.7,387.7 452.4,387.1" fill="#f2e23a" opacity="1"/><polygon points="435.5,370.0 434.5,371.0 433.7,372.2 433.1,370.3 431.8,368.8 433.5,367.7 435.9,368.5" fill="#f2e23a" opacity="1"/><polygon points="448.2,381.5 447.3,382.5 446.9,383.4 445.0,381.9 445.6,381.0 446.2,380.6 447.4,380.7" fill="#f2e23a" opacity="1"/><polygon points="523.2,364.8 522.9,365.2 522.5,366.0 521.4,365.5 521.9,364.3 522.4,363.6 523.5,364.2" fill="#f2e23a" opacity="1"/><polygon points="500.3,355.5 500.3,356.1 498.8,356.9 498.2,356.0 497.8,354.8 498.9,354.2 500.1,353.9" fill="#f2e23a" opacity="1"/><rect x="448.4" y="367.8" width="1.2" height="1.2" fill="#f8f0f0"/><rect x="499.3" y="381.8" width="1.4" height="1.4" fill="#f8f0f0"/><rect x="518.7" y="343.1" width="1.7" height="1.7" fill="#30c0e0"/><rect x="529.4" y="407.2" width="1.9" height="1.9" fill="#30c0e0"/><rect x="439.6" y="345.0" width="1.6" height="1.6" fill="#e040a0"/><rect x="524.7" y="343.4" width="1.7" height="1.7" fill="#f8f0f0"/><rect x="522.4" y="366.9" width="1.6" height="1.6" fill="#ff3040"/><rect x="469.6" y="387.8" width="1.0" height="1.0" fill="#f8f0f0"/><rect x="513.0" y="355.2" width="1.5" height="1.5" fill="#30c0e0"/><rect x="430.3" y="388.8" width="1.1" height="1.1" fill="#30c0e0"/><rect x="466.8" y="358.3" width="0.9" height="0.9" fill="#f8f0f0"/><rect x="428.4" y="386.1" width="1.8" height="1.8" fill="#f8f0f0"/><rect x="464.5" y="360.0" width="1.5" height="1.5" fill="#30c0e0"/><rect x="457.4" y="372.6" width="1.0" height="1.0" fill="#f0e040"/><rect x="539.2" y="379.1" width="1.2" height="1.2" fill="#f8f0f0"/><rect x="545.6" y="365.1" width="1.2" height="1.2" fill="#e040a0"/><rect x="434.7" y="357.7" width="1.0" height="1.0" fill="#f0e040"/><rect x="516.2" y="361.5" width="1.4" height="1.4" fill="#f0e040"/><rect x="522.0" y="361.6" width="1.9" height="1.9" fill="#f8f0f0"/><rect x="464.3" y="362.6" width="1.0" height="1.0" fill="#f8f0f0"/><rect x="471.3" y="370.3" width="1.2" height="1.2" fill="#f8f0f0"/><rect x="436.3" y="379.7" width="1.3" height="1.3" fill="#f0e040"/><rect x="532.8" y="404.0" width="1.1" height="1.1" fill="#f0e040"/><rect x="480.8" y="370.8" width="1.3" height="1.3" fill="#30c0e0"/><rect x="528.1" y="404.3" width="1.6" height="1.6" fill="#f0e040"/><rect x="476.5" y="386.2" width="1.6" height="1.6" fill="#f0e040"/><rect x="494.7" y="365.9" width="1.0" height="1.0" fill="#e040a0"/><rect x="474.0" y="404.3" width="1.5" height="1.5" fill="#f0e040"/><rect x="440.5" y="350.6" width="1.5" height="1.5" fill="#f0e040"/><rect x="472.3" y="371.8" width="1.8" height="1.8" fill="#f0e040"/><rect x="431.4" y="381.4" width="1.3" height="1.3" fill="#40c060"/><rect x="493.9" y="349.9" width="0.9" height="0.9" fill="#f8f0f0"/><rect x="498.4" y="405.1" width="1.8" height="1.8" fill="#f8f0f0"/><rect x="545.0" y="385.8" width="1.0" height="1.0" fill="#f0e040"/><rect x="492.3" y="391.6" width="0.9" height="0.9" fill="#f0e040"/><rect x="547.4" y="404.3" width="1.5" height="1.5" fill="#f0e040"/><rect x="488.8" y="344.5" width="1.9" height="1.9" fill="#f8f0f0"/><rect x="481.7" y="401.7" width="0.8" height="0.8" fill="#30c0e0"/><rect x="474.1" y="389.2" width="1.9" height="1.9" fill="#f0e040"/><rect x="529.9" y="370.9" width="1.8" height="1.8" fill="#30c0e0"/><rect x="420.5" y="382.8" width="0.8" height="0.8" fill="#ff3040"/><rect x="419.3" y="407.0" width="1.2" height="1.2" fill="#f8f0f0"/><rect x="476.2" y="364.4" width="1.3" height="1.3" fill="#30c0e0"/><rect x="509.5" y="382.1" width="1.2" height="1.2" fill="#30c0e0"/><rect x="433.5" y="344.8" width="1.1" height="1.1" fill="#30c0e0"/><rect x="478.1" y="341.4" width="1.7" height="1.7" fill="#30c0e0"/><rect x="537.5" y="391.1" width="1.9" height="1.9" fill="#30c0e0"/><rect x="520.1" y="356.0" width="1.2" height="1.2" fill="#f0e040"/><rect x="454.8" y="405.7" width="1.4" height="1.4" fill="#e040a0"/><rect x="427.3" y="386.7" width="0.8" height="0.8" fill="#ff3040"/>
</g></g>
<text x="498.80" y="346.20" font-size="8.3" text-anchor="start" fill="#34b4e6" >ICAM2+CK+</text>
<text x="481.40" y="363.60" font-size="8.3" text-anchor="start" fill="#9ee0a0" >LY6E+CD68+</text>
<text x="494.30" y="407.60" font-size="8.3" text-anchor="start" fill="#d8ccde" >PD1+CD8+</text>
<text x="418.60" y="407.00" font-size="5.5" text-anchor="start" fill="#fff" >12.5 µm</text>
<text x="12.70" y="447.00" font-size="14.5" text-anchor="start" fill="#000" font-weight="bold" >d</text>
<text x="58.40" y="459.60" font-size="8.5" text-anchor="start" fill="#1a1a1a" ><tspan font-style="italic">r</tspan> = 0.46, <tspan font-style="italic">P</tspan> = 0.0035</text>
<polygon points="59.6,524.2 62.8,523.8 66.0,523.3 69.1,522.9 72.3,522.3 75.5,521.8 78.7,521.1 81.9,520.3 85.0,519.4 88.2,518.4 91.4,517.1 94.6,515.8 97.8,514.4 100.9,512.8 104.1,511.2 107.3,509.5 110.5,507.8 113.6,506.1 116.8,504.3 120.0,502.6 123.2,500.8 126.4,499.0 129.5,497.1 132.7,495.3 135.9,493.5 135.9,517.1 132.7,517.5 129.5,518.0 126.4,518.5 123.2,518.9 120.0,519.4 116.8,519.9 113.6,520.4 110.5,521.0 107.3,521.5 104.1,522.1 100.9,522.8 97.8,523.5 94.6,524.4 91.4,525.3 88.2,526.4 85.0,527.6 81.9,528.9 78.7,530.5 75.5,532.1 72.3,533.8 69.1,535.5 66.0,537.3 62.8,539.1 59.6,541.0" fill="#d9dadc"/>
<line x1="59.60" y1="532.60" x2="135.90" y2="505.30" stroke="#2b79aa" stroke-width="1.1" />
<circle cx="115.5" cy="465.4" r="1.25" fill="#bf4448"/><circle cx="121.6" cy="489.2" r="1.25" fill="#bf4448"/><circle cx="80.5" cy="497.9" r="1.25" fill="#bf4448"/><circle cx="86.1" cy="495.6" r="1.25" fill="#bf4448"/><circle cx="89.8" cy="498.0" r="1.25" fill="#bf4448"/><circle cx="98.6" cy="501.6" r="1.25" fill="#bf4448"/><circle cx="112.6" cy="501.6" r="1.25" fill="#bf4448"/><circle cx="116.6" cy="503.7" r="1.25" fill="#bf4448"/><circle cx="134.0" cy="501.9" r="1.25" fill="#bf4448"/><circle cx="82.6" cy="512.0" r="1.25" fill="#bf4448"/><circle cx="91.4" cy="512.0" r="1.25" fill="#bf4448"/><circle cx="72.9" cy="515.2" r="1.25" fill="#bf4448"/><circle cx="80.1" cy="519.2" r="1.25" fill="#bf4448"/><circle cx="102.6" cy="516.5" r="1.25" fill="#bf4448"/><circle cx="108.7" cy="516.5" r="1.25" fill="#bf4448"/><circle cx="107.4" cy="519.7" r="1.25" fill="#bf4448"/><circle cx="93.5" cy="523.7" r="1.25" fill="#bf4448"/><circle cx="77.7" cy="526.5" r="1.25" fill="#bf4448"/><circle cx="81.4" cy="528.0" r="1.25" fill="#bf4448"/><circle cx="96.5" cy="528.0" r="1.25" fill="#bf4448"/><circle cx="128.8" cy="527.7" r="1.25" fill="#bf4448"/><circle cx="80.5" cy="531.0" r="1.25" fill="#bf4448"/><circle cx="133.1" cy="531.3" r="1.25" fill="#bf4448"/><circle cx="62.5" cy="530.5" r="1.25" fill="#bf4448"/><circle cx="60.1" cy="533.7" r="1.25" fill="#bf4448"/><circle cx="67.3" cy="533.4" r="1.25" fill="#bf4448"/><circle cx="72.1" cy="533.7" r="1.25" fill="#bf4448"/><circle cx="82.1" cy="533.4" r="1.25" fill="#bf4448"/><circle cx="83.0" cy="534.5" r="1.25" fill="#bf4448"/><circle cx="107.4" cy="534.2" r="1.25" fill="#bf4448"/><circle cx="62.5" cy="539.4" r="1.25" fill="#bf4448"/><circle cx="65.7" cy="538.4" r="1.25" fill="#bf4448"/><circle cx="68.9" cy="539.4" r="1.25" fill="#bf4448"/><circle cx="71.3" cy="538.0" r="1.25" fill="#bf4448"/><circle cx="72.4" cy="540.0" r="1.25" fill="#bf4448"/><circle cx="80.1" cy="539.9" r="1.25" fill="#bf4448"/><circle cx="136.0" cy="538.7" r="1.25" fill="#bf4448"/>
<circle cx="113.5" cy="462.4" r="1.0" fill="none" stroke="#d08080" stroke-width="0.5"/>
<line x1="56.50" y1="462.20" x2="56.50" y2="544.50" stroke="#3a3a3a" stroke-width="0.9" />
<line x1="56.50" y1="544.50" x2="138.80" y2="544.50" stroke="#3a3a3a" stroke-width="0.9" />
<line x1="54.50" y1="467.00" x2="56.50" y2="467.00" stroke="#3a3a3a" stroke-width="0.9" />
<text x="52.60" y="469.75" font-size="8.3" text-anchor="end" fill="#1a1a1a" >1200</text>
<line x1="54.50" y1="491.50" x2="56.50" y2="491.50" stroke="#3a3a3a" stroke-width="0.9" />
<text x="52.60" y="494.25" font-size="8.3" text-anchor="end" fill="#1a1a1a" >800</text>
<line x1="54.50" y1="516.00" x2="56.50" y2="516.00" stroke="#3a3a3a" stroke-width="0.9" />
<text x="52.60" y="518.75" font-size="8.3" text-anchor="end" fill="#1a1a1a" >400</text>
<line x1="54.50" y1="540.50" x2="56.50" y2="540.50" stroke="#3a3a3a" stroke-width="0.9" />
<text x="52.60" y="543.25" font-size="8.3" text-anchor="end" fill="#1a1a1a" >0</text>
<line x1="59.30" y1="544.50" x2="59.30" y2="546.50" stroke="#3a3a3a" stroke-width="0.9" />
<text x="59.30" y="555.80" font-size="8.3" text-anchor="middle" fill="#1a1a1a" >0</text>
<line x1="79.00" y1="544.50" x2="79.00" y2="546.50" stroke="#3a3a3a" stroke-width="0.9" />
<text x="79.00" y="555.80" font-size="8.3" text-anchor="middle" fill="#1a1a1a" >250</text>
<line x1="98.70" y1="544.50" x2="98.70" y2="546.50" stroke="#3a3a3a" stroke-width="0.9" />
<text x="98.70" y="555.80" font-size="8.3" text-anchor="middle" fill="#1a1a1a" >500</text>
<line x1="118.40" y1="544.50" x2="118.40" y2="546.50" stroke="#3a3a3a" stroke-width="0.9" />
<text x="118.40" y="555.80" font-size="8.3" text-anchor="middle" fill="#1a1a1a" >750</text>
<line x1="138.10" y1="544.50" x2="138.10" y2="546.50" stroke="#3a3a3a" stroke-width="0.9" />
<text x="138.10" y="555.80" font-size="8.3" text-anchor="middle" fill="#1a1a1a" >1000</text>
<text x="96.90" y="567.30" font-size="8.5" text-anchor="middle" fill="#1a1a1a" >Density of LY6E+CD68+</text>
<text x="95.80" y="576.60" font-size="8.5" text-anchor="middle" fill="#1a1a1a" >(number/mm<tspan dy="-3.2" font-size="5.5">2</tspan><tspan dy="3.2">)</tspan></text>
<text transform="translate(20.30,503.50) rotate(-90)" font-size="8.5" text-anchor="middle" fill="#1a1a1a">Density of ICAM2+panCK+</text>
<text transform="translate(30.20,504.50) rotate(-90)" font-size="8.5" text-anchor="middle" fill="#1a1a1a">(number/mm<tspan dy="-3.2" font-size="5.5">2</tspan><tspan dy="3.2">)</tspan></text>
<text x="156.50" y="445.30" font-size="14.5" text-anchor="start" fill="#000" font-weight="bold" >e</text>
<text x="199.80" y="459.70" font-size="8.5" text-anchor="start" fill="#1a1a1a" ><tspan font-style="italic">r</tspan> = 0.39, <tspan font-style="italic">P</tspan> = 0.015</text>
<polygon points="202.8,523.2 206.0,523.0 209.2,522.8 212.3,522.5 215.5,522.2 218.7,521.9 221.9,521.5 225.1,520.9 228.2,520.3 231.4,519.5 234.6,518.5 237.8,517.4 241.0,516.2 244.1,514.9 247.3,513.5 250.5,512.0 253.7,510.5 256.8,509.0 260.0,507.4 263.2,505.9 266.4,504.3 269.6,502.7 272.7,501.0 275.9,499.4 279.1,497.8 279.1,521.4 275.9,521.6 272.7,521.9 269.6,522.1 266.4,522.3 263.2,522.6 260.0,522.9 256.8,523.2 253.7,523.5 250.5,523.8 247.3,524.2 244.1,524.7 241.0,525.2 237.8,525.8 234.6,526.6 231.4,527.5 228.2,528.5 225.1,529.7 221.9,531.0 218.7,532.5 215.5,534.0 212.3,535.5 209.2,537.1 206.0,538.8 202.8,540.4" fill="#d9dadc"/>
<line x1="202.80" y1="531.80" x2="279.10" y2="509.60" stroke="#2b79aa" stroke-width="1.1" />
<circle cx="279.4" cy="463.8" r="1.25" fill="#bf4448"/><circle cx="246.2" cy="478.8" r="1.25" fill="#bf4448"/><circle cx="252.3" cy="491.1" r="1.25" fill="#bf4448"/><circle cx="214.9" cy="504.0" r="1.25" fill="#bf4448"/><circle cx="223.2" cy="504.8" r="1.25" fill="#bf4448"/><circle cx="224.2" cy="504.0" r="1.25" fill="#bf4448"/><circle cx="250.7" cy="504.8" r="1.25" fill="#bf4448"/><circle cx="242.2" cy="510.9" r="1.25" fill="#bf4448"/><circle cx="215.7" cy="516.8" r="1.25" fill="#bf4448"/><circle cx="229.0" cy="516.5" r="1.25" fill="#bf4448"/><circle cx="225.7" cy="519.2" r="1.25" fill="#bf4448"/><circle cx="277.0" cy="516.3" r="1.25" fill="#bf4448"/><circle cx="251.0" cy="520.8" r="1.25" fill="#bf4448"/><circle cx="239.8" cy="524.1" r="1.25" fill="#bf4448"/><circle cx="259.0" cy="524.4" r="1.25" fill="#bf4448"/><circle cx="259.5" cy="523.6" r="1.25" fill="#bf4448"/><circle cx="214.4" cy="526.0" r="1.25" fill="#bf4448"/><circle cx="236.6" cy="527.6" r="1.25" fill="#bf4448"/><circle cx="277.5" cy="528.4" r="1.25" fill="#bf4448"/><circle cx="222.9" cy="529.2" r="1.25" fill="#bf4448"/><circle cx="224.2" cy="530.5" r="1.25" fill="#bf4448"/><circle cx="210.1" cy="530.8" r="1.25" fill="#bf4448"/><circle cx="220.5" cy="532.4" r="1.25" fill="#bf4448"/><circle cx="215.4" cy="532.9" r="1.25" fill="#bf4448"/><circle cx="212.2" cy="534.0" r="1.25" fill="#bf4448"/><circle cx="203.2" cy="534.5" r="1.25" fill="#bf4448"/><circle cx="206.1" cy="536.1" r="1.25" fill="#bf4448"/><circle cx="209.0" cy="536.1" r="1.25" fill="#bf4448"/><circle cx="205.3" cy="537.7" r="1.25" fill="#bf4448"/><circle cx="225.7" cy="534.5" r="1.25" fill="#bf4448"/><circle cx="223.7" cy="536.9" r="1.25" fill="#bf4448"/><circle cx="233.0" cy="533.4" r="1.25" fill="#bf4448"/><circle cx="234.6" cy="535.3" r="1.25" fill="#bf4448"/><circle cx="255.8" cy="535.0" r="1.25" fill="#bf4448"/><circle cx="265.2" cy="536.1" r="1.25" fill="#bf4448"/><circle cx="272.2" cy="536.9" r="1.25" fill="#bf4448"/>
<line x1="200.00" y1="459.80" x2="200.00" y2="543.80" stroke="#3a3a3a" stroke-width="0.9" />
<line x1="200.00" y1="543.80" x2="282.50" y2="543.80" stroke="#3a3a3a" stroke-width="0.9" />
<line x1="198.00" y1="481.10" x2="200.00" y2="481.10" stroke="#3a3a3a" stroke-width="0.9" />
<text x="196.20" y="483.85" font-size="8.3" text-anchor="end" fill="#1a1a1a" >1000</text>
<line x1="198.00" y1="509.20" x2="200.00" y2="509.20" stroke="#3a3a3a" stroke-width="0.9" />
<text x="196.20" y="511.95" font-size="8.3" text-anchor="end" fill="#1a1a1a" >500</text>
<line x1="198.00" y1="537.30" x2="200.00" y2="537.30" stroke="#3a3a3a" stroke-width="0.9" />
<text x="196.20" y="540.05" font-size="8.3" text-anchor="end" fill="#1a1a1a" >0</text>
<line x1="201.90" y1="543.80" x2="201.90" y2="545.80" stroke="#3a3a3a" stroke-width="0.9" />
<text x="201.90" y="554.30" font-size="8.3" text-anchor="middle" fill="#1a1a1a" >0</text>
<line x1="221.80" y1="543.80" x2="221.80" y2="545.80" stroke="#3a3a3a" stroke-width="0.9" />
<text x="221.80" y="554.30" font-size="8.3" text-anchor="middle" fill="#1a1a1a" >250</text>
<line x1="241.70" y1="543.80" x2="241.70" y2="545.80" stroke="#3a3a3a" stroke-width="0.9" />
<text x="241.70" y="554.30" font-size="8.3" text-anchor="middle" fill="#1a1a1a" >500</text>
<line x1="261.60" y1="543.80" x2="261.60" y2="545.80" stroke="#3a3a3a" stroke-width="0.9" />
<text x="261.60" y="554.30" font-size="8.3" text-anchor="middle" fill="#1a1a1a" >750</text>
<line x1="281.40" y1="543.80" x2="281.40" y2="545.80" stroke="#3a3a3a" stroke-width="0.9" />
<text x="281.40" y="554.30" font-size="8.3" text-anchor="middle" fill="#1a1a1a" >1000</text>
<text x="241.60" y="566.10" font-size="8.5" text-anchor="middle" fill="#1a1a1a" >Density of LY6E+CD68+</text>
<text x="240.00" y="576.00" font-size="8.5" text-anchor="middle" fill="#1a1a1a" >(number/mm<tspan dy="-3.2" font-size="5.5">2</tspan><tspan dy="3.2">)</tspan></text>
<text transform="translate(165.30,503.00) rotate(-90)" font-size="8.5" text-anchor="middle" fill="#1a1a1a">Density of PD1+CD8+</text>
<text transform="translate(174.60,501.50) rotate(-90)" font-size="8.5" text-anchor="middle" fill="#1a1a1a">(number/mm<tspan dy="-3.2" font-size="5.5">2</tspan><tspan dy="3.2">)</tspan></text>
<text x="303.30" y="446.10" font-size="14.5" text-anchor="start" fill="#000" font-weight="bold" >f</text>
<text x="367.30" y="449.60" font-size="8.5" text-anchor="middle" fill="#1a1a1a" >Distance to</text>
<text x="366.90" y="460.20" font-size="8.5" text-anchor="middle" fill="#1a1a1a" >ICAM2+panCK+ cells</text>
<text x="369.50" y="469.30" font-size="8.5" text-anchor="middle" fill="#1a1a1a" ><tspan font-style="italic">P</tspan> &lt; 0.0001</text>
<polygon points="354.20,481.00 354.21,481.71 354.21,482.41 354.22,483.12 354.22,483.82 354.23,484.53 354.24,485.24 354.24,485.94 354.25,486.65 354.25,487.35 354.26,488.06 354.26,488.76 354.27,489.47 354.28,490.18 354.28,490.88 354.29,491.59 354.29,492.29 354.30,493.00 354.90,494.00 355.50,495.00 356.00,495.80 356.50,496.60 357.02,497.40 357.55,498.20 357.78,499.00 358.87,499.80 359.27,500.60 360.09,501.40 360.79,502.20 361.33,503.00 362.06,503.75 362.37,504.50 362.41,505.25 363.05,506.00 362.87,507.00 363.19,508.00 363.32,508.71 363.27,509.43 363.14,510.14 363.13,510.86 362.64,511.57 362.63,512.29 362.67,513.00 362.32,513.80 362.08,514.60 361.90,515.40 361.78,516.20 361.51,517.00 361.17,517.75 360.38,518.50 360.41,519.25 359.83,520.00 359.16,520.75 358.84,521.50 358.08,522.25 358.04,523.00 356.95,524.00 355.80,525.00 355.25,526.00 354.70,527.00 353.90,528.30 353.10,528.30 352.30,527.00 351.75,526.00 351.20,525.00 349.99,524.00 349.38,523.00 348.59,522.25 348.37,521.50 347.81,520.75 347.40,520.00 347.01,519.25 346.54,518.50 346.25,517.75 345.79,517.00 345.46,516.20 345.07,515.40 344.86,514.60 344.64,513.80 344.53,513.00 344.05,512.29 344.35,511.57 344.06,510.86 343.96,510.14 344.05,509.43 343.98,508.71 343.98,508.00 343.80,507.00 344.13,506.00 344.46,505.25 344.76,504.50 345.19,503.75 345.57,503.00 346.37,502.20 347.15,501.40 347.48,500.60 348.06,499.80 349.06,499.00 349.43,498.20 349.87,497.40 350.50,496.60 351.00,495.80 351.50,495.00 352.10,494.00 352.70,493.00 352.71,492.29 352.71,491.59 352.72,490.88 352.72,490.18 352.73,489.47 352.74,488.76 352.74,488.06 352.75,487.35 352.75,486.65 352.76,485.94 352.76,485.24 352.77,484.53 352.78,483.82 352.78,483.12 352.79,482.41 352.79,481.71 352.80,481.00" fill="#9fc7e7"/>
<polygon points="383.70,485.00 383.71,485.73 383.72,486.46 383.72,487.19 383.73,487.92 383.74,488.65 383.75,489.38 383.75,490.12 383.76,490.85 383.77,491.58 383.78,492.31 383.78,493.04 383.79,493.77 383.80,494.50 384.43,495.33 385.07,496.17 385.70,497.00 386.14,497.80 386.99,498.60 388.01,499.40 389.17,500.20 389.45,501.00 389.90,501.80 390.15,502.60 391.28,503.40 391.58,504.20 391.42,505.00 391.99,505.75 392.37,506.50 391.85,507.25 392.55,508.00 392.10,508.70 392.01,509.40 392.70,510.10 392.18,510.80 392.42,511.50 392.65,512.20 392.25,512.90 392.26,513.60 392.13,514.30 391.89,515.00 392.19,515.80 391.89,516.60 391.50,517.40 391.15,518.20 390.93,519.00 390.42,519.75 390.27,520.50 389.53,521.25 388.54,522.00 387.59,522.87 386.87,523.73 385.70,524.60 384.20,526.00 383.90,526.87 383.60,527.73 383.30,528.60 382.50,528.60 382.20,527.73 381.90,526.87 381.60,526.00 380.10,524.60 379.27,523.73 377.57,522.87 377.26,522.00 376.16,521.25 375.62,520.50 375.29,519.75 374.52,519.00 374.83,518.20 374.13,517.40 373.74,516.60 373.31,515.80 373.78,515.00 373.19,514.30 373.57,513.60 373.48,512.90 373.80,512.20 373.82,511.50 373.48,510.80 373.82,510.10 373.40,509.40 373.42,508.70 373.50,508.00 373.92,507.25 373.96,506.50 373.75,505.75 374.37,505.00 374.80,504.20 374.64,503.40 375.01,502.60 375.73,501.80 376.34,501.00 377.28,500.20 377.31,499.40 378.41,498.60 379.06,497.80 380.10,497.00 380.73,496.17 381.37,495.33 382.00,494.50 382.01,493.77 382.02,493.04 382.02,492.31 382.03,491.58 382.04,490.85 382.05,490.12 382.05,489.38 382.06,488.65 382.07,487.92 382.08,487.19 382.08,486.46 382.09,485.73 382.10,485.00" fill="#a53536"/>
<line x1="343.80" y1="507.40" x2="363.20" y2="507.40" stroke="#222" stroke-width="1.2" />
<line x1="373.10" y1="509.60" x2="392.60" y2="509.60" stroke="#222" stroke-width="1.2" />
<line x1="336.60" y1="469.00" x2="336.60" y2="543.10" stroke="#3a3a3a" stroke-width="1.0" />
<line x1="334.00" y1="543.10" x2="336.60" y2="543.10" stroke="#3a3a3a" stroke-width="0.9" />
<text x="330.80" y="545.85" font-size="8.3" text-anchor="end" fill="#1a1a1a" >1</text>
<line x1="335.20" y1="535.74" x2="336.60" y2="535.74" stroke="#3a3a3a" stroke-width="0.6" />
<line x1="335.20" y1="531.43" x2="336.60" y2="531.43" stroke="#3a3a3a" stroke-width="0.6" />
<line x1="335.20" y1="528.38" x2="336.60" y2="528.38" stroke="#3a3a3a" stroke-width="0.6" />
<line x1="335.20" y1="526.01" x2="336.60" y2="526.01" stroke="#3a3a3a" stroke-width="0.6" />
<line x1="335.20" y1="524.07" x2="336.60" y2="524.07" stroke="#3a3a3a" stroke-width="0.6" />
<line x1="335.20" y1="522.44" x2="336.60" y2="522.44" stroke="#3a3a3a" stroke-width="0.6" />
<line x1="335.20" y1="521.02" x2="336.60" y2="521.02" stroke="#3a3a3a" stroke-width="0.6" />
<line x1="335.20" y1="519.77" x2="336.60" y2="519.77" stroke="#3a3a3a" stroke-width="0.6" />
<line x1="334.00" y1="518.65" x2="336.60" y2="518.65" stroke="#3a3a3a" stroke-width="0.9" />
<text x="330.80" y="521.40" font-size="8.3" text-anchor="end" fill="#1a1a1a" >10</text>
<line x1="335.20" y1="511.29" x2="336.60" y2="511.29" stroke="#3a3a3a" stroke-width="0.6" />
<line x1="335.20" y1="506.98" x2="336.60" y2="506.98" stroke="#3a3a3a" stroke-width="0.6" />
<line x1="335.20" y1="503.93" x2="336.60" y2="503.93" stroke="#3a3a3a" stroke-width="0.6" />
<line x1="335.20" y1="501.56" x2="336.60" y2="501.56" stroke="#3a3a3a" stroke-width="0.6" />
<line x1="335.20" y1="499.62" x2="336.60" y2="499.62" stroke="#3a3a3a" stroke-width="0.6" />
<line x1="335.20" y1="497.99" x2="336.60" y2="497.99" stroke="#3a3a3a" stroke-width="0.6" />
<line x1="335.20" y1="496.57" x2="336.60" y2="496.57" stroke="#3a3a3a" stroke-width="0.6" />
<line x1="335.20" y1="495.32" x2="336.60" y2="495.32" stroke="#3a3a3a" stroke-width="0.6" />
<line x1="334.00" y1="494.20" x2="336.60" y2="494.20" stroke="#3a3a3a" stroke-width="0.9" />
<text x="330.80" y="496.95" font-size="8.3" text-anchor="end" fill="#1a1a1a" >100</text>
<line x1="335.20" y1="486.84" x2="336.60" y2="486.84" stroke="#3a3a3a" stroke-width="0.6" />
<line x1="335.20" y1="482.53" x2="336.60" y2="482.53" stroke="#3a3a3a" stroke-width="0.6" />
<line x1="335.20" y1="479.48" x2="336.60" y2="479.48" stroke="#3a3a3a" stroke-width="0.6" />
<line x1="335.20" y1="477.11" x2="336.60" y2="477.11" stroke="#3a3a3a" stroke-width="0.6" />
<line x1="335.20" y1="475.17" x2="336.60" y2="475.17" stroke="#3a3a3a" stroke-width="0.6" />
<line x1="335.20" y1="473.54" x2="336.60" y2="473.54" stroke="#3a3a3a" stroke-width="0.6" />
<line x1="335.20" y1="472.12" x2="336.60" y2="472.12" stroke="#3a3a3a" stroke-width="0.6" />
<line x1="335.20" y1="470.87" x2="336.60" y2="470.87" stroke="#3a3a3a" stroke-width="0.6" />
<line x1="334.00" y1="469.75" x2="336.60" y2="469.75" stroke="#3a3a3a" stroke-width="0.9" />
<text x="330.80" y="472.50" font-size="8.3" text-anchor="end" fill="#1a1a1a" >1000</text>
<line x1="333.80" y1="543.10" x2="402.80" y2="543.10" stroke="#3a3a3a" stroke-width="1.1" />
<text transform="translate(309.30,505.50) rotate(-90)" font-size="8.5" text-anchor="middle" fill="#1a1a1a">Distance (µm)</text>
<text transform="translate(356.5,548.5) rotate(-45)" font-size="8.5" text-anchor="end" fill="#1a1a1a">LY6E-CD68</text>
<text transform="translate(385.8,548.5) rotate(-45)" font-size="8.5" text-anchor="end" fill="#1a1a1a">LY6E+CD68</text>
<text x="414.00" y="444.10" font-size="14.5" text-anchor="start" fill="#000" font-weight="bold" >g</text>
<text x="480.90" y="449.30" font-size="8.5" text-anchor="middle" fill="#1a1a1a" >Distance to</text>
<text x="481.50" y="459.70" font-size="8.5" text-anchor="middle" fill="#1a1a1a" >PD1+CD8+ cells</text>
<text x="480.10" y="468.50" font-size="8.5" text-anchor="middle" fill="#1a1a1a" ><tspan font-style="italic">P</tspan> &lt; 0.0001</text>
<polygon points="467.10,474.10 467.10,474.82 467.11,475.54 467.11,476.26 467.12,476.98 467.12,477.70 467.12,478.42 467.13,479.13 467.13,479.85 467.13,480.57 467.14,481.29 467.14,482.01 467.15,482.73 467.15,483.45 467.15,484.17 467.16,484.89 467.16,485.61 467.17,486.33 467.17,487.05 467.17,487.77 467.18,488.48 467.18,489.20 467.18,489.92 467.19,490.64 467.19,491.36 467.20,492.08 467.20,492.80 467.57,493.60 467.95,494.40 468.32,495.20 468.70,496.00 469.30,496.73 470.02,497.47 470.72,498.20 471.31,498.93 471.68,499.67 472.37,500.40 472.57,501.12 473.11,501.83 473.74,502.55 474.03,503.27 474.84,503.98 474.93,504.70 475.17,505.52 475.41,506.35 476.04,507.18 475.96,508.00 476.13,508.77 476.02,509.54 475.72,510.31 475.69,511.09 475.55,511.86 475.06,512.63 474.83,513.40 474.47,514.12 474.42,514.83 474.14,515.55 473.64,516.27 473.41,516.98 473.09,517.70 472.51,518.42 472.13,519.13 472.17,519.85 471.78,520.57 471.31,521.28 470.67,522.00 470.73,522.73 470.23,523.47 469.92,524.20 469.30,524.93 468.90,525.67 468.50,526.40 468.10,527.10 467.70,527.80 467.30,528.50 467.00,529.35 466.70,530.20 465.90,530.20 465.60,529.35 465.30,528.50 464.90,527.80 464.50,527.10 464.10,526.40 463.70,525.67 463.30,524.93 463.11,524.20 462.35,523.47 461.94,522.73 461.45,522.00 461.27,521.28 460.73,520.57 460.72,519.85 460.47,519.13 459.97,518.42 459.41,517.70 459.34,516.98 458.79,516.27 458.30,515.55 458.13,514.83 457.74,514.12 457.53,513.40 457.64,512.63 457.38,511.86 456.98,511.09 456.99,510.31 456.71,509.54 456.90,508.77 456.35,508.00 456.50,507.18 457.06,506.35 457.40,505.52 457.63,504.70 457.86,503.98 458.19,503.27 458.92,502.55 459.35,501.83 460.03,501.12 460.52,500.40 460.66,499.67 461.62,498.93 462.25,498.20 462.76,497.47 463.30,496.73 463.90,496.00 464.28,495.20 464.65,494.40 465.03,493.60 465.40,492.80 465.40,492.08 465.41,491.36 465.41,490.64 465.42,489.92 465.42,489.20 465.42,488.48 465.43,487.77 465.43,487.05 465.43,486.33 465.44,485.61 465.44,484.89 465.45,484.17 465.45,483.45 465.45,482.73 465.46,482.01 465.46,481.29 465.47,480.57 465.47,479.85 465.47,479.13 465.48,478.42 465.48,477.70 465.48,476.98 465.49,476.26 465.49,475.54 465.50,474.82 465.50,474.10" fill="#9fc7e7"/>
<polygon points="495.10,474.90 495.10,475.61 495.11,476.33 495.11,477.04 495.11,477.75 495.12,478.46 495.12,479.18 495.12,479.89 495.13,480.60 495.13,481.32 495.13,482.03 495.14,482.74 495.14,483.45 495.14,484.17 495.15,484.88 495.15,485.59 495.15,486.31 495.15,487.02 495.16,487.73 495.16,488.45 495.16,489.16 495.17,489.87 495.17,490.58 495.17,491.30 495.18,492.01 495.18,492.72 495.18,493.44 495.19,494.15 495.19,494.86 495.19,495.57 495.20,496.29 495.20,497.00 495.97,497.77 496.73,498.53 497.50,499.30 498.37,500.02 498.45,500.73 499.40,501.45 500.07,502.17 500.66,502.88 501.27,503.60 501.36,504.36 502.04,505.12 502.37,505.88 502.55,506.64 503.37,507.40 503.17,508.16 503.71,508.92 503.51,509.68 503.41,510.44 503.61,511.20 503.81,511.97 503.80,512.74 503.98,513.51 503.53,514.29 503.62,515.06 503.80,515.83 503.18,516.60 502.92,517.42 502.53,518.25 502.72,519.08 502.65,519.90 501.58,520.70 500.87,521.50 500.88,522.30 499.46,523.10 498.79,523.92 498.91,524.75 497.70,525.58 497.20,526.40 496.70,527.10 496.20,527.80 495.70,528.50 495.30,529.35 494.90,530.20 494.10,530.20 493.70,529.35 493.30,528.50 492.80,527.80 492.30,527.10 491.80,526.40 491.23,525.58 490.30,524.75 490.03,523.92 489.28,523.10 488.19,522.30 487.79,521.50 486.98,520.70 486.16,519.90 486.64,519.08 486.18,518.25 485.99,517.42 485.28,516.60 485.90,515.83 485.69,515.06 485.85,514.29 485.29,513.51 485.07,512.74 485.68,511.97 485.32,511.20 484.95,510.44 485.71,509.68 485.19,508.92 485.99,508.16 486.07,507.40 486.51,506.64 486.40,505.88 487.15,505.12 487.77,504.36 487.80,503.60 488.47,502.88 489.14,502.17 489.30,501.45 490.32,500.73 491.18,500.02 491.50,499.30 492.27,498.53 493.03,497.77 493.80,497.00 493.80,496.29 493.81,495.57 493.81,494.86 493.81,494.15 493.82,493.44 493.82,492.72 493.82,492.01 493.83,491.30 493.83,490.58 493.83,489.87 493.84,489.16 493.84,488.45 493.84,487.73 493.85,487.02 493.85,486.31 493.85,485.59 493.85,484.88 493.86,484.17 493.86,483.45 493.86,482.74 493.87,482.03 493.87,481.32 493.87,480.60 493.88,479.89 493.88,479.18 493.88,478.46 493.89,477.75 493.89,477.04 493.89,476.33 493.90,475.61 493.90,474.90" fill="#a53536"/>
<line x1="456.70" y1="506.30" x2="476.00" y2="506.30" stroke="#222" stroke-width="1.2" />
<line x1="485.20" y1="511.00" x2="503.90" y2="511.00" stroke="#222" stroke-width="1.2" />
<line x1="448.70" y1="473.00" x2="448.70" y2="544.10" stroke="#3a3a3a" stroke-width="1.0" />
<line x1="446.10" y1="544.10" x2="448.70" y2="544.10" stroke="#3a3a3a" stroke-width="0.9" />
<text x="444.50" y="546.85" font-size="8.3" text-anchor="end" fill="#1a1a1a" >1</text>
<line x1="447.30" y1="537.00" x2="448.70" y2="537.00" stroke="#3a3a3a" stroke-width="0.6" />
<line x1="447.30" y1="532.85" x2="448.70" y2="532.85" stroke="#3a3a3a" stroke-width="0.6" />
<line x1="447.30" y1="529.91" x2="448.70" y2="529.91" stroke="#3a3a3a" stroke-width="0.6" />
<line x1="447.30" y1="527.63" x2="448.70" y2="527.63" stroke="#3a3a3a" stroke-width="0.6" />
<line x1="447.30" y1="525.76" x2="448.70" y2="525.76" stroke="#3a3a3a" stroke-width="0.6" />
<line x1="447.30" y1="524.18" x2="448.70" y2="524.18" stroke="#3a3a3a" stroke-width="0.6" />
<line x1="447.30" y1="522.81" x2="448.70" y2="522.81" stroke="#3a3a3a" stroke-width="0.6" />
<line x1="447.30" y1="521.61" x2="448.70" y2="521.61" stroke="#3a3a3a" stroke-width="0.6" />
<line x1="446.10" y1="520.53" x2="448.70" y2="520.53" stroke="#3a3a3a" stroke-width="0.9" />
<text x="444.50" y="523.28" font-size="8.3" text-anchor="end" fill="#1a1a1a" >10</text>
<line x1="447.30" y1="513.43" x2="448.70" y2="513.43" stroke="#3a3a3a" stroke-width="0.6" />
<line x1="447.30" y1="509.28" x2="448.70" y2="509.28" stroke="#3a3a3a" stroke-width="0.6" />
<line x1="447.30" y1="506.34" x2="448.70" y2="506.34" stroke="#3a3a3a" stroke-width="0.6" />
<line x1="447.30" y1="504.06" x2="448.70" y2="504.06" stroke="#3a3a3a" stroke-width="0.6" />
<line x1="447.30" y1="502.19" x2="448.70" y2="502.19" stroke="#3a3a3a" stroke-width="0.6" />
<line x1="447.30" y1="500.61" x2="448.70" y2="500.61" stroke="#3a3a3a" stroke-width="0.6" />
<line x1="447.30" y1="499.24" x2="448.70" y2="499.24" stroke="#3a3a3a" stroke-width="0.6" />
<line x1="447.30" y1="498.04" x2="448.70" y2="498.04" stroke="#3a3a3a" stroke-width="0.6" />
<line x1="446.10" y1="496.96" x2="448.70" y2="496.96" stroke="#3a3a3a" stroke-width="0.9" />
<text x="444.50" y="499.71" font-size="8.3" text-anchor="end" fill="#1a1a1a" >100</text>
<line x1="447.30" y1="489.86" x2="448.70" y2="489.86" stroke="#3a3a3a" stroke-width="0.6" />
<line x1="447.30" y1="485.71" x2="448.70" y2="485.71" stroke="#3a3a3a" stroke-width="0.6" />
<line x1="447.30" y1="482.77" x2="448.70" y2="482.77" stroke="#3a3a3a" stroke-width="0.6" />
<line x1="447.30" y1="480.49" x2="448.70" y2="480.49" stroke="#3a3a3a" stroke-width="0.6" />
<line x1="447.30" y1="478.62" x2="448.70" y2="478.62" stroke="#3a3a3a" stroke-width="0.6" />
<line x1="447.30" y1="477.04" x2="448.70" y2="477.04" stroke="#3a3a3a" stroke-width="0.6" />
<line x1="447.30" y1="475.67" x2="448.70" y2="475.67" stroke="#3a3a3a" stroke-width="0.6" />
<line x1="447.30" y1="474.47" x2="448.70" y2="474.47" stroke="#3a3a3a" stroke-width="0.6" />
<line x1="446.10" y1="473.39" x2="448.70" y2="473.39" stroke="#3a3a3a" stroke-width="0.9" />
<text x="444.50" y="476.14" font-size="8.3" text-anchor="end" fill="#1a1a1a" >1000</text>
<line x1="446.20" y1="544.10" x2="518.90" y2="544.10" stroke="#3a3a3a" stroke-width="1.1" />
<text transform="translate(420.70,507.50) rotate(-90)" font-size="8.5" text-anchor="middle" fill="#1a1a1a">Distance (µm)</text>
<text transform="translate(468.8,549.5) rotate(-45)" font-size="8.5" text-anchor="end" fill="#1a1a1a">LY6E-CD68</text>
<text transform="translate(497.6,549.5) rotate(-45)" font-size="8.5" text-anchor="end" fill="#1a1a1a">LY6E+CD68</text>
<text x="533.50" y="446.50" font-size="14.5" text-anchor="start" fill="#000" font-weight="bold" >h</text>
<text x="609.00" y="447.70" font-size="8.5" text-anchor="middle" fill="#1a1a1a" >Orient-2</text>
<line x1="569.10" y1="447.00" x2="569.10" y2="534.30" stroke="#7a7a7a" stroke-width="1.0" />
<line x1="569.10" y1="534.30" x2="670.40" y2="534.30" stroke="#7a7a7a" stroke-width="1.0" />
<line x1="567.10" y1="450.40" x2="569.10" y2="450.40" stroke="#7a7a7a" stroke-width="0.8" />
<text x="564.60" y="453.50" font-size="8.8" text-anchor="end" fill="#1a1a1a" >1.00</text>
<line x1="567.10" y1="470.40" x2="569.10" y2="470.40" stroke="#7a7a7a" stroke-width="0.8" />
<text x="564.60" y="473.50" font-size="8.8" text-anchor="end" fill="#1a1a1a" >0.75</text>
<line x1="567.10" y1="490.40" x2="569.10" y2="490.40" stroke="#7a7a7a" stroke-width="0.8" />
<text x="564.60" y="493.50" font-size="8.8" text-anchor="end" fill="#1a1a1a" >0.50</text>
<line x1="567.10" y1="510.40" x2="569.10" y2="510.40" stroke="#7a7a7a" stroke-width="0.8" />
<text x="564.60" y="513.50" font-size="8.8" text-anchor="end" fill="#1a1a1a" >0.25</text>
<line x1="567.10" y1="530.40" x2="569.10" y2="530.40" stroke="#7a7a7a" stroke-width="0.8" />
<text x="564.60" y="533.50" font-size="8.8" text-anchor="end" fill="#1a1a1a" >0.00</text>
<line x1="573.10" y1="534.30" x2="573.10" y2="536.30" stroke="#7a7a7a" stroke-width="0.8" />
<text x="573.10" y="544.70" font-size="8.8" text-anchor="middle" fill="#1a1a1a" >0</text>
<line x1="603.73" y1="534.30" x2="603.73" y2="536.30" stroke="#7a7a7a" stroke-width="0.8" />
<text x="603.73" y="544.70" font-size="8.8" text-anchor="middle" fill="#1a1a1a" >5</text>
<line x1="634.35" y1="534.30" x2="634.35" y2="536.30" stroke="#7a7a7a" stroke-width="0.8" />
<text x="634.35" y="544.70" font-size="8.8" text-anchor="middle" fill="#1a1a1a" >10</text>
<line x1="664.98" y1="534.30" x2="664.98" y2="536.30" stroke="#7a7a7a" stroke-width="0.8" />
<text x="664.98" y="544.70" font-size="8.8" text-anchor="middle" fill="#1a1a1a" >15</text>
<text x="619.80" y="557.40" font-size="8.5" text-anchor="middle" fill="#1a1a1a" >Time (months)</text>
<text transform="translate(541.30,490.60) rotate(-90)" font-size="8.5" text-anchor="middle" fill="#1a1a1a">Survival probability</text>
<polyline points="573.3,450.6 581.5,450.6 581.5,457.0 582.3,457.0 582.3,469.0 583.0,469.0 583.0,475.1 589.1,475.1 589.1,481.1 590.1,481.1 590.1,487.6 598.8,487.6 598.8,493.1 600.3,493.1 600.3,501.7 620.6,501.7 620.6,508.9 634.5,508.9 634.5,515.7 658.5,515.7 658.5,530.3" fill="none" stroke="#c4565a" stroke-width="1.0"/>
<line x1="646.70" y1="514.20" x2="646.70" y2="517.20" stroke="#c4565a" stroke-width="0.8" />
<polyline points="573.3,450.6 575.5,450.6 575.5,451.8 577.8,451.8 577.8,453.3 579.6,453.3 579.6,455.2 580.8,455.2 580.8,457.8 581.2,457.8 581.2,461.5 581.5,461.5 581.5,472.0 582.0,472.0 582.0,494.6 583.0,494.6 583.0,499.1 585.3,499.1 585.3,500.9 587.6,500.9 587.6,502.6 589.1,502.6 589.1,505.2 590.6,505.2 590.6,506.7 590.9,506.7 590.9,511.2 592.1,511.2 592.1,512.4 595.8,512.4 595.8,513.0 597.3,513.0 597.3,514.5 599.6,514.5 599.6,516.0 601.1,516.0 601.1,518.2 604.8,518.2 604.8,519.4 605.6,519.4 605.6,520.9 620.6,520.9 620.6,521.4 621.4,521.4 621.4,523.4 626.6,523.4 626.6,524.3 627.5,524.3 627.5,525.4 631.2,525.4 631.2,526.0 633.0,526.0 633.0,527.2 633.9,527.2 633.9,528.0" fill="none" stroke="#1ea3d4" stroke-width="1.0"/>
<line x1="581.90" y1="493.20" x2="581.90" y2="495.80" stroke="#1ea3d4" stroke-width="0.8" />
<line x1="587.60" y1="501.30" x2="587.60" y2="503.90" stroke="#1ea3d4" stroke-width="0.8" />
<line x1="582.00" y1="466.70" x2="582.00" y2="469.30" stroke="#1ea3d4" stroke-width="0.8" />
<line x1="633.90" y1="526.70" x2="633.90" y2="529.30" stroke="#1ea3d4" stroke-width="0.8" />
<text x="574.80" y="528.00" font-size="7.3" text-anchor="start" fill="#1a1a1a" ><tspan font-style="italic">P</tspan> = 0.015</text>
<line x1="630.30" y1="455.50" x2="635.00" y2="455.50" stroke="#c4565a" stroke-width="1.0" />
<line x1="632.60" y1="454.30" x2="632.60" y2="456.70" stroke="#c4565a" stroke-width="0.8" />
<text x="637.80" y="457.80" font-size="6.95" text-anchor="start" fill="#1a1a1a" >High niche Sig.</text>
<line x1="630.30" y1="464.60" x2="635.00" y2="464.60" stroke="#1ea3d4" stroke-width="1.0" />
<line x1="632.60" y1="463.40" x2="632.60" y2="465.80" stroke="#1ea3d4" stroke-width="0.8" />
<text x="637.80" y="466.80" font-size="6.95" text-anchor="start" fill="#1a1a1a" >Low niche Sig.</text>
<text x="619.00" y="568.60" font-size="7.0" text-anchor="middle" fill="#1a1a1a" >Number at risk</text>
<text x="565.20" y="576.10" font-size="5.6" text-anchor="end" fill="#d04848" >High niche Sig.</text>
<text x="565.20" y="581.20" font-size="5.6" text-anchor="end" fill="#20a4d6" >Low niche Sig.</text>
<line x1="569.40" y1="571.50" x2="569.40" y2="582.60" stroke="#333" stroke-width="0.7" />
<line x1="569.40" y1="582.60" x2="669.80" y2="582.60" stroke="#333" stroke-width="0.7" />
<line x1="568.40" y1="574.00" x2="569.40" y2="574.00" stroke="#333" stroke-width="0.5" />
<line x1="568.40" y1="579.20" x2="569.40" y2="579.20" stroke="#333" stroke-width="0.5" />
<text x="573.80" y="576.00" font-size="5.6" text-anchor="middle" fill="#1a1a1a" >15</text>
<text x="573.80" y="581.00" font-size="5.6" text-anchor="middle" fill="#1a1a1a" >49</text>
<line x1="573.10" y1="582.60" x2="573.10" y2="583.60" stroke="#333" stroke-width="0.5" />
<text x="573.10" y="590.10" font-size="5.6" text-anchor="middle" fill="#1a1a1a" >0</text>
<text x="604.52" y="576.00" font-size="5.6" text-anchor="middle" fill="#1a1a1a" >4</text>
<text x="604.52" y="581.00" font-size="5.6" text-anchor="middle" fill="#1a1a1a" >5</text>
<line x1="603.73" y1="582.60" x2="603.73" y2="583.60" stroke="#333" stroke-width="0.5" />
<text x="603.73" y="590.10" font-size="5.6" text-anchor="middle" fill="#1a1a1a" >5</text>
<text x="635.15" y="576.00" font-size="5.6" text-anchor="middle" fill="#1a1a1a" >2</text>
<text x="635.15" y="581.00" font-size="5.6" text-anchor="middle" fill="#1a1a1a" >0</text>
<line x1="634.35" y1="582.60" x2="634.35" y2="583.60" stroke="#333" stroke-width="0.5" />
<text x="634.35" y="590.10" font-size="5.6" text-anchor="middle" fill="#1a1a1a" >10</text>
<text x="665.77" y="576.00" font-size="5.6" text-anchor="middle" fill="#1a1a1a" >0</text>
<text x="665.77" y="581.00" font-size="5.6" text-anchor="middle" fill="#1a1a1a" >0</text>
<line x1="664.98" y1="582.60" x2="664.98" y2="583.60" stroke="#333" stroke-width="0.5" />
<text x="664.98" y="590.10" font-size="5.6" text-anchor="middle" fill="#1a1a1a" >15</text>
<text x="619.50" y="597.10" font-size="6.0" text-anchor="middle" fill="#1a1a1a" >Time (months)</text>
</svg></body></html>
